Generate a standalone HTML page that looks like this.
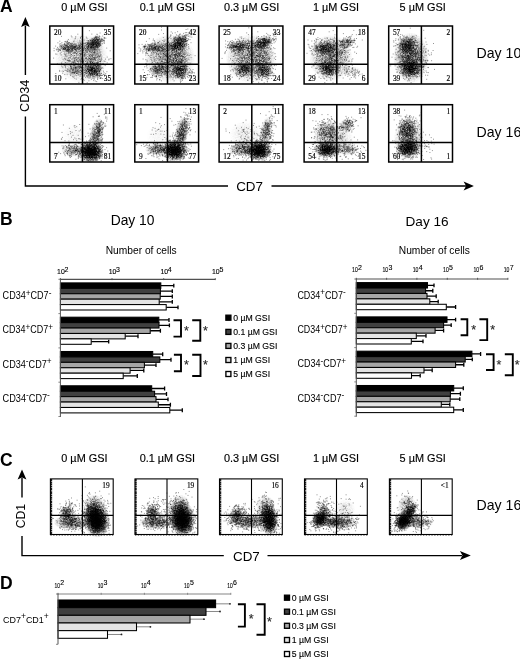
<!DOCTYPE html>
<html><head><meta charset="utf-8"><title>Figure</title>
<style>html,body{margin:0;padding:0;background:#fff}svg{display:block}text{fill:#000}</style></head><body>
<svg width="520" height="659" viewBox="0 0 520 659">
<defs><radialGradient id="g1"><stop offset="0" stop-color="#000" stop-opacity="1"/><stop offset="0.45" stop-color="#000" stop-opacity="0.75"/><stop offset="1" stop-color="#000" stop-opacity="0"/></radialGradient><filter id="sf" x="-5%" y="-5%" width="110%" height="110%"><feGaussianBlur stdDeviation="3.2"/></filter><filter id="st" x="-2%" y="-2%" width="104%" height="104%" color-interpolation-filters="sRGB"><feTurbulence type="fractalNoise" baseFrequency="0.85" numOctaves="2" seed="5" result="n"/><feColorMatrix in="n" type="matrix" values="0 0 0 0 0 0 0 0 0 0 0 0 0 0 0 2.4 0 0 0 -0.7" result="na"/><feComposite in="SourceGraphic" in2="na" operator="arithmetic" k1="1.1" k2="0.4" k3="0" k4="0"/></filter></defs>
<rect width="520" height="659" fill="#fff"/>
<text x="0" y="12.4" font-size="17.5" text-anchor="start" font-family="Liberation Sans, Arial, sans-serif" font-weight="bold">A</text>
<text x="0" y="224.7" font-size="17.5" text-anchor="start" font-family="Liberation Sans, Arial, sans-serif" font-weight="bold">B</text>
<text x="0" y="466.1" font-size="17.5" text-anchor="start" font-family="Liberation Sans, Arial, sans-serif" font-weight="bold">C</text>
<text x="0" y="588.5" font-size="17.5" text-anchor="start" font-family="Liberation Sans, Arial, sans-serif" font-weight="bold">D</text>
<text x="84.4" y="11.1" font-size="10.9" text-anchor="middle" font-family="Liberation Sans, Arial, sans-serif" stroke="#000" stroke-width="0.15">0 µM GSI</text>
<text x="84.4" y="462.0" font-size="10.9" text-anchor="middle" font-family="Liberation Sans, Arial, sans-serif" stroke="#000" stroke-width="0.15">0 µM GSI</text>
<text x="167.3" y="11.1" font-size="10.9" text-anchor="middle" font-family="Liberation Sans, Arial, sans-serif" stroke="#000" stroke-width="0.15">0.1 µM GSI</text>
<text x="167.3" y="462.0" font-size="10.9" text-anchor="middle" font-family="Liberation Sans, Arial, sans-serif" stroke="#000" stroke-width="0.15">0.1 µM GSI</text>
<text x="251.6" y="11.1" font-size="10.9" text-anchor="middle" font-family="Liberation Sans, Arial, sans-serif" stroke="#000" stroke-width="0.15">0.3 µM GSI</text>
<text x="251.6" y="462.0" font-size="10.9" text-anchor="middle" font-family="Liberation Sans, Arial, sans-serif" stroke="#000" stroke-width="0.15">0.3 µM GSI</text>
<text x="336.0" y="11.1" font-size="10.9" text-anchor="middle" font-family="Liberation Sans, Arial, sans-serif" stroke="#000" stroke-width="0.15">1 µM GSI</text>
<text x="336.0" y="462.0" font-size="10.9" text-anchor="middle" font-family="Liberation Sans, Arial, sans-serif" stroke="#000" stroke-width="0.15">1 µM GSI</text>
<text x="422.7" y="11.1" font-size="10.9" text-anchor="middle" font-family="Liberation Sans, Arial, sans-serif" stroke="#000" stroke-width="0.15">5 µM GSI</text>
<text x="422.7" y="462.0" font-size="10.9" text-anchor="middle" font-family="Liberation Sans, Arial, sans-serif" stroke="#000" stroke-width="0.15">5 µM GSI</text>
<path d="M25.4 25.5V75M25.4 116.5V186H228M271.5 186H466" stroke="#000" stroke-width="1.4" fill="none"/>
<path d="M25.4 16.9L21.1 27L25.4 25.1L29.7 27Z" fill="#000"/>
<path d="M473.9 186L463.6 181.6L466.1 186L463.6 190.4Z" fill="#000"/>
<text transform="translate(28.8 111.9) rotate(-90)" font-size="12.6" font-family="Liberation Sans, Arial, sans-serif">CD34</text>
<text x="236.2" y="191.4" font-size="13.4" text-anchor="start" font-family="Liberation Sans, Arial, sans-serif">CD7</text>
<text x="476.6" y="57.9" font-size="14.1" text-anchor="start" font-family="Liberation Sans, Arial, sans-serif">Day 10</text>
<text x="476.6" y="136.9" font-size="14.1" text-anchor="start" font-family="Liberation Sans, Arial, sans-serif">Day 16</text>
<g filter="url(#st)"><rect x="49.8" y="26.0" width="63.8" height="58.0" fill="#000" fill-opacity="0.001"/>
<ellipse cx="81.7" cy="58.5" rx="26.8" ry="24.4" fill="url(#g1)" opacity="0.25" transform="rotate(0 81.7 58.5)"/>
<ellipse cx="81.7" cy="46.9" rx="23.0" ry="5.2" fill="url(#g1)" opacity="0.3" transform="rotate(0 81.7 46.9)"/>
<ellipse cx="94.5" cy="57.9" rx="8.9" ry="20.9" fill="url(#g1)" opacity="0.28" transform="rotate(0 94.5 57.9)"/>
<ellipse cx="67.7" cy="48.0" rx="10.8" ry="4.6" fill="url(#g1)" opacity="0.36" transform="rotate(0 67.7 48.0)"/>
<ellipse cx="95.1" cy="42.8" rx="9.6" ry="7.0" fill="url(#g1)" opacity="0.6" transform="rotate(-30 95.1 42.8)"/>
<ellipse cx="93.2" cy="70.7" rx="9.6" ry="8.7" fill="url(#g1)" opacity="0.6" transform="rotate(0 93.2 70.7)"/>
<ellipse cx="75.3" cy="70.1" rx="9.6" ry="6.4" fill="url(#g1)" opacity="0.26" transform="rotate(0 75.3 70.1)"/>
</g>
<path transform="translate(49.8 26.0) scale(0.1)" d="M293 207h10M187 232h10M135 220h10M185 170h10M250 238h10M145 215h10M217 213h10M170 178h10M220 224h10M203 176h10M290 225h10M160 279h10M182 178h10M159 154h10M252 208h10M138 252h10M80 236h10M53 201h10M108 263h10M298 211h10M239 215h10M221 199h10M76 168h10M209 286h10M202 205h10M307 227h10M191 228h10M177 211h10M93 235h10M179 255h10M161 165h10M179 270h10M161 195h10M109 190h10M166 186h10M281 212h10M192 262h10M281 214h10M206 242h10M173 169h10M227 246h10M212 194h10M173 203h10M166 258h10M283 240h10M220 240h10M184 218h10M142 219h10M329 246h10M163 207h10M130 231h10M210 179h10M216 204h10M276 225h10M295 207h10M167 229h10M252 237h10M106 226h10M186 208h10M144 271h10M160 196h10M226 224h10M180 243h10M216 231h10M247 229h10M146 210h10M152 226h10M116 167h10M191 182h10M60 231h10M140 235h10M151 188h10M106 205h10M168 197h10M167 176h10M186 168h10M173 241h10M255 270h10M86 242h10M262 249h10M126 232h10M304 177h10M215 253h10M141 237h10M117 197h10M133 226h10M179 248h10M125 217h10M246 237h10M101 240h10M154 232h10M204 256h10M192 167h10M98 242h10M169 253h10M202 199h10M254 197h10M54 280h10M63 239h10M245 225h10M78 250h10M93 181h10M162 243h10M204 244h10M157 215h10M112 211h10M223 212h10M215 204h10M147 222h10M173 238h10M196 271h10M171 214h10M119 221h10M229 199h10M182 241h10M177 205h10M247 223h10M210 254h10M258 210h10M151 229h10M177 165h10M266 221h10M232 186h10M267 203h10M178 180h10M174 214h10M173 233h10M189 249h10M155 192h10M184 239h10M264 244h10M72 231h10M278 222h10M152 229h10M153 239h10M184 261h10M217 199h10M224 248h10M149 208h10M38 247h10M148 159h10M72 214h10M234 218h10M215 188h10M99 246h10M216 220h10M267 193h10M158 250h10M302 221h10M292 203h10M206 215h10M84 228h10M245 216h10M181 261h10M105 177h10M143 186h10M271 229h10M130 203h10M368 203h10M136 229h10M226 227h10M127 187h10M223 219h10M80 254h10M234 213h10M168 227h10M141 181h10M206 179h10M210 179h10M179 216h10M299 190h10M95 202h10M113 203h10M212 243h10M291 199h10M353 278h10M172 154h10M180 223h10M38 223h10M172 198h10M225 250h10M154 227h10M143 198h10M190 236h10M149 156h10M222 174h10M477 221h10M423 145h10M539 155h10M458 186h10M402 203h10M442 141h10M560 37h10M446 167h10M425 184h10M455 198h10M482 138h10M542 145h10M455 187h10M396 250h10M465 191h10M522 138h10M407 139h10M370 201h10M406 186h10M427 238h10M454 110h10M470 190h10M451 147h10M367 123h10M450 119h10M418 166h10M492 129h10M515 126h10M471 143h10M499 173h10M462 183h10M408 170h10M427 201h10M424 175h10M483 179h10M328 225h10M414 183h10M419 210h10M340 141h10M455 131h10M437 153h10M490 170h10M300 168h10M467 171h10M439 166h10M491 107h10M435 224h10M425 157h10M437 171h10M423 195h10M480 158h10M518 155h10M367 184h10M407 164h10M415 231h10M478 190h10M454 144h10M470 152h10M465 167h10M491 172h10M389 195h10M528 145h10M390 207h10M512 138h10M337 178h10M418 182h10M497 158h10M513 139h10M389 221h10M451 102h10M469 88h10M367 220h10M469 109h10M490 131h10M541 173h10M466 131h10M462 219h10M375 205h10M438 186h10M427 197h10M465 113h10M414 151h10M384 219h10M488 133h10M468 154h10M373 170h10M541 121h10M458 172h10M422 184h10M391 179h10M427 156h10M512 152h10M380 146h10M505 144h10M383 193h10M426 134h10M339 267h10M418 219h10M415 219h10M477 181h10M469 208h10M470 137h10M442 226h10M425 162h10M442 158h10M376 258h10M394 223h10M496 184h10M381 242h10M470 199h10M480 180h10M460 127h10M427 201h10M352 229h10M422 147h10M498 70h10M401 161h10M423 245h10M494 205h10M459 209h10M477 190h10M503 158h10M465 156h10M421 199h10M465 189h10M381 167h10M434 208h10M490 159h10M538 166h10M456 164h10M388 210h10M397 168h10M445 122h10M477 192h10M454 203h10M477 119h10M480 173h10M430 185h10M414 191h10M474 205h10M478 159h10M373 229h10M401 182h10M309 184h10M478 112h10M378 235h10M433 135h10M432 189h10M449 115h10M503 143h10M434 186h10M418 126h10M423 151h10M454 187h10M457 127h10M407 215h10M415 81h10M462 188h10M380 194h10M468 142h10M383 173h10M433 148h10M402 145h10M419 174h10M468 179h10M358 170h10M411 220h10M489 198h10M464 211h10M457 134h10M433 266h10M435 216h10M442 127h10M488 203h10M524 101h10M538 114h10M380 173h10M493 193h10M425 141h10M467 82h10M395 181h10M415 229h10M467 140h10M413 203h10M401 143h10M387 182h10M540 85h10M470 238h10M437 130h10M350 247h10M437 140h10M524 177h10M448 152h10M502 195h10M487 170h10M439 188h10M501 161h10M370 225h10M463 113h10M432 174h10M452 171h10M532 145h10M434 180h10M455 204h10M427 155h10M383 202h10M449 113h10M425 149h10M480 168h10M466 200h10M424 174h10M452 151h10M417 196h10M483 181h10M433 166h10M526 135h10M436 183h10M450 140h10M462 172h10M450 166h10M475 167h10M420 163h10M427 218h10M406 197h10M432 140h10M368 147h10M458 153h10M407 202h10M463 108h10M483 153h10M440 171h10M474 147h10M377 180h10M478 214h10M411 181h10M400 177h10M478 212h10M323 195h10M454 244h10M477 162h10M366 211h10M424 187h10M544 119h10M474 190h10M363 259h10M473 173h10M458 205h10M490 99h10M555 122h10M434 158h10M469 137h10M483 136h10M498 191h10M415 165h10M498 184h10M431 196h10M445 236h10M488 116h10M538 129h10M451 145h10M395 479h10M427 422h10M498 398h10M369 567h10M415 421h10M397 440h10M474 482h10M462 434h10M358 460h10M511 496h10M425 484h10M414 444h10M371 432h10M441 439h10M473 534h10M501 432h10M397 416h10M384 448h10M455 455h10M444 454h10M427 412h10M522 495h10M387 405h10M404 448h10M498 494h10M488 497h10M490 481h10M457 441h10M345 441h10M526 422h10M402 494h10M438 424h10M513 476h10M473 420h10M459 464h10M474 500h10M491 455h10M469 393h10M467 478h10M414 411h10M431 390h10M451 460h10M385 449h10M488 496h10M485 440h10M417 428h10M464 556h10M506 520h10M503 372h10M424 427h10M498 525h10M400 448h10M462 424h10M402 415h10M479 404h10M492 451h10M472 518h10M400 409h10M456 399h10M397 441h10M442 389h10M414 474h10M502 356h10M500 487h10M379 379h10M455 427h10M441 486h10M415 454h10M458 488h10M523 525h10M446 436h10M554 476h10M456 396h10M473 411h10M411 385h10M408 449h10M358 405h10M430 388h10M370 408h10M362 475h10M383 482h10M481 391h10M436 424h10M376 431h10M422 479h10M486 396h10M413 471h10M494 334h10M499 439h10M512 427h10M392 449h10M493 448h10M314 478h10M352 401h10M375 361h10M370 401h10M403 444h10M417 378h10M425 492h10M482 453h10M465 488h10M503 525h10M417 434h10M509 519h10M512 338h10M423 296h10M471 449h10M437 440h10M500 433h10M487 472h10M452 468h10M439 396h10M470 480h10M426 481h10M480 387h10M427 426h10M388 462h10M391 426h10M446 463h10M450 550h10M408 458h10M372 469h10M493 503h10M401 434h10M498 442h10M483 401h10M504 494h10M458 410h10M426 454h10M447 442h10M423 456h10M505 353h10M364 375h10M399 366h10M462 451h10M421 415h10M442 455h10M451 413h10M467 378h10M498 304h10M404 391h10M474 378h10M527 375h10M537 467h10M435 467h10M546 488h10M320 502h10M446 372h10M473 390h10M443 457h10M401 477h10M382 455h10M406 438h10M532 452h10M378 441h10M395 448h10M442 451h10M438 421h10M457 496h10M402 444h10M437 505h10M489 413h10M438 377h10M385 447h10M466 491h10M418 384h10M454 439h10M455 454h10M470 477h10M477 425h10M485 423h10M438 533h10M452 392h10M510 493h10M492 456h10M451 436h10M398 518h10M415 424h10M411 533h10M479 430h10M432 470h10M479 372h10M480 436h10M399 428h10M474 528h10M441 472h10M392 469h10M476 378h10M408 483h10M344 429h10M464 368h10M414 449h10M479 387h10M490 461h10M495 501h10M451 469h10M345 384h10M383 430h10M481 364h10M418 385h10M354 515h10M439 522h10M494 404h10M339 543h10M413 393h10M469 453h10M400 431h10M442 450h10M472 430h10M416 474h10M450 497h10M421 442h10M375 516h10M363 456h10M388 462h10M472 371h10M423 365h10M506 426h10M353 414h10M501 516h10M499 410h10M426 522h10M396 431h10M385 393h10M495 476h10M457 473h10M486 517h10M433 431h10M382 497h10M408 377h10M420 448h10M476 493h10M397 409h10M417 390h10M428 468h10M436 372h10M373 506h10M382 481h10M466 432h10M383 456h10M389 438h10M439 413h10M422 432h10M371 438h10M401 362h10M417 433h10M403 351h10M473 478h10M467 462h10M370 452h10M386 548h10M407 478h10M355 392h10M406 479h10M462 460h10M339 499h10M387 522h10M529 485h10M484 388h10M566 457h10M306 406h10M238 393h10M227 441h10M259 497h10M273 451h10M245 522h10M205 489h10M117 405h10M269 434h10M434 546h10M146 397h10M233 511h10M315 454h10M152 407h10M71 378h10M270 473h10M159 445h10M346 448h10M223 466h10M276 444h10M209 424h10M249 419h10M328 477h10M312 523h10M344 499h10M266 433h10M390 414h10M203 406h10M256 458h10M308 432h10M132 454h10M305 442h10M234 464h10M334 438h10M152 418h10M232 368h10M292 410h10M275 449h10M223 507h10M207 414h10M261 475h10M242 401h10M287 465h10M375 432h10M256 418h10M148 444h10M297 400h10M199 393h10M328 415h10M279 406h10M247 415h10M93 444h10M276 356h10M231 423h10M174 431h10M119 451h10M318 390h10M238 499h10M250 420h10M184 448h10M234 466h10M145 485h10M217 467h10M196 388h10M206 402h10M219 467h10M311 449h10M208 422h10M280 487h10M222 436h10M194 449h10M303 323h10M259 418h10M94 454h10M237 456h10M155 528h10M250 427h10M340 467h10M296 488h10M110 509h10M220 452h10M301 412h10M263 472h10M240 461h10M140 392h10M169 456h10M481 451h10M233 438h10M305 470h10M169 482h10M241 474h10M115 378h10M281 368h10M267 455h10M252 455h10M259 459h10M217 440h10M429 487h10M281 457h10M196 450h10M227 479h10M184 345h10M207 469h10M399 482h10M180 432h10M229 301h10M234 157h10M380 338h10M313 353h10M552 331h10M291 404h10M154 393h10M248 238h10M344 484h10M251 413h10M373 182h10M431 238h10M172 241h10M253 377h10M252 466h10M356 248h10M241 341h10M112 104h10M236 381h10M351 321h10M309 104h10M296 144h10M422 318h10M322 358h10M367 342h10M369 261h10M187 353h10M489 419h10M309 379h10M284 357h10M266 333h10M549 395h10M494 243h10M257 315h10M392 298h10M442 265h10M479 414h10M211 376h10M307 419h10M273 350h10M391 47h10M128 332h10M318 419h10M356 194h10M367 245h10M307 269h10M370 179h10M210 100h10M564 221h10M238 205h10M262 276h10M398 336h10M367 261h10M324 439h10M329 349h10M112 370h10M360 446h10M33 321h10M318 327h10M262 339h10M406 322h10M298 296h10M288 321h10M252 121h10M477 144h10M316 188h10M298 221h10M324 233h10M188 347h10M473 350h10M340 212h10M319 360h10M257 404h10M323 350h10M274 267h10M351 353h10M365 214h10M247 313h10M125 417h10M361 318h10M249 395h10M297 501h10M369 167h10M405 262h10M270 290h10M312 339h10M409 359h10M247 180h10M238 349h10M420 491h10M180 321h10M301 274h10M340 289h10M297 249h10M368 417h10M503 261h10M211 287h10M235 415h10M236 320h10M180 279h10M346 464h10M250 350h10M100 194h10M237 264h10M372 375h10M151 365h10M204 494h10M359 328h10M306 309h10M325 245h10M406 339h10M406 307h10M399 238h10M276 408h10M459 234h10M144 175h10M217 235h10M307 414h10M442 252h10M383 400h10M477 297h10M244 386h10M489 261h10M536 482h10M296 158h10M260 278h10M382 148h10M588 543h10M246 129h10M306 354h10M470 382h10M302 118h10M380 395h10M291 339h10M346 288h10M199 346h10M170 450h10M227 360h10M245 349h10M301 364h10M238 151h10M293 277h10M161 244h10M142 323h10M283 313h10M606 327h10M364 373h10M309 253h10M419 413h10M287 256h10M458 259h10M417 258h10M279 383h10M243 295h10M204 224h10M402 369h10M199 195h10M599 248h10M229 362h10M239 275h10M420 410h10M302 443h10M307 287h10M322 281h10M380 339h10M239 329h10M264 254h10M308 411h10M353 436h10M492 308h10M257 233h10M353 396h10M495 182h10M423 417h10M588 330h10M320 162h10M239 203h10M214 223h10M157 303h10M366 387h10M314 416h10M440 163h10M295 189h10M218 330h10M311 457h10M547 354h10M304 298h10M324 369h10M245 370h10M299 417h10M473 484h10M308 180h10M143 284h10M172 151h10M287 216h10M401 505h10M301 345h10M155 332h10M250 206h10M124 472h10M151 195h10M328 343h10M358 325h10M230 390h10M348 172h10M501 281h10M430 171h10M198 258h10M252 415h10M151 331h10M218 366h10M350 261h10M569 311h10M447 185h10M315 324h10M343 282h10M267 225h10M301 401h10M569 369h10M439 378h10M408 375h10M301 285h10M365 494h10M414 476h10M189 344h10M373 369h10M181 136h10M100 278h10M585 339h10M199 352h10M298 335h10M282 191h10M273 389h10M364 439h10M215 422h10M339 338h10M468 307h10M361 383h10M404 401h10M474 373h10M286 563h10M331 359h10M254 107h10M251 329h10M393 325h10M422 420h10M443 323h10M345 302h10M241 463h10M201 316h10M361 112h10M417 288h10M360 290h10M170 342h10M348 421h10M388 157h10M456 402h10M419 371h10M260 376h10M311 214h10M300 465h10M275 82h10M496 356h10M283 394h10M236 208h10M440 272h10M394 324h10M427 334h10M114 390h10M285 410h10M349 464h10M302 120h10M302 374h10M299 277h10M496 308h10M451 338h10M179 230h10M302 353h10M248 184h10M226 271h10M240 265h10M538 350h10M247 322h10M507 387h10M325 189h10M152 289h10M324 162h10M191 318h10M95 152h10M330 378h10M370 421h10M507 411h10M307 533h10M518 415h10M248 363h10M109 290h10M66 282h10M448 325h10M512 323h10M348 294h10M395 321h10M468 483h10M378 213h10M398 458h10M408 353h10M440 455h10M55 475h10M422 372h10M278 347h10M404 178h10M419 332h10M497 392h10M319 330h10M408 339h10M398 255h10M203 268h10M183 248h10M377 164h10M205 397h10M281 324h10M204 222h10M305 486h10M386 160h10M387 416h10M413 204h10M331 534h10M237 358h10M257 200h10M291 427h10M464 238h10M287 237h10M113 385h10M507 473h10M288 456h10M457 292h10M338 289h10M365 504h10M239 208h10M434 332h10M134 226h10M250 266h10M374 424h10M322 341h10M259 427h10M486 300h10M260 531h10M441 239h10M157 298h10M470 273h10M314 278h10M411 465h10M204 299h10M319 266h10M211 408h10M358 398h10M505 291h10M400 288h10M331 360h10M323 179h10M505 342h10M217 110h10M339 392h10M451 438h10M300 391h10M174 343h10M441 267h10M324 338h10M356 475h10" stroke="#000" stroke-width="10" stroke-opacity="0.42" fill="none" filter="url(#sf)"/>
<rect x="49.8" y="26.0" width="63.8" height="58.0" fill="none" stroke="#000" stroke-width="1.5"/>
<path d="M82.5 26.0V84.0M49.8 64.3H113.6" stroke="#000" stroke-width="1.5" fill="none"/>
<text x="54.0" y="35.0" font-size="7.4" text-anchor="start" font-family="Liberation Serif, Times New Roman, serif" stroke="#000" stroke-width="0.15">20</text>
<text x="111.19999999999999" y="35.0" font-size="7.4" text-anchor="end" font-family="Liberation Serif, Times New Roman, serif" stroke="#000" stroke-width="0.15">35</text>
<text x="54.0" y="80.9" font-size="7.4" text-anchor="start" font-family="Liberation Serif, Times New Roman, serif" stroke="#000" stroke-width="0.15">10</text>
<text x="111.19999999999999" y="80.9" font-size="7.4" text-anchor="end" font-family="Liberation Serif, Times New Roman, serif" stroke="#000" stroke-width="0.15">35</text>
<g filter="url(#st)"><rect x="134.8" y="26.0" width="63.80000000000001" height="58.0" fill="#000" fill-opacity="0.001"/>
<ellipse cx="169.9" cy="58.5" rx="25.5" ry="24.4" fill="url(#g1)" opacity="0.36" transform="rotate(0 169.9 58.5)"/>
<ellipse cx="165.4" cy="46.9" rx="23.0" ry="5.2" fill="url(#g1)" opacity="0.32" transform="rotate(0 165.4 46.9)"/>
<ellipse cx="179.5" cy="57.9" rx="9.6" ry="22.0" fill="url(#g1)" opacity="0.34" transform="rotate(0 179.5 57.9)"/>
<ellipse cx="151.4" cy="48.0" rx="10.2" ry="4.1" fill="url(#g1)" opacity="0.34" transform="rotate(0 151.4 48.0)"/>
<ellipse cx="179.5" cy="42.2" rx="9.6" ry="8.1" fill="url(#g1)" opacity="0.62" transform="rotate(-30 179.5 42.2)"/>
<ellipse cx="180.1" cy="71.2" rx="9.6" ry="8.7" fill="url(#g1)" opacity="0.5" transform="rotate(0 180.1 71.2)"/>
<ellipse cx="158.4" cy="70.1" rx="9.6" ry="7.0" fill="url(#g1)" opacity="0.36" transform="rotate(0 158.4 70.1)"/>
</g>
<path transform="translate(134.8 26.0) scale(0.1)" d="M109 262h10M98 204h10M128 220h10M146 237h10M179 287h10M203 216h10M202 240h10M166 191h10M127 228h10M231 237h10M172 239h10M147 231h10M269 255h10M265 212h10M191 194h10M237 211h10M94 208h10M194 159h10M87 252h10M184 222h10M75 269h10M243 243h10M107 240h10M251 213h10M162 209h10M216 216h10M157 181h10M72 250h10M278 248h10M268 207h10M174 234h10M167 271h10M93 206h10M155 202h10M231 165h10M250 249h10M198 263h10M327 228h10M224 234h10M211 208h10M132 241h10M145 250h10M229 210h10M201 225h10M170 256h10M181 230h10M55 241h10M87 212h10M281 275h10M154 187h10M204 212h10M200 184h10M250 268h10M87 201h10M135 245h10M54 229h10M164 201h10M224 167h10M92 201h10M224 213h10M126 237h10M149 205h10M160 233h10M351 192h10M197 219h10M163 268h10M229 243h10M151 199h10M199 216h10M144 243h10M103 203h10M231 222h10M223 199h10M225 204h10M267 247h10M210 269h10M203 206h10M280 235h10M259 229h10M256 200h10M101 184h10M230 168h10M68 184h10M197 237h10M130 248h10M202 260h10M242 205h10M195 220h10M212 231h10M184 246h10M186 246h10M185 221h10M241 253h10M262 243h10M169 231h10M193 174h10M111 269h10M179 143h10M175 230h10M104 291h10M254 249h10M171 239h10M236 239h10M140 231h10M191 233h10M116 233h10M182 232h10M195 183h10M236 246h10M96 222h10M127 211h10M245 240h10M307 227h10M110 228h10M25 276h10M197 237h10M189 199h10M172 201h10M147 233h10M102 271h10M110 247h10M137 187h10M202 227h10M162 221h10M136 234h10M145 222h10M246 183h10M139 202h10M124 182h10M157 226h10M167 175h10M217 241h10M178 192h10M119 277h10M282 234h10M115 257h10M184 269h10M136 234h10M159 242h10M132 247h10M148 195h10M209 227h10M38 219h10M179 226h10M302 202h10M171 171h10M80 204h10M164 215h10M213 242h10M236 216h10M203 200h10M195 234h10M140 127h10M131 295h10M166 202h10M179 253h10M193 214h10M91 212h10M96 231h10M268 251h10M134 192h10M83 233h10M208 243h10M194 185h10M49 252h10M118 275h10M37 188h10M112 228h10M214 204h10M209 182h10M139 185h10M136 201h10M190 319h10M502 107h10M419 196h10M358 200h10M393 180h10M415 204h10M421 163h10M500 67h10M409 189h10M381 166h10M444 216h10M553 86h10M342 227h10M404 208h10M399 192h10M470 126h10M448 139h10M514 158h10M442 116h10M501 141h10M558 89h10M448 226h10M445 131h10M443 178h10M390 222h10M432 120h10M458 161h10M397 218h10M419 251h10M452 111h10M469 137h10M500 152h10M448 223h10M423 169h10M405 163h10M421 156h10M328 153h10M432 223h10M457 174h10M471 206h10M374 235h10M358 219h10M439 195h10M511 125h10M496 160h10M441 91h10M505 116h10M442 189h10M500 156h10M465 141h10M399 204h10M548 109h10M437 159h10M374 205h10M421 197h10M286 231h10M447 184h10M387 202h10M510 175h10M473 157h10M459 175h10M492 101h10M452 168h10M411 224h10M420 190h10M376 204h10M413 130h10M515 146h10M401 123h10M443 161h10M505 130h10M459 157h10M389 191h10M392 205h10M491 187h10M420 174h10M457 168h10M528 125h10M414 138h10M510 150h10M557 167h10M499 130h10M558 63h10M482 158h10M430 167h10M372 271h10M488 145h10M560 37h10M378 203h10M411 145h10M416 200h10M471 187h10M395 250h10M534 105h10M407 149h10M508 91h10M459 151h10M484 139h10M427 170h10M416 166h10M517 101h10M478 262h10M529 67h10M493 135h10M490 132h10M385 187h10M492 199h10M367 163h10M339 232h10M424 167h10M450 130h10M400 172h10M489 101h10M396 118h10M394 180h10M451 226h10M447 190h10M450 132h10M526 85h10M411 88h10M474 211h10M459 208h10M433 131h10M436 160h10M524 144h10M423 157h10M435 170h10M461 227h10M444 113h10M448 277h10M451 120h10M500 117h10M436 164h10M389 181h10M442 113h10M413 247h10M368 199h10M396 227h10M430 209h10M457 150h10M501 92h10M428 131h10M475 200h10M444 125h10M489 137h10M374 241h10M413 140h10M448 195h10M464 150h10M495 157h10M398 229h10M426 189h10M456 123h10M468 153h10M473 190h10M452 231h10M407 192h10M401 133h10M359 220h10M511 193h10M478 110h10M435 151h10M449 177h10M416 190h10M408 187h10M450 219h10M517 93h10M391 131h10M589 53h10M495 160h10M447 167h10M465 156h10M474 119h10M406 193h10M424 188h10M437 132h10M389 182h10M391 147h10M445 187h10M434 105h10M456 164h10M453 131h10M404 201h10M487 170h10M430 151h10M399 194h10M389 189h10M464 209h10M439 197h10M449 205h10M455 181h10M506 203h10M506 152h10M503 141h10M362 195h10M346 215h10M491 142h10M520 146h10M357 125h10M491 94h10M402 160h10M494 153h10M498 135h10M532 136h10M356 197h10M508 35h10M391 192h10M367 178h10M485 127h10M395 204h10M500 133h10M456 181h10M439 145h10M384 111h10M466 205h10M399 167h10M547 136h10M464 141h10M422 162h10M483 202h10M517 191h10M438 189h10M429 225h10M415 221h10M514 181h10M433 142h10M424 217h10M450 167h10M470 234h10M419 135h10M485 156h10M439 144h10M434 213h10M463 165h10M459 127h10M428 122h10M430 178h10M472 149h10M423 154h10M453 124h10M346 181h10M472 181h10M471 100h10M445 84h10M390 204h10M480 103h10M433 160h10M501 136h10M478 115h10M423 149h10M430 147h10M323 255h10M398 166h10M495 111h10M456 136h10M473 177h10M417 280h10M493 201h10M360 210h10M469 135h10M361 230h10M496 178h10M454 144h10M429 183h10M525 30h10M384 149h10M395 201h10M447 170h10M511 66h10M503 117h10M378 209h10M398 112h10M461 133h10M474 160h10M389 209h10M394 134h10M425 179h10M536 92h10M505 151h10M433 175h10M372 219h10M465 143h10M424 140h10M436 187h10M434 99h10M431 234h10M436 215h10M380 237h10M374 221h10M488 126h10M475 160h10M380 244h10M456 253h10M372 237h10M532 185h10M449 79h10M565 111h10M506 99h10M443 509h10M380 452h10M465 514h10M437 462h10M435 500h10M498 432h10M478 381h10M453 409h10M429 497h10M560 460h10M443 435h10M489 442h10M501 522h10M483 433h10M490 419h10M361 503h10M549 512h10M433 294h10M414 479h10M431 515h10M409 473h10M462 462h10M379 445h10M464 431h10M383 427h10M401 466h10M499 465h10M469 441h10M460 359h10M453 491h10M423 481h10M373 451h10M440 471h10M457 553h10M287 382h10M415 453h10M416 418h10M369 386h10M405 520h10M504 435h10M491 497h10M388 373h10M524 404h10M494 481h10M364 479h10M478 509h10M448 470h10M469 438h10M533 494h10M528 466h10M509 405h10M417 496h10M438 431h10M457 375h10M458 472h10M433 397h10M539 469h10M397 422h10M366 368h10M351 410h10M471 483h10M443 497h10M478 395h10M406 462h10M484 500h10M379 358h10M553 436h10M501 451h10M379 515h10M474 519h10M481 404h10M448 496h10M415 459h10M510 393h10M431 458h10M500 446h10M414 477h10M420 470h10M469 441h10M495 506h10M384 475h10M443 437h10M456 506h10M444 436h10M387 443h10M452 407h10M436 474h10M523 438h10M554 498h10M497 480h10M458 423h10M450 456h10M462 525h10M556 478h10M505 422h10M353 449h10M467 519h10M578 467h10M522 506h10M466 493h10M475 527h10M402 347h10M463 498h10M509 429h10M484 425h10M491 421h10M401 499h10M392 387h10M497 460h10M338 510h10M393 434h10M450 549h10M455 497h10M449 479h10M384 455h10M425 408h10M471 504h10M481 441h10M494 404h10M473 480h10M452 444h10M462 429h10M445 489h10M358 513h10M480 465h10M405 436h10M426 487h10M488 509h10M459 361h10M407 438h10M472 385h10M445 457h10M425 445h10M571 453h10M555 465h10M419 479h10M434 451h10M340 470h10M425 506h10M460 436h10M401 454h10M435 417h10M548 446h10M499 521h10M474 482h10M479 497h10M482 476h10M460 430h10M431 423h10M463 513h10M405 424h10M403 450h10M505 437h10M468 346h10M445 475h10M422 377h10M476 447h10M544 426h10M445 435h10M458 369h10M521 482h10M441 436h10M479 469h10M432 445h10M470 433h10M436 433h10M435 393h10M405 469h10M493 450h10M273 385h10M474 530h10M514 443h10M435 433h10M541 463h10M407 496h10M495 360h10M421 499h10M499 396h10M453 493h10M471 405h10M444 483h10M478 409h10M572 463h10M378 438h10M316 422h10M452 563h10M464 470h10M492 463h10M424 516h10M480 524h10M506 411h10M432 435h10M435 474h10M446 418h10M528 516h10M457 406h10M424 420h10M410 410h10M467 468h10M477 412h10M470 545h10M467 437h10M592 469h10M424 495h10M420 438h10M506 427h10M381 487h10M497 392h10M438 504h10M468 493h10M450 426h10M428 441h10M465 333h10M360 456h10M490 425h10M457 407h10M388 463h10M453 432h10M392 459h10M453 444h10M450 439h10M482 473h10M351 499h10M237 394h10M279 419h10M334 384h10M212 503h10M239 471h10M280 423h10M291 408h10M218 526h10M227 457h10M172 495h10M181 413h10M201 405h10M150 430h10M208 438h10M177 406h10M218 442h10M180 440h10M223 483h10M276 461h10M300 416h10M321 449h10M207 457h10M171 511h10M253 383h10M167 421h10M202 459h10M291 481h10M270 405h10M306 490h10M117 419h10M215 411h10M301 459h10M240 393h10M109 404h10M185 405h10M105 380h10M209 454h10M203 431h10M231 438h10M310 409h10M248 388h10M308 469h10M297 445h10M228 390h10M255 494h10M64 510h10M185 459h10M185 435h10M286 433h10M348 442h10M276 416h10M205 425h10M267 507h10M238 390h10M198 387h10M266 442h10M169 427h10M294 459h10M200 471h10M260 419h10M248 515h10M168 481h10M227 466h10M261 452h10M226 441h10M278 459h10M145 459h10M318 476h10M249 369h10M273 467h10M327 403h10M221 420h10M219 372h10M207 424h10M212 504h10M197 423h10M305 418h10M310 458h10M196 412h10M244 433h10M241 417h10M272 414h10M206 433h10M157 428h10M222 383h10M123 489h10M218 434h10M195 503h10M222 369h10M265 401h10M262 435h10M314 459h10M211 497h10M406 419h10M303 455h10M264 391h10M175 497h10M245 419h10M349 489h10M282 402h10M235 500h10M109 377h10M186 480h10M251 460h10M249 445h10M266 494h10M209 505h10M243 448h10M208 411h10M202 402h10M155 515h10M265 481h10M269 384h10M239 406h10M186 437h10M247 445h10M245 430h10M239 492h10M375 486h10M223 457h10M298 482h10M314 491h10M263 430h10M139 485h10M276 407h10M238 425h10M209 512h10M214 539h10M228 412h10M245 538h10M227 462h10M92 465h10M149 436h10M323 431h10M282 432h10M215 452h10M305 445h10M235 402h10M129 446h10M224 452h10M302 474h10M180 451h10M254 431h10M92 408h10M230 471h10M216 384h10M322 439h10M206 462h10M279 437h10M198 417h10M285 434h10M266 363h10M203 424h10M205 361h10M206 503h10M254 418h10M188 385h10M249 408h10M209 476h10M411 409h10M290 152h10M227 432h10M345 439h10M305 409h10M244 200h10M314 459h10M430 195h10M330 163h10M377 348h10M338 357h10M372 72h10M326 310h10M425 363h10M500 336h10M376 531h10M214 280h10M165 372h10M446 481h10M416 263h10M234 229h10M242 390h10M333 339h10M378 469h10M435 470h10M227 239h10M350 106h10M262 40h10M282 76h10M256 384h10M299 259h10M194 340h10M335 324h10M245 212h10M419 433h10M260 355h10M212 279h10M296 139h10M217 254h10M382 192h10M183 267h10M166 513h10M241 333h10M351 379h10M336 412h10M491 237h10M322 306h10M269 297h10M515 347h10M374 459h10M420 375h10M496 249h10M158 336h10M250 373h10M412 341h10M371 281h10M202 445h10M331 126h10M555 288h10M397 409h10M145 301h10M309 180h10M299 329h10M413 321h10M298 240h10M465 215h10M403 110h10M134 385h10M451 262h10M282 220h10M475 305h10M271 370h10M186 173h10M118 342h10M400 251h10M307 190h10M416 297h10M346 175h10M350 302h10M391 152h10M327 225h10M537 224h10M558 313h10M311 246h10M302 453h10M457 352h10M271 272h10M443 284h10M472 351h10M291 283h10M310 197h10M328 250h10M267 216h10M439 278h10M282 276h10M477 410h10M314 279h10M181 130h10M482 304h10M424 490h10M393 261h10M332 164h10M341 193h10M563 450h10M381 330h10M274 146h10M459 459h10M387 391h10M315 471h10M387 225h10M494 272h10M306 283h10M423 279h10M190 210h10M305 298h10M306 363h10M370 250h10M445 352h10M156 316h10M342 305h10M396 300h10M455 282h10M484 281h10M101 200h10M330 284h10M298 337h10M354 336h10M465 514h10M414 338h10M232 371h10M279 422h10M358 390h10M489 402h10M295 370h10M402 281h10M305 271h10M307 301h10M298 364h10M269 322h10M426 141h10M293 409h10M376 392h10M465 198h10M339 116h10M232 384h10M285 471h10M326 437h10M340 381h10M388 548h10M420 416h10M321 334h10M449 356h10M404 406h10M421 304h10M347 219h10M280 116h10M206 302h10M446 205h10M462 368h10M417 435h10M382 399h10M196 447h10M458 303h10M360 404h10M439 288h10M238 304h10M314 436h10M187 339h10M399 68h10M120 485h10M410 270h10M359 340h10M254 318h10M451 429h10M118 357h10M347 487h10M549 373h10M344 450h10M414 427h10M367 264h10M192 147h10M498 340h10M476 224h10M537 336h10M330 366h10M166 347h10M321 356h10M321 371h10M87 53h10M223 256h10M242 408h10M335 365h10M361 473h10M248 340h10M420 357h10M424 308h10M329 217h10M319 360h10M417 441h10M256 259h10M277 319h10M236 280h10M369 396h10M436 349h10M355 92h10M421 296h10M405 370h10M160 448h10M476 214h10M268 462h10M441 431h10M290 184h10M344 353h10M414 498h10M284 409h10M289 198h10M541 459h10M337 240h10M483 74h10M443 195h10M215 447h10M425 233h10M298 455h10M387 216h10M238 445h10M470 241h10M267 339h10M400 319h10M381 421h10M179 318h10M403 372h10M353 339h10M448 331h10M227 282h10M312 408h10M395 291h10M343 294h10M484 208h10M485 186h10M277 193h10M440 277h10M303 338h10M452 195h10M393 321h10M298 300h10M380 384h10M370 431h10M429 179h10M327 323h10M262 12h10M286 335h10M411 343h10M254 317h10M387 361h10M157 294h10M432 196h10M166 292h10M354 300h10M394 381h10M271 355h10M286 152h10M194 453h10M195 405h10M359 188h10M323 236h10M361 202h10M198 400h10M386 370h10M115 394h10M229 404h10M302 291h10M259 215h10M364 243h10M316 387h10M362 392h10M211 428h10M342 329h10M382 328h10M361 394h10M317 366h10M282 300h10M426 420h10M299 441h10M598 297h10M199 420h10M381 387h10M318 281h10M293 231h10M227 239h10M256 277h10M451 385h10M312 299h10M334 377h10M77 513h10M234 84h10M425 361h10M348 268h10M396 286h10M115 514h10M455 534h10M398 285h10M396 313h10M427 363h10M410 217h10M317 251h10M303 394h10M381 346h10M224 326h10M367 365h10M242 537h10M306 421h10M524 287h10M431 304h10M257 330h10M305 296h10M540 296h10M173 364h10M389 504h10M510 407h10M384 237h10M315 304h10M361 289h10M430 434h10M474 348h10M355 91h10M383 354h10M369 459h10M334 455h10M363 388h10M405 295h10M261 377h10M325 414h10M78 330h10M157 318h10M273 405h10M334 277h10M355 189h10M331 199h10M483 405h10M329 462h10M402 226h10M263 474h10M338 454h10M359 59h10M425 505h10M393 425h10M111 154h10M313 215h10M269 220h10M501 397h10M243 153h10M331 310h10M388 389h10M382 129h10M404 203h10M356 349h10M292 362h10M105 337h10M332 392h10M508 87h10M236 247h10M483 315h10M312 512h10M375 341h10M299 255h10M345 305h10M153 425h10M390 366h10M311 455h10M362 282h10M290 263h10M282 253h10M288 217h10M275 241h10M447 186h10M344 349h10M415 211h10M339 294h10M338 327h10M268 415h10M365 252h10M406 298h10M491 409h10M321 412h10M312 302h10M327 432h10M244 234h10M261 392h10M423 57h10M429 352h10M403 416h10M356 358h10M135 242h10M389 126h10M355 398h10M416 244h10M352 317h10M232 284h10M391 220h10M531 480h10M398 302h10M367 311h10M444 361h10M533 208h10M252 308h10M261 548h10M278 317h10M79 437h10M190 354h10M567 474h10M273 405h10M577 435h10M314 345h10M217 465h10M347 292h10M465 333h10M239 306h10M337 182h10M451 366h10M211 381h10M284 376h10M321 449h10M295 292h10M341 417h10M349 205h10M434 424h10M378 381h10M200 169h10" stroke="#000" stroke-width="10" stroke-opacity="0.42" fill="none" filter="url(#sf)"/>
<rect x="134.8" y="26.0" width="63.80000000000001" height="58.0" fill="none" stroke="#000" stroke-width="1.5"/>
<path d="M167.5 26.0V84.0M134.8 64.3H198.60000000000002" stroke="#000" stroke-width="1.5" fill="none"/>
<text x="139.0" y="35.0" font-size="7.4" text-anchor="start" font-family="Liberation Serif, Times New Roman, serif" stroke="#000" stroke-width="0.15">20</text>
<text x="196.20000000000002" y="35.0" font-size="7.4" text-anchor="end" font-family="Liberation Serif, Times New Roman, serif" stroke="#000" stroke-width="0.15">42</text>
<text x="139.0" y="80.9" font-size="7.4" text-anchor="start" font-family="Liberation Serif, Times New Roman, serif" stroke="#000" stroke-width="0.15">15</text>
<text x="196.20000000000002" y="80.9" font-size="7.4" text-anchor="end" font-family="Liberation Serif, Times New Roman, serif" stroke="#000" stroke-width="0.15">23</text>
<g filter="url(#st)"><rect x="219.1" y="26.0" width="63.79999999999998" height="58.0" fill="#000" fill-opacity="0.001"/>
<ellipse cx="251.0" cy="58.5" rx="25.5" ry="24.4" fill="url(#g1)" opacity="0.36" transform="rotate(0 251.0 58.5)"/>
<ellipse cx="249.7" cy="45.1" rx="23.0" ry="5.8" fill="url(#g1)" opacity="0.32" transform="rotate(0 249.7 45.1)"/>
<ellipse cx="263.8" cy="57.9" rx="8.9" ry="20.9" fill="url(#g1)" opacity="0.28" transform="rotate(0 263.8 57.9)"/>
<ellipse cx="237.0" cy="46.9" rx="10.8" ry="4.6" fill="url(#g1)" opacity="0.4" transform="rotate(0 237.0 46.9)"/>
<ellipse cx="263.8" cy="41.7" rx="9.6" ry="5.8" fill="url(#g1)" opacity="0.55" transform="rotate(-20 263.8 41.7)"/>
<ellipse cx="263.8" cy="71.2" rx="9.6" ry="8.1" fill="url(#g1)" opacity="0.5" transform="rotate(0 263.8 71.2)"/>
<ellipse cx="243.3" cy="69.5" rx="9.6" ry="7.5" fill="url(#g1)" opacity="0.52" transform="rotate(0 243.3 69.5)"/>
</g>
<path transform="translate(219.1 26.0) scale(0.1)" d="M232 189h10M181 230h10M59 149h10M214 191h10M158 246h10M163 207h10M198 154h10M290 222h10M145 245h10M120 187h10M101 202h10M132 217h10M136 217h10M207 221h10M203 212h10M126 146h10M201 164h10M201 207h10M176 209h10M215 178h10M199 243h10M229 244h10M161 206h10M298 225h10M195 241h10M123 205h10M207 207h10M275 223h10M235 183h10M178 208h10M212 224h10M179 227h10M312 210h10M137 247h10M274 215h10M240 144h10M209 203h10M320 216h10M296 203h10M162 192h10M105 191h10M250 161h10M186 245h10M196 226h10M202 226h10M58 257h10M203 192h10M161 205h10M223 172h10M100 168h10M237 181h10M188 173h10M176 194h10M134 245h10M187 179h10M333 180h10M106 157h10M283 216h10M202 245h10M189 233h10M288 218h10M233 217h10M191 256h10M219 219h10M62 182h10M138 210h10M206 215h10M172 221h10M205 239h10M69 243h10M306 247h10M155 182h10M178 253h10M199 147h10M332 160h10M141 210h10M200 237h10M79 213h10M138 236h10M204 245h10M101 174h10M133 194h10M133 169h10M141 157h10M241 193h10M97 214h10M75 220h10M155 263h10M212 183h10M234 212h10M220 110h10M148 194h10M259 174h10M199 202h10M89 190h10M212 201h10M166 205h10M182 218h10M172 161h10M163 210h10M281 176h10M276 190h10M278 142h10M158 133h10M83 193h10M206 182h10M191 181h10M278 189h10M300 264h10M117 224h10M146 254h10M196 265h10M164 198h10M126 211h10M202 209h10M194 231h10M170 187h10M111 189h10M154 240h10M234 184h10M214 179h10M229 156h10M238 202h10M192 204h10M109 212h10M177 232h10M216 247h10M212 171h10M226 170h10M131 210h10M124 195h10M241 189h10M120 167h10M357 194h10M179 210h10M248 190h10M120 196h10M128 163h10M58 209h10M150 253h10M144 197h10M255 155h10M227 182h10M105 220h10M185 172h10M193 258h10M230 212h10M142 205h10M208 201h10M207 239h10M83 214h10M210 200h10M137 256h10M172 205h10M143 199h10M158 205h10M82 157h10M138 197h10M141 231h10M175 231h10M192 137h10M207 254h10M187 206h10M104 216h10M111 153h10M191 234h10M159 203h10M134 259h10M201 197h10M158 212h10M247 191h10M121 218h10M169 161h10M169 198h10M151 212h10M192 261h10M216 234h10M148 208h10M134 186h10M229 277h10M221 221h10M210 233h10M172 206h10M216 259h10M182 155h10M226 214h10M127 181h10M163 224h10M173 177h10M151 209h10M214 217h10M231 147h10M190 217h10M117 214h10M144 170h10M95 225h10M214 243h10M225 224h10M110 202h10M160 272h10M123 168h10M114 240h10M138 232h10M146 241h10M81 194h10M216 201h10M121 254h10M89 182h10M417 232h10M429 129h10M496 111h10M471 195h10M417 208h10M482 170h10M421 202h10M442 151h10M416 228h10M463 167h10M416 227h10M362 203h10M367 160h10M546 102h10M407 131h10M456 164h10M451 169h10M388 181h10M477 167h10M389 175h10M391 212h10M464 153h10M495 163h10M471 217h10M553 73h10M479 165h10M454 136h10M420 161h10M448 191h10M377 144h10M489 158h10M444 139h10M419 178h10M438 196h10M479 181h10M442 174h10M374 144h10M509 96h10M407 185h10M458 124h10M532 133h10M453 172h10M407 190h10M376 182h10M381 207h10M475 155h10M325 178h10M469 138h10M439 168h10M354 198h10M408 164h10M497 134h10M468 174h10M377 180h10M380 160h10M342 163h10M475 157h10M448 125h10M399 152h10M380 145h10M410 206h10M437 200h10M456 156h10M377 160h10M457 150h10M454 149h10M563 107h10M452 199h10M402 163h10M447 131h10M456 137h10M402 194h10M414 164h10M463 170h10M493 156h10M398 165h10M436 139h10M375 209h10M393 179h10M488 140h10M405 234h10M410 179h10M443 199h10M508 163h10M489 151h10M416 186h10M460 198h10M460 145h10M493 148h10M409 177h10M543 133h10M404 155h10M457 159h10M486 153h10M426 135h10M563 79h10M397 225h10M446 128h10M388 212h10M414 238h10M427 175h10M485 150h10M509 168h10M480 198h10M469 166h10M496 168h10M504 178h10M394 127h10M516 138h10M478 213h10M485 138h10M450 169h10M363 198h10M545 168h10M405 134h10M474 140h10M452 186h10M450 144h10M490 137h10M450 176h10M537 92h10M448 217h10M370 124h10M547 135h10M445 165h10M337 179h10M390 192h10M444 96h10M525 176h10M454 185h10M416 171h10M411 189h10M451 150h10M485 154h10M471 187h10M448 132h10M547 141h10M327 217h10M566 138h10M488 166h10M439 189h10M437 158h10M391 179h10M382 173h10M429 147h10M392 166h10M499 169h10M429 168h10M493 139h10M437 188h10M488 160h10M538 122h10M501 161h10M500 212h10M444 174h10M535 76h10M389 167h10M384 168h10M406 154h10M436 189h10M393 162h10M517 147h10M446 184h10M516 154h10M440 130h10M482 175h10M441 169h10M437 154h10M389 190h10M495 93h10M468 140h10M374 111h10M427 210h10M488 184h10M477 143h10M494 193h10M407 217h10M503 140h10M504 141h10M440 211h10M457 165h10M438 131h10M372 210h10M389 217h10M499 118h10M426 201h10M413 178h10M390 156h10M441 127h10M404 195h10M408 172h10M558 85h10M440 167h10M418 213h10M485 171h10M541 141h10M557 128h10M565 124h10M366 194h10M429 208h10M550 50h10M430 134h10M507 226h10M365 222h10M488 162h10M426 167h10M336 150h10M362 188h10M379 190h10M464 133h10M438 179h10M320 276h10M429 130h10M449 182h10M530 125h10M374 181h10M536 148h10M362 196h10M455 200h10M408 158h10M461 155h10M463 196h10M502 152h10M421 105h10M411 185h10M482 87h10M423 232h10M437 161h10M399 164h10M485 178h10M519 169h10M450 207h10M557 157h10M459 180h10M470 118h10M395 204h10M428 196h10M390 136h10M455 148h10M364 248h10M466 104h10M418 197h10M358 166h10M364 209h10M384 203h10M453 134h10M327 110h10M400 209h10M413 492h10M443 393h10M434 483h10M452 418h10M485 490h10M513 465h10M528 420h10M426 386h10M445 456h10M446 392h10M501 372h10M398 312h10M502 491h10M437 468h10M382 401h10M395 468h10M426 461h10M390 388h10M469 466h10M470 422h10M461 378h10M389 468h10M397 394h10M397 532h10M424 467h10M442 504h10M497 474h10M449 381h10M478 559h10M477 552h10M487 499h10M424 449h10M475 509h10M395 386h10M443 450h10M474 537h10M420 544h10M479 456h10M361 526h10M543 478h10M476 434h10M347 416h10M372 389h10M404 426h10M475 516h10M437 492h10M429 439h10M466 423h10M460 430h10M402 421h10M527 464h10M423 461h10M407 430h10M428 372h10M438 473h10M460 445h10M501 413h10M504 498h10M457 524h10M405 464h10M439 416h10M429 471h10M467 482h10M412 447h10M440 421h10M445 352h10M386 428h10M426 482h10M417 531h10M370 538h10M397 398h10M407 422h10M430 430h10M469 488h10M391 509h10M458 451h10M489 447h10M519 395h10M508 429h10M483 431h10M531 469h10M484 402h10M370 463h10M524 459h10M371 531h10M420 487h10M404 419h10M461 329h10M395 432h10M424 375h10M501 440h10M436 362h10M439 480h10M487 477h10M439 438h10M452 480h10M431 439h10M462 437h10M456 455h10M395 518h10M476 407h10M394 426h10M412 403h10M453 433h10M393 518h10M424 462h10M374 397h10M390 490h10M477 436h10M426 462h10M397 436h10M488 406h10M473 442h10M450 440h10M483 487h10M468 372h10M447 501h10M389 376h10M429 484h10M376 462h10M426 445h10M461 439h10M412 454h10M518 474h10M475 404h10M415 386h10M487 493h10M463 483h10M420 431h10M502 429h10M493 524h10M383 407h10M527 493h10M520 525h10M427 541h10M512 496h10M459 433h10M404 383h10M401 414h10M453 417h10M354 457h10M340 433h10M477 378h10M382 446h10M510 443h10M420 461h10M354 379h10M477 485h10M473 455h10M465 368h10M387 431h10M492 458h10M444 397h10M449 467h10M472 443h10M547 396h10M489 391h10M379 483h10M424 415h10M446 568h10M414 435h10M507 425h10M567 392h10M434 496h10M434 428h10M373 445h10M489 439h10M395 513h10M488 478h10M434 411h10M503 454h10M426 442h10M464 490h10M443 433h10M387 438h10M434 465h10M443 426h10M439 479h10M439 442h10M432 435h10M462 479h10M430 442h10M464 485h10M514 389h10M487 428h10M476 493h10M538 427h10M496 339h10M447 350h10M408 399h10M371 449h10M389 397h10M404 426h10M470 430h10M397 372h10M473 463h10M475 419h10M505 475h10M558 433h10M486 524h10M432 449h10M419 438h10M485 460h10M391 563h10M408 504h10M447 482h10M474 488h10M485 530h10M411 391h10M361 358h10M470 371h10M364 462h10M430 455h10M309 392h10M366 449h10M442 468h10M417 482h10M490 445h10M394 490h10M489 476h10M408 348h10M180 482h10M308 392h10M254 486h10M316 396h10M230 431h10M177 504h10M139 450h10M299 452h10M283 343h10M244 446h10M257 381h10M227 401h10M321 408h10M234 427h10M229 503h10M325 450h10M222 416h10M135 437h10M260 427h10M189 483h10M286 441h10M332 445h10M346 428h10M251 411h10M294 415h10M266 440h10M200 524h10M305 426h10M291 449h10M218 509h10M291 460h10M273 463h10M287 446h10M255 441h10M158 429h10M314 498h10M256 404h10M302 404h10M186 380h10M127 512h10M246 321h10M197 367h10M292 409h10M200 461h10M334 404h10M239 395h10M294 444h10M249 401h10M326 422h10M308 484h10M176 426h10M256 391h10M236 447h10M147 422h10M260 416h10M208 378h10M242 442h10M235 489h10M242 417h10M340 462h10M304 487h10M212 396h10M336 358h10M212 499h10M204 465h10M196 531h10M238 468h10M166 465h10M282 417h10M282 427h10M265 415h10M217 385h10M268 427h10M203 502h10M244 430h10M201 473h10M252 402h10M229 459h10M249 482h10M302 524h10M206 434h10M229 426h10M247 421h10M295 386h10M246 461h10M301 435h10M261 438h10M272 429h10M284 490h10M363 422h10M292 447h10M268 418h10M251 459h10M246 420h10M314 441h10M231 437h10M232 406h10M274 427h10M173 477h10M224 378h10M239 407h10M254 388h10M219 369h10M164 439h10M210 496h10M200 441h10M170 494h10M244 373h10M255 415h10M364 478h10M198 463h10M269 421h10M223 425h10M187 446h10M214 431h10M222 406h10M352 447h10M281 543h10M240 407h10M146 378h10M278 380h10M126 437h10M238 503h10M160 476h10M111 486h10M259 397h10M312 442h10M276 437h10M308 462h10M189 400h10M195 467h10M278 447h10M230 412h10M262 469h10M287 501h10M341 421h10M387 496h10M260 450h10M275 415h10M205 438h10M223 321h10M279 359h10M262 422h10M207 466h10M197 397h10M260 444h10M203 405h10M201 449h10M268 468h10M237 399h10M284 541h10M334 394h10M286 430h10M237 425h10M196 375h10M268 395h10M212 420h10M248 418h10M235 418h10M258 450h10M327 458h10M211 458h10M296 413h10M212 345h10M328 442h10M320 374h10M110 448h10M196 443h10M200 469h10M225 430h10M271 418h10M222 486h10M239 445h10M273 441h10M274 513h10M306 380h10M119 401h10M110 328h10M185 398h10M254 454h10M368 408h10M210 445h10M306 426h10M193 328h10M292 427h10M332 509h10M352 454h10M294 382h10M268 421h10M303 414h10M231 402h10M347 440h10M187 420h10M170 484h10M313 442h10M260 377h10M332 434h10M360 412h10M270 471h10M288 431h10M305 451h10M245 394h10M316 437h10M270 433h10M263 421h10M389 508h10M282 447h10M281 401h10M277 432h10M219 408h10M205 455h10M244 404h10M267 441h10M237 494h10M228 382h10M251 396h10M290 458h10M225 455h10M220 417h10M142 352h10M219 505h10M175 432h10M205 456h10M321 239h10M281 358h10M310 304h10M394 369h10M375 391h10M290 223h10M336 368h10M206 402h10M248 233h10M268 347h10M365 233h10M224 279h10M320 358h10M387 365h10M302 261h10M397 306h10M433 314h10M330 265h10M193 441h10M398 198h10M427 389h10M432 398h10M332 271h10M212 371h10M273 198h10M405 411h10M275 195h10M337 265h10M330 336h10M437 230h10M228 415h10M434 301h10M376 350h10M469 276h10M420 215h10M257 484h10M412 444h10M346 258h10M288 451h10M53 276h10M294 162h10M388 306h10M522 400h10M616 384h10M463 390h10M376 244h10M425 410h10M329 278h10M366 202h10M427 221h10M402 344h10M377 376h10M340 397h10M457 168h10M422 251h10M370 371h10M360 335h10M335 339h10M362 309h10M291 377h10M202 343h10M164 243h10M369 294h10M201 385h10M232 396h10M283 281h10M349 467h10M428 516h10M371 296h10M249 447h10M329 275h10M308 290h10M348 479h10M295 290h10M411 194h10M277 363h10M287 206h10M276 357h10M400 379h10M382 372h10M269 321h10M176 204h10M397 278h10M232 319h10M238 404h10M237 210h10M324 257h10M175 203h10M356 359h10M404 363h10M503 323h10M326 299h10M369 440h10M330 304h10M395 209h10M374 298h10M406 442h10M369 343h10M494 331h10M288 142h10M372 243h10M341 302h10M358 498h10M293 399h10M235 256h10M226 452h10M554 276h10M336 355h10M222 299h10M431 355h10M286 237h10M297 474h10M552 390h10M325 240h10M117 236h10M391 442h10M377 294h10M194 265h10M260 261h10M435 227h10M226 240h10M376 336h10M358 474h10M245 191h10M268 408h10M512 363h10M186 181h10M328 299h10M175 401h10M307 375h10M307 160h10M505 363h10M399 259h10M434 194h10M484 327h10M220 192h10M504 158h10M153 274h10M413 248h10M373 378h10M313 193h10M183 131h10M417 374h10M153 296h10M293 227h10M267 468h10M214 179h10M277 236h10M525 293h10M120 262h10M253 414h10M274 244h10M342 347h10M296 361h10M223 322h10M269 215h10M161 273h10M450 201h10M489 427h10M416 426h10M393 481h10M301 285h10M372 348h10M297 303h10M252 313h10M381 531h10M417 128h10M309 240h10M419 319h10M360 315h10M561 306h10M244 315h10M333 195h10M350 276h10M218 361h10M261 326h10M238 253h10M262 296h10M297 252h10M462 195h10M294 379h10M239 348h10M181 329h10M343 313h10M404 284h10M344 242h10M383 372h10M495 317h10M396 394h10M339 250h10M533 268h10M257 355h10M440 401h10M349 264h10M336 556h10M215 318h10M345 229h10M245 393h10M388 125h10M282 299h10M442 234h10M202 303h10M286 223h10M280 179h10M415 428h10M428 414h10M368 333h10M406 153h10M355 378h10M225 340h10M176 273h10M306 272h10M446 257h10M364 239h10M314 338h10M370 372h10M461 282h10M393 305h10M241 220h10M560 335h10M214 198h10M288 246h10M434 325h10M390 303h10M276 322h10M381 273h10M463 337h10M321 339h10M258 211h10M364 355h10M272 478h10M326 382h10M220 124h10M299 346h10M443 258h10M363 300h10M289 394h10M236 383h10M444 199h10M406 445h10M301 250h10M242 232h10M288 334h10M180 431h10M214 271h10M518 197h10M374 470h10M392 371h10M25 324h10M389 105h10M471 74h10M362 397h10M400 354h10M513 261h10M239 293h10M344 495h10M450 350h10M327 529h10M192 328h10M497 321h10M240 244h10M203 155h10M332 191h10M129 345h10M460 359h10M255 400h10M280 397h10M190 210h10M297 174h10M151 376h10M448 123h10M553 226h10M188 355h10M433 408h10M305 152h10M177 450h10M364 359h10M462 506h10M187 279h10M340 284h10M286 315h10M458 225h10M255 280h10M344 338h10M451 316h10M357 219h10M285 416h10M396 332h10M333 369h10M241 199h10M301 320h10M278 289h10M393 150h10M490 217h10M268 364h10M291 224h10M335 417h10M412 162h10M415 271h10M253 320h10M406 275h10M466 264h10M476 243h10M223 191h10M482 377h10M411 290h10M231 229h10M547 321h10M171 293h10M323 79h10M294 377h10M252 333h10M379 439h10M267 181h10M325 434h10M288 86h10M54 266h10M466 359h10M236 260h10M277 291h10M377 305h10M290 158h10M309 495h10M357 321h10M182 230h10M325 532h10M411 211h10M228 271h10M185 260h10M413 210h10M294 320h10M393 437h10M173 270h10M451 257h10M540 218h10M185 288h10M467 265h10M367 249h10M266 382h10M466 413h10M144 387h10M397 340h10M508 398h10M328 340h10M205 111h10M207 421h10M153 288h10M199 283h10M315 356h10M167 344h10M408 290h10M405 300h10M385 368h10M401 343h10M311 294h10M301 195h10M479 285h10M349 201h10M328 282h10M317 417h10M335 221h10M357 407h10M187 381h10M276 404h10M358 195h10M354 173h10M270 469h10M439 227h10M414 378h10M241 127h10M243 496h10M339 269h10M308 335h10M382 58h10M424 200h10M215 436h10M493 327h10M425 483h10M370 265h10M482 223h10M471 351h10M271 69h10M287 264h10M375 193h10M518 229h10M280 279h10M388 245h10M230 349h10M292 18h10M328 232h10M359 229h10M354 202h10M425 292h10M392 301h10M307 286h10M196 248h10M326 334h10M376 470h10M526 498h10M226 343h10M434 295h10M442 312h10M341 282h10M398 409h10M357 351h10M323 376h10M272 417h10M167 237h10M372 230h10M450 271h10M225 285h10M276 287h10M214 299h10M139 304h10M317 331h10M248 303h10M351 313h10M430 147h10M380 303h10M205 468h10M233 220h10M229 323h10M510 233h10M374 294h10M481 419h10M372 178h10M446 395h10M289 254h10M338 339h10" stroke="#000" stroke-width="10" stroke-opacity="0.42" fill="none" filter="url(#sf)"/>
<rect x="219.1" y="26.0" width="63.79999999999998" height="58.0" fill="none" stroke="#000" stroke-width="1.5"/>
<path d="M251.8 26.0V84.0M219.1 64.3H282.9" stroke="#000" stroke-width="1.5" fill="none"/>
<text x="223.29999999999998" y="35.0" font-size="7.4" text-anchor="start" font-family="Liberation Serif, Times New Roman, serif" stroke="#000" stroke-width="0.15">25</text>
<text x="280.5" y="35.0" font-size="7.4" text-anchor="end" font-family="Liberation Serif, Times New Roman, serif" stroke="#000" stroke-width="0.15">33</text>
<text x="223.29999999999998" y="80.9" font-size="7.4" text-anchor="start" font-family="Liberation Serif, Times New Roman, serif" stroke="#000" stroke-width="0.15">18</text>
<text x="280.5" y="80.9" font-size="7.4" text-anchor="end" font-family="Liberation Serif, Times New Roman, serif" stroke="#000" stroke-width="0.15">24</text>
<g filter="url(#st)"><rect x="304.1" y="26.0" width="63.80000000000001" height="58.0" fill="#000" fill-opacity="0.001"/>
<ellipse cx="330.9" cy="57.9" rx="21.7" ry="23.2" fill="url(#g1)" opacity="0.38" transform="rotate(0 330.9 57.9)"/>
<ellipse cx="325.2" cy="48.0" rx="14.0" ry="7.0" fill="url(#g1)" opacity="0.5" transform="rotate(0 325.2 48.0)"/>
<ellipse cx="346.2" cy="43.4" rx="8.3" ry="5.8" fill="url(#g1)" opacity="0.32" transform="rotate(-25 346.2 43.4)"/>
<ellipse cx="328.3" cy="68.9" rx="10.2" ry="8.1" fill="url(#g1)" opacity="0.6" transform="rotate(0 328.3 68.9)"/>
<ellipse cx="352.0" cy="70.7" rx="9.6" ry="4.6" fill="url(#g1)" opacity="0.12" transform="rotate(0 352.0 70.7)"/>
</g>
<path transform="translate(304.1 26.0) scale(0.1)" d="M180 196h10M196 209h10M224 195h10M126 202h10M188 264h10M174 135h10M374 270h10M250 240h10M208 292h10M112 252h10M264 318h10M199 284h10M240 181h10M121 271h10M115 210h10M336 183h10M250 301h10M326 254h10M150 296h10M246 224h10M123 133h10M237 203h10M75 259h10M226 197h10M175 245h10M247 185h10M278 214h10M129 217h10M210 270h10M260 130h10M112 254h10M228 183h10M168 288h10M24 273h10M290 197h10M186 237h10M213 239h10M299 196h10M207 241h10M174 221h10M319 138h10M229 200h10M119 213h10M236 255h10M148 248h10M319 229h10M263 241h10M258 183h10M301 241h10M348 256h10M141 270h10M314 266h10M186 206h10M312 191h10M276 228h10M158 208h10M168 243h10M158 219h10M190 239h10M286 163h10M240 194h10M193 217h10M329 284h10M190 213h10M319 244h10M352 194h10M296 203h10M136 252h10M185 273h10M104 159h10M323 267h10M216 157h10M274 322h10M180 206h10M143 241h10M202 160h10M152 261h10M120 232h10M285 252h10M69 245h10M120 139h10M228 155h10M186 271h10M247 215h10M276 223h10M265 266h10M127 287h10M193 223h10M218 209h10M170 242h10M157 239h10M260 197h10M178 241h10M201 245h10M198 206h10M186 232h10M293 151h10M166 204h10M142 200h10M292 261h10M157 161h10M235 239h10M113 228h10M235 247h10M165 240h10M191 254h10M222 245h10M204 210h10M221 255h10M175 234h10M389 194h10M103 182h10M181 220h10M34 140h10M263 163h10M255 269h10M206 206h10M233 218h10M244 294h10M227 171h10M309 265h10M313 236h10M271 300h10M199 195h10M314 207h10M292 199h10M169 233h10M229 190h10M328 204h10M258 184h10M159 198h10M218 228h10M222 222h10M275 258h10M173 227h10M240 250h10M245 208h10M181 224h10M243 179h10M131 205h10M213 195h10M173 189h10M244 142h10M205 195h10M207 229h10M260 284h10M264 257h10M247 285h10M105 217h10M136 256h10M225 286h10M216 214h10M193 191h10M52 220h10M173 203h10M119 225h10M127 232h10M187 208h10M86 234h10M271 216h10M161 245h10M264 204h10M411 270h10M318 238h10M235 182h10M186 223h10M258 201h10M141 268h10M213 259h10M213 196h10M204 123h10M279 243h10M294 212h10M354 270h10M72 150h10M224 165h10M194 214h10M181 281h10M248 246h10M223 340h10M305 193h10M247 191h10M192 217h10M100 146h10M113 243h10M43 189h10M164 250h10M204 176h10M160 230h10M287 231h10M196 210h10M324 187h10M169 235h10M301 151h10M278 267h10M224 144h10M149 214h10M226 170h10M185 249h10M162 208h10M168 163h10M176 211h10M261 188h10M104 200h10M136 243h10M161 157h10M250 217h10M217 236h10M284 183h10M251 223h10M208 216h10M168 229h10M206 248h10M317 180h10M352 264h10M116 215h10M203 267h10M130 289h10M121 206h10M157 170h10M118 196h10M183 195h10M133 116h10M182 296h10M330 267h10M174 241h10M163 201h10M216 261h10M166 194h10M201 160h10M269 261h10M294 251h10M159 211h10M133 233h10M370 181h10M254 276h10M125 306h10M153 216h10M236 258h10M265 210h10M154 126h10M166 272h10M144 245h10M258 227h10M162 198h10M201 149h10M311 178h10M157 195h10M182 236h10M297 230h10M325 206h10M257 253h10M216 248h10M127 274h10M267 228h10M178 255h10M122 251h10M276 323h10M199 276h10M253 156h10M107 199h10M294 280h10M187 239h10M223 120h10M289 278h10M35 183h10M199 218h10M286 269h10M163 249h10M156 208h10M224 243h10M157 298h10M221 221h10M264 195h10M229 122h10M74 206h10M169 206h10M156 245h10M298 200h10M285 237h10M113 166h10M209 265h10M135 136h10M280 268h10M188 265h10M361 187h10M176 206h10M289 187h10M182 273h10M283 264h10M136 239h10M162 259h10M245 250h10M194 228h10M236 213h10M232 183h10M117 153h10M196 256h10M240 142h10M238 224h10M195 231h10M251 277h10M302 299h10M252 199h10M309 174h10M271 181h10M164 272h10M161 265h10M256 217h10M265 247h10M219 197h10M272 210h10M204 241h10M201 233h10M231 234h10M219 278h10M173 206h10M114 129h10M259 242h10M317 165h10M151 200h10M355 259h10M195 222h10M231 178h10M234 179h10M215 250h10M229 194h10M186 254h10M169 168h10M186 201h10M191 221h10M180 207h10M274 244h10M277 224h10M177 233h10M96 176h10M268 201h10M155 177h10M238 173h10M295 228h10M73 200h10M128 242h10M243 201h10M459 166h10M477 190h10M459 163h10M519 125h10M455 162h10M368 201h10M492 44h10M399 151h10M495 165h10M452 190h10M372 189h10M391 144h10M403 182h10M368 240h10M416 148h10M433 164h10M410 220h10M455 107h10M382 148h10M390 121h10M428 148h10M424 143h10M419 208h10M384 184h10M423 143h10M452 144h10M426 159h10M430 199h10M447 145h10M402 191h10M435 116h10M371 161h10M383 156h10M322 195h10M356 244h10M386 245h10M392 180h10M303 234h10M385 143h10M434 188h10M456 156h10M427 156h10M411 214h10M419 106h10M378 158h10M425 138h10M422 260h10M493 213h10M407 169h10M411 256h10M425 158h10M356 251h10M545 86h10M446 134h10M406 164h10M483 215h10M498 129h10M365 152h10M449 109h10M361 169h10M374 156h10M488 147h10M356 161h10M473 148h10M442 112h10M477 147h10M577 140h10M376 252h10M418 147h10M375 158h10M312 219h10M385 228h10M438 152h10M462 149h10M396 189h10M439 162h10M385 232h10M387 169h10M454 170h10M426 141h10M362 215h10M399 162h10M427 201h10M379 140h10M456 171h10M433 204h10M435 160h10M380 196h10M347 149h10M486 166h10M402 214h10M401 222h10M507 179h10M359 164h10M491 141h10M465 163h10M405 121h10M454 134h10M440 190h10M463 162h10M431 159h10M518 87h10M503 144h10M383 213h10M335 237h10M378 185h10M385 153h10M459 187h10M417 160h10M439 179h10M329 170h10M421 165h10M434 161h10M424 215h10M477 86h10M388 133h10M385 159h10M405 133h10M523 213h10M469 196h10M439 183h10M471 157h10M388 76h10M542 85h10M377 166h10M461 120h10M310 167h10M419 217h10M467 101h10M428 136h10M382 197h10M456 160h10M361 193h10M482 167h10M378 261h10M383 187h10M398 208h10M394 187h10M394 225h10M495 152h10M471 144h10M439 180h10M437 147h10M435 143h10M499 143h10M456 164h10M431 183h10M368 155h10M470 452h10M437 423h10M498 490h10M508 470h10M495 512h10M480 477h10M477 393h10M386 520h10M481 415h10M450 408h10M477 424h10M511 498h10M506 448h10M480 494h10M403 413h10M447 405h10M507 433h10M424 465h10M473 460h10M478 428h10M418 462h10M426 482h10M493 445h10M432 503h10M463 465h10M442 487h10M503 482h10M526 443h10M429 449h10M443 434h10M576 480h10M499 471h10M532 456h10M478 453h10M510 520h10M418 451h10M453 531h10M454 493h10M518 467h10M544 464h10M467 515h10M419 387h10M441 474h10M447 454h10M537 474h10M508 488h10M488 488h10M497 503h10M548 454h10M552 483h10M535 464h10M423 435h10M540 497h10M402 421h10M137 383h10M286 411h10M280 493h10M154 441h10M270 454h10M311 483h10M286 399h10M319 523h10M192 433h10M275 423h10M268 450h10M318 425h10M246 515h10M316 420h10M186 436h10M285 428h10M176 387h10M214 436h10M267 481h10M210 401h10M151 393h10M235 421h10M237 441h10M226 375h10M258 447h10M202 565h10M104 371h10M214 409h10M193 441h10M310 454h10M259 495h10M160 424h10M250 419h10M238 423h10M209 383h10M184 418h10M268 452h10M287 333h10M192 383h10M243 430h10M220 470h10M216 435h10M274 449h10M225 485h10M284 469h10M257 438h10M199 352h10M178 366h10M241 371h10M213 391h10M243 422h10M322 466h10M332 433h10M141 469h10M354 413h10M325 423h10M250 425h10M209 411h10M143 436h10M251 458h10M240 447h10M371 470h10M235 440h10M244 482h10M214 473h10M267 323h10M270 407h10M191 429h10M261 529h10M247 394h10M236 449h10M190 420h10M150 379h10M218 459h10M191 395h10M238 389h10M211 392h10M341 410h10M322 435h10M344 390h10M253 332h10M317 454h10M222 511h10M407 491h10M334 432h10M196 369h10M303 353h10M232 499h10M264 379h10M194 481h10M183 411h10M162 427h10M207 471h10M186 412h10M107 483h10M312 418h10M251 448h10M304 362h10M191 522h10M310 453h10M245 464h10M294 465h10M182 431h10M266 442h10M184 421h10M187 413h10M256 453h10M278 471h10M252 379h10M247 412h10M146 404h10M267 472h10M237 373h10M240 400h10M316 379h10M292 420h10M266 401h10M273 429h10M233 386h10M211 353h10M273 418h10M329 368h10M334 448h10M217 450h10M170 374h10M314 348h10M244 485h10M250 484h10M231 402h10M311 466h10M239 487h10M178 472h10M221 439h10M250 438h10M275 488h10M326 434h10M248 390h10M340 469h10M209 438h10M332 402h10M261 431h10M228 434h10M130 471h10M219 436h10M163 525h10M278 352h10M209 417h10M188 375h10M168 395h10M253 440h10M317 423h10M113 424h10M306 381h10M253 443h10M184 421h10M184 488h10M280 432h10M283 457h10M193 376h10M160 378h10M290 474h10M331 375h10M242 479h10M346 416h10M221 414h10M268 462h10M300 411h10M327 389h10M280 485h10M308 448h10M222 427h10M202 402h10M187 475h10M176 402h10M321 446h10M344 494h10M270 476h10M180 441h10M346 451h10M263 542h10M293 373h10M313 330h10M275 448h10M220 400h10M222 544h10M184 400h10M236 416h10M346 446h10M238 463h10M266 425h10M230 427h10M239 416h10M244 485h10M176 449h10M290 429h10M246 479h10M224 457h10M279 441h10M260 467h10M332 390h10M308 405h10M197 441h10M259 362h10M342 415h10M287 449h10M283 436h10M266 436h10M228 478h10M257 447h10M215 407h10M258 376h10M330 418h10M229 413h10M255 454h10M288 406h10M184 427h10M240 403h10M317 391h10M197 470h10M224 424h10M198 382h10M204 363h10M287 443h10M354 428h10M215 472h10M216 472h10M218 359h10M226 419h10M275 413h10M260 441h10M196 387h10M203 366h10M249 456h10M227 405h10M178 456h10M304 344h10M360 492h10M214 430h10M253 446h10M224 447h10M280 528h10M240 405h10M301 429h10M253 434h10M224 413h10M217 400h10M220 503h10M241 399h10M188 478h10M210 437h10M147 348h10M258 364h10M256 464h10M197 410h10M218 402h10M221 412h10M230 432h10M271 448h10M246 399h10M270 461h10M237 333h10M76 512h10M288 376h10M428 454h10M231 378h10M171 372h10M204 329h10M119 365h10M287 291h10M241 301h10M249 254h10M220 451h10M182 206h10M329 282h10M336 297h10M195 444h10M245 341h10M340 403h10M174 355h10M262 290h10M216 313h10M307 343h10M202 349h10M170 285h10M321 255h10M254 301h10M220 415h10M143 321h10M253 401h10M334 390h10M316 316h10M223 191h10M352 151h10M390 373h10M403 440h10M142 304h10M448 285h10M370 370h10M320 390h10M174 292h10M192 400h10M318 468h10M272 381h10M194 169h10M162 406h10M398 213h10M263 134h10M440 353h10M308 417h10M247 164h10M293 168h10M356 197h10M223 378h10M289 359h10M271 331h10M276 387h10M303 288h10M376 259h10M93 395h10M259 295h10M313 315h10M398 440h10M346 147h10M361 152h10M201 361h10M228 278h10M221 431h10M305 284h10M219 469h10M207 346h10M169 413h10M305 356h10M369 286h10M271 489h10M287 351h10M340 427h10M264 328h10M247 253h10M415 322h10M85 399h10M376 274h10M116 423h10M406 311h10M234 257h10M180 329h10M286 416h10M211 338h10M239 415h10M254 248h10M219 201h10M200 528h10M270 239h10M305 349h10M123 342h10M76 277h10M304 383h10M134 394h10M274 136h10M165 229h10M133 244h10M298 152h10M333 345h10M275 346h10M240 358h10M252 328h10M299 112h10M400 473h10M297 297h10M419 337h10M201 469h10M227 248h10M402 264h10M170 144h10M209 190h10M173 375h10M412 391h10M373 334h10M299 298h10M365 294h10M326 349h10M358 400h10M292 232h10M234 254h10M320 319h10M248 317h10M309 438h10M303 127h10M326 278h10M415 389h10M345 288h10M210 304h10M293 179h10M250 452h10M276 416h10M255 394h10M181 370h10M433 387h10M222 419h10M287 150h10M259 218h10M72 411h10M255 297h10M305 387h10M308 475h10M94 385h10M242 320h10M361 316h10M45 210h10M255 487h10M395 285h10M288 395h10M335 350h10M281 239h10M322 510h10M448 351h10M417 346h10M255 355h10M300 362h10M455 199h10M466 373h10M241 258h10M259 211h10M457 384h10M245 284h10M319 415h10M234 265h10M380 264h10M244 273h10M222 432h10M148 420h10M395 266h10M193 380h10M128 217h10M250 355h10M265 351h10M295 183h10M291 210h10M293 297h10M87 292h10M109 378h10M205 237h10M163 338h10M277 307h10M212 500h10M330 346h10M289 306h10M213 412h10M246 58h10M317 350h10M376 369h10M219 330h10M156 219h10M217 411h10M403 247h10M347 201h10M223 229h10M304 273h10M352 288h10M436 264h10M107 285h10M184 230h10M146 346h10M187 427h10M364 272h10M458 122h10M95 238h10M249 460h10M324 153h10M414 471h10M179 376h10M343 269h10M242 361h10M153 457h10M169 473h10M261 272h10M379 395h10M185 173h10M256 253h10M169 243h10M334 463h10M353 323h10M128 299h10M325 143h10M261 314h10M283 225h10M396 343h10M213 443h10M355 496h10M256 467h10M126 420h10M204 436h10M210 363h10M278 323h10M285 199h10M281 415h10M483 433h10M399 336h10M168 342h10M161 400h10M482 328h10M169 257h10M313 288h10M219 405h10M328 263h10M366 316h10M402 245h10M267 350h10M242 169h10M376 313h10M179 339h10M353 191h10M432 212h10M224 347h10M399 244h10M287 308h10M285 130h10M61 225h10M259 299h10M530 203h10M188 210h10M299 348h10M245 348h10M195 468h10M173 143h10M277 306h10M262 512h10M219 277h10M336 241h10M397 206h10M208 230h10M118 325h10M268 333h10M337 449h10M303 88h10M179 224h10M455 239h10M270 279h10M438 407h10M282 283h10M277 345h10M164 300h10M195 270h10M218 224h10M206 313h10M351 281h10M178 390h10M502 146h10M431 300h10M431 314h10M262 361h10M253 266h10M296 232h10M317 315h10M168 372h10M272 349h10M419 421h10M74 281h10M263 315h10M305 224h10M328 296h10M292 199h10M247 299h10M211 411h10M337 280h10M330 173h10M56 249h10M417 452h10M172 326h10M294 147h10M126 461h10M408 310h10M247 391h10M145 511h10M360 364h10M218 185h10M519 274h10M254 308h10M501 261h10M184 508h10M320 243h10M300 336h10M98 247h10M178 331h10M284 567h10M306 344h10M287 259h10M269 213h10M271 365h10M321 52h10M357 244h10M266 327h10M208 365h10M235 324h10M352 373h10M228 241h10M435 243h10M262 246h10M184 298h10M243 372h10M185 420h10M473 353h10M268 406h10M159 407h10M304 367h10M319 370h10M214 390h10M175 271h10M105 368h10M193 310h10M473 339h10M368 269h10M166 452h10M291 304h10M229 240h10M283 299h10M372 270h10M262 372h10M114 348h10M147 179h10M403 338h10M165 274h10M287 231h10M188 197h10M379 381h10M265 329h10M319 289h10M286 46h10M237 338h10M304 285h10M324 273h10M303 244h10" stroke="#000" stroke-width="10" stroke-opacity="0.42" fill="none" filter="url(#sf)"/>
<rect x="304.1" y="26.0" width="63.80000000000001" height="58.0" fill="none" stroke="#000" stroke-width="1.5"/>
<path d="M336.8 26.0V84.0M304.1 64.3H367.90000000000003" stroke="#000" stroke-width="1.5" fill="none"/>
<text x="308.3" y="35.0" font-size="7.4" text-anchor="start" font-family="Liberation Serif, Times New Roman, serif" stroke="#000" stroke-width="0.15">47</text>
<text x="365.50000000000006" y="35.0" font-size="7.4" text-anchor="end" font-family="Liberation Serif, Times New Roman, serif" stroke="#000" stroke-width="0.15">18</text>
<text x="308.3" y="80.9" font-size="7.4" text-anchor="start" font-family="Liberation Serif, Times New Roman, serif" stroke="#000" stroke-width="0.15">29</text>
<text x="365.50000000000006" y="80.9" font-size="7.4" text-anchor="end" font-family="Liberation Serif, Times New Roman, serif" stroke="#000" stroke-width="0.15">6</text>
<g filter="url(#st)"><rect x="388.7" y="26.0" width="63.80000000000001" height="58.0" fill="#000" fill-opacity="0.001"/>
<ellipse cx="411.0" cy="57.9" rx="17.9" ry="25.5" fill="url(#g1)" opacity="0.55" transform="rotate(0 411.0 57.9)"/>
<ellipse cx="406.6" cy="45.1" rx="8.9" ry="8.7" fill="url(#g1)" opacity="0.55" transform="rotate(0 406.6 45.1)"/>
<ellipse cx="410.4" cy="68.9" rx="10.8" ry="8.7" fill="url(#g1)" opacity="0.65" transform="rotate(0 410.4 68.9)"/>
</g>
<path transform="translate(388.7 26.0) scale(0.1)" d="M225 143h10M230 210h10M193 252h10M201 150h10M211 245h10M161 180h10M165 169h10M138 226h10M234 131h10M171 177h10M216 241h10M200 246h10M226 223h10M206 242h10M153 141h10M224 236h10M263 189h10M121 211h10M253 165h10M173 167h10M103 248h10M158 267h10M159 112h10M132 147h10M143 181h10M160 268h10M65 144h10M184 226h10M184 190h10M206 183h10M164 209h10M105 192h10M138 203h10M168 249h10M206 205h10M138 217h10M69 232h10M221 200h10M212 127h10M153 150h10M208 218h10M258 143h10M134 211h10M147 161h10M210 191h10M150 242h10M173 127h10M168 191h10M143 238h10M193 223h10M223 180h10M168 197h10M161 259h10M136 132h10M208 184h10M110 227h10M220 155h10M122 231h10M217 230h10M166 234h10M266 229h10M217 248h10M208 197h10M202 240h10M200 228h10M164 192h10M110 237h10M202 149h10M207 160h10M209 284h10M190 163h10M161 207h10M162 225h10M88 258h10M175 193h10M246 238h10M92 131h10M225 175h10M135 229h10M174 211h10M138 171h10M170 205h10M230 119h10M139 157h10M184 158h10M182 242h10M185 247h10M177 109h10M176 205h10M146 184h10M242 212h10M124 133h10M211 218h10M119 182h10M182 236h10M219 298h10M145 110h10M174 237h10M122 143h10M190 193h10M243 170h10M311 232h10M224 132h10M203 275h10M166 274h10M219 248h10M201 239h10M91 185h10M156 196h10M158 135h10M199 206h10M178 235h10M160 234h10M218 151h10M220 179h10M197 173h10M245 213h10M45 148h10M115 179h10M213 195h10M91 94h10M178 178h10M220 217h10M191 256h10M196 224h10M155 210h10M265 140h10M115 170h10M235 194h10M141 219h10M176 191h10M111 105h10M201 166h10M214 284h10M221 136h10M192 164h10M195 233h10M163 218h10M186 214h10M222 189h10M237 252h10M135 185h10M178 103h10M133 251h10M209 195h10M190 236h10M120 261h10M150 174h10M127 206h10M136 188h10M133 244h10M245 156h10M110 132h10M218 130h10M133 187h10M253 193h10M164 222h10M92 140h10M227 241h10M206 209h10M163 180h10M267 145h10M243 189h10M100 217h10M138 210h10M197 298h10M148 100h10M200 221h10M166 157h10M204 223h10M158 230h10M182 188h10M118 161h10M213 249h10M237 188h10M171 152h10M139 175h10M228 246h10M197 218h10M131 183h10M214 194h10M208 132h10M255 177h10M147 196h10M280 165h10M226 114h10M107 118h10M248 104h10M193 153h10M211 142h10M144 209h10M90 97h10M280 195h10M204 192h10M197 192h10M199 134h10M46 161h10M258 161h10M85 262h10M232 164h10M217 216h10M115 248h10M212 213h10M236 103h10M174 264h10M245 124h10M212 162h10M199 157h10M250 290h10M235 244h10M192 186h10M259 235h10M198 166h10M126 236h10M227 196h10M188 129h10M147 150h10M211 186h10M183 161h10M187 118h10M272 197h10M208 216h10M140 259h10M192 189h10M236 154h10M217 278h10M159 217h10M116 207h10M198 121h10M266 291h10M88 216h10M162 184h10M204 199h10M173 209h10M163 206h10M149 237h10M285 197h10M168 258h10M83 187h10M125 169h10M128 182h10M244 155h10M171 247h10M208 229h10M176 170h10M159 176h10M115 85h10M154 204h10M152 244h10M240 197h10M164 214h10M154 183h10M137 163h10M210 174h10M206 193h10M184 208h10M69 173h10M196 260h10M207 311h10M247 200h10M116 180h10M170 198h10M200 133h10M207 180h10M147 134h10M191 169h10M66 196h10M170 116h10M212 180h10M200 135h10M152 209h10M214 160h10M45 202h10M168 256h10M127 214h10M104 205h10M161 202h10M176 184h10M259 246h10M179 149h10M137 241h10M181 158h10M145 255h10M185 151h10M235 460h10M131 191h10M164 349h10M326 279h10M326 502h10M229 364h10M137 216h10M222 331h10M265 410h10M252 366h10M297 346h10M340 221h10M127 378h10M323 349h10M247 266h10M307 316h10M174 345h10M244 365h10M178 333h10M211 192h10M158 173h10M282 330h10M101 405h10M81 413h10M219 343h10M224 405h10M175 420h10M269 312h10M179 274h10M115 329h10M148 301h10M293 459h10M353 388h10M190 342h10M233 355h10M236 297h10M151 212h10M135 349h10M241 426h10M284 267h10M319 345h10M179 304h10M148 364h10M237 419h10M211 22h10M134 341h10M191 293h10M229 138h10M169 316h10M215 283h10M241 421h10M189 297h10M273 275h10M179 354h10M263 446h10M246 244h10M237 340h10M191 388h10M143 274h10M207 350h10M215 161h10M223 358h10M259 296h10M118 270h10M121 461h10M325 349h10M290 279h10M197 303h10M255 160h10M262 264h10M222 242h10M298 337h10M140 400h10M206 410h10M184 260h10M112 412h10M144 278h10M195 324h10M197 214h10M189 303h10M285 330h10M215 319h10M197 378h10M173 299h10M165 258h10M61 334h10M221 274h10M301 411h10M166 176h10M98 306h10M217 250h10M92 292h10M151 382h10M102 317h10M263 308h10M263 401h10M152 362h10M296 187h10M150 200h10M214 382h10M181 435h10M390 414h10M206 261h10M199 266h10M255 275h10M225 402h10M148 393h10M174 358h10M234 418h10M210 143h10M191 199h10M339 412h10M242 361h10M197 368h10M264 147h10M212 341h10M241 349h10M275 332h10M283 317h10M188 291h10M160 223h10M133 92h10M269 296h10M189 240h10M208 303h10M177 141h10M271 513h10M223 259h10M198 409h10M221 375h10M216 246h10M207 213h10M177 350h10M226 363h10M182 324h10M221 246h10M272 333h10M229 156h10M183 292h10M351 207h10M214 383h10M111 364h10M224 309h10M126 317h10M316 288h10M237 409h10M375 376h10M176 369h10M219 169h10M92 319h10M205 278h10M70 286h10M131 208h10M196 428h10M248 216h10M179 154h10M147 362h10M100 223h10M255 237h10M268 345h10M364 258h10M143 157h10M234 107h10M339 334h10M179 267h10M158 313h10M139 359h10M215 338h10M243 153h10M211 414h10M245 382h10M248 288h10M138 480h10M180 347h10M182 310h10M213 277h10M226 261h10M260 121h10M164 257h10M256 413h10M246 373h10M146 336h10M233 369h10M196 371h10M161 295h10M162 442h10M178 364h10M191 209h10M187 183h10M152 310h10M215 281h10M133 312h10M161 325h10M191 231h10M257 276h10M176 328h10M284 507h10M113 120h10M279 217h10M203 209h10M281 287h10M236 277h10M291 299h10M256 362h10M201 289h10M329 411h10M241 308h10M306 227h10M238 217h10M162 360h10M203 212h10M122 409h10M40 280h10M135 300h10M207 267h10M256 251h10M285 421h10M179 307h10M274 385h10M206 269h10M257 295h10M63 269h10M268 371h10M263 336h10M130 312h10M180 351h10M278 202h10M28 312h10M212 369h10M181 271h10M250 363h10M282 380h10M312 259h10M219 567h10M244 363h10M130 437h10M177 421h10M239 324h10M200 379h10M285 363h10M294 345h10M87 299h10M207 308h10M110 314h10M180 193h10M194 317h10M242 427h10M193 341h10M232 176h10M232 289h10M209 489h10M173 505h10M145 263h10M77 330h10M237 340h10M231 387h10M253 388h10M228 323h10M197 271h10M136 453h10M260 421h10M107 175h10M233 265h10M255 281h10M123 299h10M259 363h10M194 293h10M260 190h10M215 471h10M123 188h10M127 310h10M133 264h10M134 328h10M306 403h10M111 455h10M235 432h10M242 375h10M239 384h10M207 339h10M279 261h10M188 309h10M241 399h10M209 308h10M138 144h10M227 283h10M131 353h10M222 272h10M161 396h10M127 237h10M227 310h10M193 407h10M213 402h10M130 337h10M196 475h10M251 428h10M171 288h10M172 386h10M158 243h10M165 241h10M214 449h10M236 419h10M186 304h10M227 219h10M210 319h10M242 305h10M128 266h10M97 259h10M307 336h10M269 273h10M193 498h10M254 364h10M234 463h10M173 253h10M197 229h10M247 377h10M245 269h10M204 161h10M202 437h10M288 279h10M214 441h10M255 129h10M155 489h10M156 532h10M273 420h10M164 395h10M122 395h10M210 320h10M140 327h10M99 252h10M227 485h10M229 259h10M312 319h10M285 268h10M204 188h10M197 366h10M223 412h10M181 267h10M212 443h10M111 290h10M152 189h10M285 377h10M342 259h10M221 340h10M160 343h10M222 413h10M110 383h10M263 196h10M198 454h10M208 298h10M141 277h10M296 221h10M261 270h10M249 181h10M193 438h10M233 418h10M200 547h10M147 303h10M260 314h10M299 254h10M228 273h10M178 449h10M198 339h10M250 254h10M148 126h10M232 312h10M130 245h10M251 471h10M222 378h10M234 429h10M214 203h10M110 416h10M218 268h10M174 324h10M236 341h10M162 493h10M145 319h10M237 425h10M243 376h10M192 488h10M247 347h10M113 222h10M220 398h10M211 396h10M198 302h10M191 342h10M293 285h10M212 419h10M182 472h10M282 408h10M319 301h10M211 221h10M305 273h10M167 356h10M168 311h10M165 423h10M238 253h10M228 279h10M181 335h10M79 186h10M192 333h10M223 370h10M190 314h10M15 399h10M239 165h10M160 307h10M260 272h10M219 357h10M272 161h10M247 255h10M105 364h10M114 194h10M250 227h10M226 424h10M164 300h10M209 456h10M211 241h10M183 369h10M114 276h10M164 365h10M218 375h10M169 336h10M137 358h10M306 332h10M143 522h10M213 364h10M260 286h10M247 200h10M295 237h10M366 346h10M224 432h10M58 199h10M191 338h10M156 409h10M168 327h10M233 355h10M211 186h10M235 418h10M160 434h10M161 162h10M314 211h10M267 331h10M226 461h10M67 128h10M263 384h10M240 218h10M218 371h10M284 200h10M241 226h10M154 186h10M145 394h10M202 174h10M137 301h10M246 350h10M315 337h10M291 264h10M122 306h10M109 195h10M229 135h10M185 158h10M191 322h10M131 394h10M273 228h10M201 407h10M158 218h10M317 379h10M194 251h10M272 223h10M233 318h10M282 250h10M268 360h10M196 401h10M233 437h10M282 474h10M141 351h10M282 410h10M188 454h10M221 428h10M239 414h10M207 409h10M231 405h10M298 445h10M210 467h10M234 461h10M248 376h10M282 468h10M195 529h10M144 471h10M200 426h10M267 470h10M263 374h10M278 403h10M208 437h10M139 474h10M206 385h10M181 378h10M151 444h10M246 481h10M348 464h10M80 458h10M234 457h10M269 438h10M272 459h10M341 404h10M162 422h10M362 349h10M206 384h10M212 446h10M164 480h10M334 412h10M268 393h10M157 461h10M261 386h10M254 488h10M186 367h10M235 472h10M217 454h10M187 441h10M203 438h10M259 428h10M211 367h10M110 406h10M215 413h10M218 416h10M191 404h10M210 457h10M200 363h10M167 393h10M222 469h10M59 398h10M176 517h10M175 450h10M303 409h10M207 426h10M228 396h10M223 407h10M175 488h10M130 467h10M205 426h10M179 434h10M250 385h10M248 343h10M166 374h10M198 453h10M172 439h10M205 479h10M110 357h10M198 347h10M221 434h10M160 393h10M227 443h10M199 450h10M175 436h10M276 467h10M157 393h10M167 435h10M238 377h10M144 434h10M78 464h10M210 392h10M269 425h10M174 516h10M212 430h10M232 422h10M245 407h10M263 435h10M222 468h10M148 427h10M252 466h10M201 403h10M265 355h10M276 356h10M156 465h10M211 391h10M284 440h10M182 451h10M236 419h10M258 448h10M136 437h10M232 448h10M164 468h10M130 409h10M198 430h10M204 436h10M245 507h10M194 455h10M203 427h10M172 410h10M291 426h10M233 380h10M246 449h10M238 473h10M218 405h10M244 447h10M316 413h10M225 484h10M212 521h10M343 434h10M259 469h10M184 397h10M288 469h10M197 405h10M151 372h10M269 445h10M210 373h10M170 436h10M146 432h10M184 328h10M246 399h10M96 417h10M131 462h10M191 422h10M274 357h10M222 466h10M245 387h10M237 497h10M163 406h10M252 428h10M204 498h10M177 464h10M144 312h10M213 458h10M190 496h10M218 453h10M233 387h10M287 486h10M295 479h10M292 466h10M290 442h10M176 450h10M272 399h10M215 475h10M197 534h10M253 483h10M270 476h10M231 402h10M143 369h10M171 354h10M200 389h10M179 396h10M261 403h10M171 495h10M198 487h10M193 422h10M231 373h10M304 499h10M192 474h10M232 410h10M311 388h10M215 469h10M204 448h10M143 421h10M223 378h10M169 403h10M201 437h10M198 363h10M220 482h10M218 414h10M216 454h10M138 493h10M200 506h10M178 389h10M228 469h10M245 438h10M235 438h10M281 428h10M257 407h10M209 399h10M202 409h10M132 470h10M240 453h10M349 347h10M242 436h10M282 407h10M190 386h10M258 506h10M175 436h10M233 404h10M106 466h10M122 474h10M143 469h10M292 409h10M151 423h10M216 382h10M200 465h10M252 477h10M132 394h10M210 423h10M265 378h10M306 473h10M259 416h10M127 372h10M269 422h10M319 440h10M138 476h10M202 432h10M255 371h10M149 486h10M134 381h10M140 377h10M189 406h10M152 404h10M233 340h10M189 419h10M112 474h10M223 420h10M244 440h10M197 415h10M144 443h10M224 384h10M249 487h10M140 500h10M284 469h10M206 497h10M200 453h10M184 376h10M252 484h10M140 426h10M177 389h10M193 469h10M298 447h10M222 457h10M164 437h10M186 439h10M118 448h10M201 437h10M230 485h10M199 365h10M276 464h10M185 472h10M277 381h10M164 379h10M308 355h10M159 443h10M282 474h10M238 455h10M279 447h10M204 439h10M250 455h10M229 395h10M222 455h10M154 399h10M242 456h10M204 420h10M222 411h10M189 357h10M204 496h10M177 406h10M244 460h10M345 411h10M245 387h10M169 401h10M212 449h10M232 395h10M217 383h10M183 382h10M202 443h10M339 400h10M249 439h10M199 403h10M152 435h10M179 427h10M268 366h10M299 401h10M251 445h10M207 447h10M292 431h10M278 507h10M223 396h10M194 444h10M272 353h10M207 405h10M314 391h10M250 432h10M267 499h10M201 377h10M295 401h10M226 457h10M131 406h10M230 404h10M320 376h10M264 405h10M221 400h10M244 474h10M247 425h10M88 438h10M103 469h10M154 354h10M125 429h10M167 431h10M143 458h10M302 431h10M157 374h10M168 471h10M177 364h10M364 492h10M299 400h10M260 390h10M186 452h10M149 427h10M139 463h10M191 433h10M227 393h10M179 394h10M70 434h10M264 471h10M210 460h10M161 416h10M102 401h10M240 365h10M209 523h10M264 432h10M289 459h10M186 548h10M273 469h10M279 395h10M208 461h10M198 431h10M318 267h10M324 443h10M391 466h10M298 161h10M439 245h10M405 292h10M370 450h10M359 239h10M346 406h10M308 399h10M320 178h10M253 345h10M312 343h10M368 160h10M258 466h10M369 228h10M360 122h10M192 321h10M271 98h10M362 262h10M283 273h10M370 366h10M312 303h10M330 182h10M377 465h10M250 422h10M264 333h10M367 363h10M424 347h10M422 269h10M304 324h10M394 280h10M392 251h10M305 337h10M345 43h10M313 406h10M289 393h10M453 434h10M380 341h10M443 175h10M390 243h10M375 533h10M381 349h10M312 255h10M303 445h10M263 282h10M285 338h10M332 297h10M305 311h10M422 287h10M389 416h10M246 373h10M369 295h10M387 346h10M377 184h10M369 261h10M385 493h10M295 314h10M225 418h10M194 236h10M298 297h10" stroke="#000" stroke-width="10" stroke-opacity="0.42" fill="none" filter="url(#sf)"/>
<rect x="388.7" y="26.0" width="63.80000000000001" height="58.0" fill="none" stroke="#000" stroke-width="1.5"/>
<path d="M421.4 26.0V84.0M388.7 64.3H452.5" stroke="#000" stroke-width="1.5" fill="none"/>
<text x="392.9" y="35.0" font-size="7.4" text-anchor="start" font-family="Liberation Serif, Times New Roman, serif" stroke="#000" stroke-width="0.15">57</text>
<text x="450.1" y="35.0" font-size="7.4" text-anchor="end" font-family="Liberation Serif, Times New Roman, serif" stroke="#000" stroke-width="0.15">2</text>
<text x="392.9" y="80.9" font-size="7.4" text-anchor="start" font-family="Liberation Serif, Times New Roman, serif" stroke="#000" stroke-width="0.15">39</text>
<text x="450.1" y="80.9" font-size="7.4" text-anchor="end" font-family="Liberation Serif, Times New Roman, serif" stroke="#000" stroke-width="0.15">2</text>
<g filter="url(#st)"><rect x="49.8" y="104.7" width="63.8" height="57.3" fill="#000" fill-opacity="0.001"/>
<ellipse cx="90.6" cy="151.7" rx="13.4" ry="11.5" fill="url(#g1)" opacity="1.0" transform="rotate(0 90.6 151.7)"/>
<ellipse cx="96.4" cy="134.5" rx="7.0" ry="17.2" fill="url(#g1)" opacity="0.4" transform="rotate(10 96.4 134.5)"/>
<ellipse cx="98.9" cy="126.5" rx="3.8" ry="8.0" fill="url(#g1)" opacity="0.22" transform="rotate(10 98.9 126.5)"/>
<ellipse cx="74.0" cy="150.5" rx="12.8" ry="6.3" fill="url(#g1)" opacity="0.36" transform="rotate(0 74.0 150.5)"/>
<ellipse cx="75.3" cy="136.2" rx="14.0" ry="12.6" fill="url(#g1)" opacity="0.04" transform="rotate(0 75.3 136.2)"/>
</g>
<ellipse cx="90.6" cy="152.3" rx="6.4" ry="6.3" fill="url(#g1)" opacity="0.85" transform="rotate(0 90.6 152.3)"/>
<path transform="translate(49.8 104.7) scale(0.1)" d="M376 422h10M520 505h10M449 437h10M451 467h10M387 398h10M411 349h10M362 363h10M428 493h10M455 404h10M466 558h10M375 426h10M370 440h10M455 440h10M428 466h10M350 469h10M406 474h10M422 453h10M429 387h10M375 526h10M423 453h10M360 438h10M396 382h10M383 457h10M281 386h10M397 451h10M509 559h10M232 434h10M472 482h10M486 523h10M397 519h10M401 410h10M413 526h10M453 450h10M488 529h10M484 381h10M358 439h10M366 371h10M372 520h10M348 485h10M393 412h10M419 475h10M400 522h10M450 397h10M481 426h10M297 506h10M471 427h10M408 436h10M442 445h10M420 410h10M438 470h10M553 529h10M374 410h10M447 428h10M449 516h10M492 537h10M476 468h10M404 477h10M499 451h10M407 507h10M337 451h10M408 450h10M375 486h10M352 493h10M388 395h10M246 420h10M431 458h10M372 464h10M426 455h10M347 528h10M402 488h10M369 474h10M464 426h10M393 451h10M339 545h10M337 490h10M363 459h10M376 436h10M400 360h10M351 474h10M496 466h10M351 506h10M428 413h10M360 409h10M464 413h10M333 471h10M455 435h10M441 402h10M442 470h10M401 364h10M455 464h10M410 413h10M479 443h10M422 456h10M383 493h10M428 522h10M371 500h10M346 468h10M305 464h10M391 433h10M362 456h10M466 460h10M405 484h10M481 516h10M433 389h10M439 438h10M430 432h10M436 448h10M379 477h10M323 519h10M403 461h10M352 497h10M343 516h10M356 469h10M362 468h10M449 438h10M337 456h10M358 476h10M334 441h10M446 473h10M345 451h10M414 500h10M349 472h10M350 394h10M461 494h10M442 507h10M390 526h10M453 434h10M380 393h10M290 497h10M437 429h10M439 465h10M321 493h10M433 492h10M362 401h10M426 518h10M597 374h10M380 511h10M439 516h10M332 411h10M445 373h10M376 394h10M413 456h10M492 455h10M483 482h10M386 401h10M439 440h10M508 463h10M437 499h10M261 438h10M416 490h10M402 537h10M463 511h10M482 404h10M463 462h10M326 505h10M490 515h10M444 452h10M521 498h10M387 422h10M406 394h10M463 517h10M391 401h10M370 550h10M501 500h10M502 516h10M383 439h10M449 524h10M287 472h10M352 386h10M371 473h10M425 478h10M445 453h10M533 416h10M351 412h10M413 469h10M361 477h10M423 492h10M406 449h10M412 378h10M392 387h10M422 491h10M406 458h10M519 535h10M478 475h10M463 463h10M459 388h10M442 396h10M410 482h10M491 464h10M373 498h10M454 487h10M390 497h10M347 473h10M374 509h10M361 532h10M503 473h10M336 492h10M388 476h10M440 495h10M428 392h10M411 434h10M430 346h10M353 441h10M313 481h10M446 503h10M394 442h10M475 439h10M504 506h10M387 535h10M480 382h10M415 457h10M397 553h10M470 472h10M368 497h10M451 464h10M388 510h10M383 503h10M401 448h10M428 463h10M494 516h10M439 474h10M278 419h10M384 425h10M456 552h10M378 424h10M420 552h10M400 434h10M436 411h10M348 485h10M343 467h10M398 418h10M443 438h10M385 499h10M392 447h10M368 475h10M421 460h10M444 509h10M493 486h10M434 494h10M390 511h10M306 499h10M380 482h10M489 527h10M519 345h10M463 462h10M485 443h10M441 441h10M388 408h10M416 447h10M383 554h10M362 524h10M396 460h10M422 452h10M563 430h10M392 476h10M475 504h10M443 457h10M420 530h10M494 431h10M281 522h10M423 491h10M354 491h10M442 540h10M550 486h10M427 476h10M426 368h10M389 454h10M513 513h10M374 449h10M371 413h10M445 515h10M390 380h10M411 512h10M394 415h10M428 502h10M367 481h10M352 495h10M311 397h10M523 453h10M462 446h10M463 421h10M344 526h10M446 370h10M359 474h10M504 479h10M413 411h10M487 515h10M300 485h10M246 468h10M359 481h10M320 492h10M335 454h10M358 422h10M475 472h10M482 463h10M428 534h10M398 448h10M354 443h10M458 486h10M403 483h10M454 506h10M352 427h10M507 469h10M449 445h10M336 432h10M467 448h10M468 492h10M334 430h10M420 541h10M451 366h10M438 458h10M419 509h10M348 518h10M396 423h10M439 426h10M355 434h10M438 516h10M379 559h10M399 494h10M425 468h10M340 474h10M372 432h10M345 480h10M380 472h10M372 408h10M345 526h10M440 482h10M441 414h10M455 394h10M371 438h10M374 384h10M464 388h10M453 484h10M418 455h10M374 430h10M484 446h10M357 508h10M522 409h10M398 460h10M342 411h10M432 460h10M444 399h10M333 426h10M393 476h10M379 373h10M354 537h10M358 480h10M373 481h10M448 382h10M386 528h10M354 430h10M409 488h10M317 510h10M401 469h10M418 458h10M462 461h10M426 462h10M422 473h10M335 503h10M340 496h10M422 420h10M407 452h10M417 428h10M464 475h10M465 442h10M367 485h10M328 439h10M487 441h10M411 404h10M461 415h10M338 478h10M347 379h10M344 479h10M379 488h10M447 492h10M485 473h10M478 454h10M481 508h10M426 498h10M461 514h10M446 502h10M407 443h10M333 474h10M372 404h10M495 519h10M420 415h10M405 473h10M381 536h10M464 419h10M431 394h10M435 502h10M488 357h10M497 428h10M450 426h10M413 494h10M396 495h10M383 439h10M364 401h10M408 443h10M496 448h10M477 349h10M434 484h10M473 552h10M434 546h10M389 447h10M470 484h10M473 431h10M391 483h10M408 512h10M575 463h10M492 460h10M325 402h10M354 376h10M398 501h10M280 452h10M336 528h10M482 485h10M412 450h10M402 543h10M445 482h10M514 480h10M428 449h10M316 474h10M385 510h10M328 408h10M408 434h10M375 469h10M348 461h10M513 471h10M386 477h10M364 488h10M459 442h10M377 490h10M307 529h10M362 381h10M409 417h10M325 421h10M404 487h10M297 465h10M349 454h10M437 480h10M470 422h10M406 486h10M368 428h10M316 400h10M510 438h10M409 475h10M381 474h10M433 432h10M475 474h10M381 456h10M474 540h10M373 488h10M372 422h10M403 487h10M518 426h10M342 373h10M327 495h10M436 551h10M459 461h10M443 533h10M314 379h10M425 491h10M299 449h10M336 483h10M486 509h10M479 449h10M368 516h10M372 473h10M443 418h10M280 524h10M399 507h10M434 394h10M422 442h10M392 443h10M406 483h10M361 499h10M519 462h10M493 463h10M384 429h10M481 463h10M361 518h10M391 482h10M305 431h10M387 496h10M438 479h10M375 530h10M395 458h10M324 508h10M460 525h10M368 530h10M431 378h10M417 446h10M441 424h10M332 454h10M547 449h10M371 427h10M316 427h10M447 404h10M369 447h10M438 464h10M383 559h10M497 496h10M356 470h10M292 384h10M355 462h10M430 450h10M319 460h10M396 493h10M458 493h10M480 492h10M409 515h10M428 395h10M450 497h10M351 509h10M275 486h10M368 452h10M445 502h10M459 526h10M347 460h10M390 472h10M290 522h10M437 507h10M435 436h10M355 438h10M315 429h10M387 474h10M369 552h10M370 477h10M419 398h10M424 384h10M373 436h10M376 490h10M483 478h10M448 443h10M355 474h10M349 477h10M467 529h10M489 421h10M446 480h10M396 425h10M419 529h10M417 466h10M499 465h10M414 549h10M523 477h10M405 451h10M369 452h10M461 545h10M367 466h10M432 479h10M370 417h10M312 477h10M428 472h10M448 458h10M395 369h10M500 421h10M455 541h10M420 497h10M416 497h10M402 406h10M400 392h10M434 478h10M465 438h10M335 481h10M387 452h10M351 433h10M444 463h10M417 554h10M472 473h10M470 435h10M357 477h10M428 476h10M513 410h10M454 490h10M450 447h10M359 458h10M398 408h10M440 429h10M321 484h10M404 408h10M376 437h10M357 412h10M400 488h10M372 505h10M419 528h10M422 444h10M421 473h10M332 429h10M437 434h10M447 405h10M413 448h10M346 442h10M367 552h10M447 452h10M498 470h10M395 506h10M423 461h10M367 454h10M374 420h10M373 437h10M339 428h10M451 511h10M412 432h10M376 470h10M457 439h10M341 426h10M396 484h10M479 383h10M369 472h10M333 441h10M311 450h10M452 541h10M369 462h10M474 503h10M438 493h10M394 426h10M386 502h10M406 500h10M444 481h10M436 404h10M376 489h10M382 418h10M403 417h10M462 491h10M395 491h10M384 526h10M364 524h10M408 476h10M369 455h10M437 466h10M390 553h10M356 445h10M341 387h10M418 482h10M360 415h10M436 434h10M505 531h10M431 459h10M439 399h10M449 537h10M321 453h10M451 470h10M388 531h10M423 511h10M384 473h10M339 397h10M354 486h10M464 417h10M471 439h10M333 481h10M428 444h10M413 488h10M434 452h10M439 428h10M429 496h10M446 401h10M390 491h10M458 526h10M418 431h10M523 424h10M410 520h10M403 533h10M441 504h10M483 484h10M332 515h10M448 482h10M428 448h10M367 502h10M363 507h10M389 450h10M354 449h10M418 476h10M421 500h10M389 473h10M377 511h10M470 498h10M504 449h10M373 470h10M544 500h10M442 476h10M472 497h10M485 510h10M501 399h10M397 477h10M338 451h10M472 501h10M484 434h10M488 451h10M460 457h10M476 489h10M398 464h10M431 558h10M374 523h10M437 497h10M459 519h10M410 465h10M383 514h10M487 529h10M442 482h10M384 499h10M399 449h10M378 422h10M434 476h10M492 467h10M565 492h10M397 513h10M399 530h10M372 423h10M549 505h10M442 453h10M383 463h10M435 490h10M323 531h10M451 524h10M347 464h10M386 474h10M314 513h10M386 358h10M446 433h10M471 393h10M385 410h10M441 421h10M344 439h10M366 520h10M387 453h10M415 477h10M418 452h10M389 453h10M410 468h10M480 419h10M342 471h10M421 514h10M440 489h10M519 517h10M368 490h10M365 478h10M383 450h10M362 473h10M432 493h10M420 467h10M428 523h10M362 406h10M400 457h10M467 521h10M488 412h10M461 539h10M452 541h10M469 473h10M486 495h10M337 506h10M360 465h10M305 447h10M453 461h10M314 425h10M485 461h10M450 557h10M435 488h10M510 385h10M438 491h10M453 499h10M398 433h10M497 512h10M324 438h10M462 501h10M396 465h10M404 493h10M397 467h10M353 526h10M365 462h10M412 459h10M343 439h10M392 376h10M371 439h10M418 445h10M345 467h10M377 446h10M450 480h10M435 527h10M438 507h10M409 506h10M493 450h10M426 425h10M397 468h10M441 454h10M491 540h10M362 391h10M386 434h10M360 450h10M441 526h10M395 511h10M410 479h10M490 473h10M432 481h10M518 226h10M424 491h10M495 383h10M474 319h10M441 266h10M502 262h10M429 356h10M389 420h10M500 210h10M485 203h10M431 331h10M519 195h10M439 422h10M397 382h10M523 238h10M458 345h10M443 191h10M483 370h10M487 305h10M459 284h10M468 234h10M530 233h10M466 325h10M463 412h10M477 306h10M441 336h10M439 302h10M481 244h10M498 246h10M524 337h10M486 311h10M484 249h10M503 309h10M464 314h10M491 239h10M415 363h10M449 400h10M490 199h10M484 379h10M483 226h10M466 424h10M468 452h10M487 276h10M495 247h10M471 389h10M445 250h10M400 293h10M519 295h10M419 283h10M457 281h10M404 350h10M450 299h10M464 380h10M514 230h10M513 277h10M488 343h10M468 271h10M487 257h10M565 125h10M474 301h10M467 162h10M516 204h10M464 220h10M433 347h10M428 121h10M526 296h10M475 347h10M545 211h10M522 248h10M443 495h10M509 171h10M484 237h10M507 380h10M446 383h10M442 327h10M459 319h10M481 378h10M468 320h10M519 277h10M488 367h10M501 262h10M497 308h10M447 502h10M406 331h10M430 242h10M516 251h10M434 437h10M554 135h10M444 372h10M552 123h10M481 281h10M490 116h10M411 407h10M455 341h10M490 302h10M494 220h10M446 290h10M456 312h10M548 192h10M446 360h10M415 320h10M482 279h10M427 315h10M485 277h10M556 212h10M426 232h10M521 264h10M563 164h10M458 363h10M511 325h10M485 195h10M502 247h10M469 235h10M488 262h10M430 350h10M473 283h10M507 348h10M458 232h10M478 259h10M449 369h10M462 356h10M447 429h10M472 434h10M502 173h10M464 236h10M433 293h10M518 361h10M441 453h10M436 339h10M449 325h10M478 282h10M456 339h10M427 420h10M462 377h10M516 274h10M445 315h10M429 363h10M433 295h10M385 312h10M484 186h10M434 324h10M440 386h10M423 252h10M436 369h10M491 266h10M448 382h10M449 384h10M492 262h10M450 470h10M511 244h10M446 358h10M475 344h10M533 178h10M524 175h10M475 225h10M460 291h10M476 342h10M415 449h10M486 284h10M455 250h10M481 268h10M372 462h10M429 272h10M419 477h10M393 352h10M475 335h10M503 361h10M516 365h10M433 300h10M479 354h10M497 234h10M444 305h10M548 218h10M481 324h10M410 396h10M495 256h10M461 392h10M474 290h10M494 297h10M567 143h10M495 207h10M425 330h10M491 201h10M487 268h10M493 281h10M440 317h10M486 272h10M447 193h10M466 249h10M468 169h10M452 440h10M520 304h10M432 424h10M393 472h10M488 112h10M469 354h10M481 503h10M444 297h10M525 196h10M495 217h10M497 270h10M432 487h10M423 451h10M532 186h10M556 40h10M471 230h10M496 189h10M460 201h10M505 294h10M478 320h10M513 175h10M488 270h10M441 265h10M420 289h10M511 360h10M396 360h10M496 219h10M476 249h10M428 305h10M482 317h10M418 342h10M468 311h10M401 340h10M465 190h10M427 330h10M481 118h10M520 347h10M464 404h10M512 160h10M492 290h10M488 273h10M488 186h10M526 241h10M469 87h10M452 301h10M444 440h10M449 277h10M488 312h10M477 260h10M378 285h10M540 97h10M466 343h10M485 297h10M468 220h10M426 319h10M486 290h10M533 225h10M464 332h10M191 505h10M197 524h10M352 450h10M309 555h10M282 463h10M304 457h10M273 418h10M216 479h10M252 458h10M189 431h10M268 461h10M275 450h10M213 430h10M295 445h10M189 505h10M198 489h10M319 516h10M126 440h10M259 457h10M202 525h10M188 395h10M202 417h10M219 434h10M191 390h10M368 448h10M165 431h10M169 484h10M191 410h10M268 451h10M373 396h10M84 475h10M207 504h10M211 494h10M170 486h10M147 360h10M163 420h10M318 447h10M270 481h10M103 489h10M206 476h10M255 440h10M273 412h10M144 496h10M191 453h10M262 497h10M186 429h10M308 440h10M267 470h10M226 469h10M239 443h10M353 497h10M200 440h10M158 456h10M179 460h10M187 409h10M182 462h10M267 468h10M229 484h10M256 545h10M254 457h10M266 459h10M251 444h10M149 510h10M136 421h10M283 508h10M240 436h10M227 458h10M215 418h10M227 433h10M246 455h10M192 514h10M163 417h10M324 468h10M243 425h10M126 433h10M49 509h10M244 400h10M172 490h10M204 508h10M259 461h10M326 488h10M260 424h10M394 460h10M200 465h10M250 477h10M321 470h10M285 470h10M252 501h10M114 343h10M238 407h10M135 482h10M202 453h10M247 423h10M272 444h10M192 437h10M312 452h10M265 431h10M209 412h10M259 457h10M212 518h10M216 484h10M316 439h10M296 474h10M280 538h10M182 410h10M306 393h10M185 456h10M255 459h10M196 443h10M259 396h10M245 333h10M229 474h10M165 430h10M281 513h10M152 468h10M261 409h10M241 484h10M301 489h10M338 547h10M170 467h10M134 432h10M177 475h10M392 399h10M268 438h10M293 486h10M176 424h10M118 412h10M265 498h10M262 424h10M253 396h10M165 483h10M267 455h10M238 425h10M326 504h10M173 500h10M67 491h10M319 273h10M246 210h10M187 403h10M306 345h10M191 236h10M264 220h10M179 299h10M386 196h10M247 229h10M282 340h10M153 409h10M131 203h10M186 363h10M232 350h10M294 198h10M121 327h10M212 324h10M292 341h10M279 306h10M221 415h10M264 359h10M352 319h10M257 258h10M117 277h10M239 213h10M325 343h10M289 263h10M339 449h10M136 413h10M258 342h10M111 344h10M218 276h10M201 270h10M202 290h10M302 253h10M398 242h10M227 306h10" stroke="#000" stroke-width="10" stroke-opacity="0.42" fill="none" filter="url(#sf)"/>
<rect x="49.8" y="104.7" width="63.8" height="57.3" fill="none" stroke="#000" stroke-width="1.5"/>
<path d="M82.5 104.7V162.0M49.8 142.4H113.6" stroke="#000" stroke-width="1.5" fill="none"/>
<text x="54.0" y="113.7" font-size="7.4" text-anchor="start" font-family="Liberation Serif, Times New Roman, serif" stroke="#000" stroke-width="0.15">1</text>
<text x="111.19999999999999" y="113.7" font-size="7.4" text-anchor="end" font-family="Liberation Serif, Times New Roman, serif" stroke="#000" stroke-width="0.15">11</text>
<text x="54.0" y="158.9" font-size="7.4" text-anchor="start" font-family="Liberation Serif, Times New Roman, serif" stroke="#000" stroke-width="0.15">7</text>
<text x="111.19999999999999" y="158.9" font-size="7.4" text-anchor="end" font-family="Liberation Serif, Times New Roman, serif" stroke="#000" stroke-width="0.15">81</text>
<g filter="url(#st)"><rect x="134.8" y="104.7" width="63.80000000000001" height="57.3" fill="#000" fill-opacity="0.001"/>
<ellipse cx="174.4" cy="150.5" rx="13.4" ry="10.9" fill="url(#g1)" opacity="1.0" transform="rotate(0 174.4 150.5)"/>
<ellipse cx="181.4" cy="133.3" rx="7.0" ry="17.2" fill="url(#g1)" opacity="0.46" transform="rotate(10 181.4 133.3)"/>
<ellipse cx="184.6" cy="125.3" rx="3.8" ry="8.0" fill="url(#g1)" opacity="0.26" transform="rotate(10 184.6 125.3)"/>
<ellipse cx="157.8" cy="149.4" rx="12.8" ry="6.3" fill="url(#g1)" opacity="0.42" transform="rotate(0 157.8 149.4)"/>
<ellipse cx="160.3" cy="136.2" rx="14.0" ry="12.6" fill="url(#g1)" opacity="0.04" transform="rotate(0 160.3 136.2)"/>
</g>
<ellipse cx="174.4" cy="151.1" rx="6.4" ry="5.7" fill="url(#g1)" opacity="0.85" transform="rotate(0 174.4 151.1)"/>
<path transform="translate(134.8 104.7) scale(0.1)" d="M380 436h10M228 520h10M335 410h10M290 454h10M336 443h10M463 519h10M447 468h10M427 450h10M415 453h10M319 534h10M354 406h10M387 524h10M401 422h10M378 538h10M318 409h10M296 470h10M370 475h10M423 442h10M441 456h10M389 497h10M416 374h10M247 513h10M360 427h10M421 513h10M377 495h10M320 382h10M264 478h10M365 454h10M462 385h10M536 460h10M273 509h10M510 453h10M353 509h10M448 354h10M387 467h10M306 443h10M337 453h10M451 524h10M384 455h10M346 444h10M488 454h10M317 428h10M383 479h10M335 503h10M420 438h10M416 527h10M337 446h10M427 462h10M333 438h10M465 466h10M367 433h10M352 413h10M474 445h10M453 451h10M426 468h10M445 535h10M403 395h10M430 542h10M431 452h10M405 378h10M347 483h10M481 540h10M386 433h10M344 415h10M359 399h10M463 372h10M479 504h10M363 471h10M374 526h10M445 496h10M339 503h10M364 497h10M489 446h10M339 448h10M493 405h10M394 449h10M475 418h10M366 425h10M406 414h10M359 400h10M418 454h10M412 376h10M451 462h10M484 534h10M357 462h10M362 458h10M420 452h10M376 529h10M301 459h10M346 426h10M378 467h10M327 507h10M374 442h10M332 466h10M315 428h10M438 503h10M324 380h10M528 469h10M390 429h10M379 428h10M368 386h10M394 443h10M359 422h10M344 484h10M377 406h10M408 455h10M374 511h10M455 479h10M457 540h10M379 466h10M341 449h10M335 469h10M342 462h10M361 409h10M417 371h10M480 464h10M334 438h10M357 442h10M450 473h10M338 391h10M397 491h10M300 481h10M407 474h10M511 474h10M469 462h10M481 438h10M397 467h10M421 459h10M301 484h10M423 531h10M364 487h10M489 471h10M340 403h10M360 473h10M328 488h10M328 480h10M440 423h10M480 440h10M259 454h10M419 436h10M431 523h10M413 481h10M455 460h10M442 451h10M332 472h10M357 453h10M393 470h10M273 456h10M333 412h10M461 404h10M471 424h10M447 487h10M366 502h10M231 467h10M385 491h10M366 474h10M379 487h10M442 397h10M502 455h10M519 432h10M399 524h10M378 505h10M381 464h10M390 469h10M510 429h10M413 444h10M399 459h10M403 483h10M523 393h10M385 481h10M471 399h10M522 491h10M517 500h10M402 432h10M414 472h10M314 464h10M379 478h10M330 418h10M369 472h10M355 371h10M319 500h10M435 448h10M428 419h10M370 442h10M463 461h10M336 447h10M361 502h10M427 477h10M359 497h10M429 385h10M388 473h10M405 467h10M415 499h10M445 464h10M339 357h10M335 443h10M417 549h10M437 398h10M427 428h10M341 439h10M447 447h10M435 454h10M366 460h10M494 456h10M458 521h10M480 469h10M449 476h10M322 432h10M371 541h10M335 413h10M429 484h10M394 406h10M217 529h10M372 475h10M360 411h10M364 516h10M346 440h10M393 501h10M471 413h10M392 422h10M344 495h10M393 479h10M459 493h10M511 507h10M404 435h10M407 497h10M411 413h10M376 417h10M510 502h10M328 452h10M439 476h10M381 342h10M473 419h10M461 504h10M372 449h10M404 446h10M390 448h10M497 501h10M331 406h10M419 492h10M387 354h10M484 395h10M398 431h10M357 405h10M341 494h10M504 463h10M416 486h10M443 436h10M448 449h10M371 320h10M391 389h10M419 473h10M324 457h10M375 436h10M427 475h10M362 380h10M431 396h10M360 455h10M432 477h10M371 481h10M407 539h10M406 448h10M316 448h10M332 372h10M346 501h10M451 454h10M335 433h10M307 481h10M433 433h10M377 448h10M345 472h10M327 428h10M453 427h10M419 503h10M431 499h10M409 503h10M393 401h10M386 443h10M303 476h10M439 395h10M335 440h10M361 513h10M364 471h10M326 440h10M422 420h10M250 475h10M419 492h10M459 416h10M332 363h10M419 451h10M372 534h10M387 454h10M365 481h10M360 493h10M481 433h10M460 367h10M391 455h10M391 496h10M535 532h10M443 457h10M355 461h10M373 421h10M410 517h10M328 521h10M360 508h10M324 421h10M399 466h10M436 403h10M378 442h10M389 493h10M485 389h10M414 449h10M405 488h10M424 377h10M452 466h10M351 490h10M396 354h10M412 528h10M396 418h10M449 429h10M448 514h10M399 394h10M446 478h10M368 501h10M401 361h10M424 432h10M355 527h10M366 452h10M345 430h10M401 468h10M463 506h10M338 447h10M391 443h10M372 512h10M416 486h10M420 443h10M317 439h10M383 479h10M356 439h10M365 426h10M475 512h10M478 520h10M330 522h10M377 485h10M369 444h10M308 345h10M364 445h10M407 455h10M431 476h10M394 438h10M381 526h10M357 439h10M430 451h10M408 501h10M380 397h10M435 351h10M445 437h10M361 455h10M320 385h10M279 441h10M353 354h10M423 430h10M447 470h10M412 489h10M368 483h10M420 446h10M492 522h10M442 460h10M382 473h10M405 512h10M415 465h10M403 456h10M476 462h10M390 517h10M365 396h10M449 508h10M447 429h10M391 387h10M392 469h10M372 490h10M434 457h10M456 455h10M414 523h10M506 391h10M377 406h10M402 463h10M410 395h10M409 419h10M330 454h10M378 483h10M355 507h10M361 412h10M324 447h10M500 460h10M336 404h10M388 396h10M548 448h10M351 478h10M335 422h10M358 429h10M397 448h10M371 514h10M266 501h10M331 510h10M408 386h10M325 444h10M313 425h10M480 432h10M408 443h10M398 463h10M455 533h10M442 361h10M350 523h10M428 479h10M444 430h10M344 424h10M398 476h10M457 485h10M380 499h10M353 477h10M387 458h10M371 469h10M335 437h10M412 493h10M340 507h10M451 491h10M438 503h10M386 385h10M343 504h10M378 523h10M451 441h10M470 350h10M451 484h10M385 427h10M348 418h10M408 448h10M349 427h10M439 461h10M369 514h10M427 434h10M445 431h10M391 493h10M439 434h10M480 494h10M437 469h10M381 451h10M490 482h10M369 454h10M331 442h10M272 380h10M348 557h10M390 480h10M368 551h10M435 435h10M374 459h10M339 448h10M423 390h10M466 515h10M405 490h10M412 435h10M446 471h10M379 399h10M368 509h10M436 440h10M474 449h10M394 454h10M315 476h10M448 451h10M535 402h10M410 447h10M431 466h10M424 425h10M420 493h10M389 382h10M302 409h10M395 393h10M388 458h10M331 488h10M330 470h10M499 389h10M386 515h10M395 417h10M384 389h10M373 462h10M358 447h10M288 514h10M363 462h10M383 449h10M413 477h10M377 418h10M461 382h10M437 406h10M369 479h10M398 443h10M430 466h10M361 439h10M326 457h10M511 476h10M429 440h10M300 438h10M411 418h10M328 455h10M431 422h10M496 432h10M384 402h10M443 374h10M382 468h10M428 484h10M334 483h10M372 361h10M511 475h10M431 503h10M390 429h10M423 502h10M470 402h10M451 383h10M428 431h10M436 497h10M425 500h10M441 467h10M477 457h10M363 470h10M354 460h10M397 538h10M504 398h10M347 498h10M416 543h10M454 455h10M555 393h10M428 518h10M441 429h10M329 500h10M384 456h10M420 455h10M488 524h10M312 486h10M392 394h10M410 465h10M352 476h10M478 425h10M332 429h10M421 531h10M357 418h10M348 430h10M500 500h10M254 433h10M398 420h10M369 438h10M412 529h10M222 470h10M486 474h10M391 484h10M455 506h10M428 397h10M422 504h10M343 356h10M417 509h10M321 497h10M341 449h10M440 402h10M425 433h10M478 438h10M404 474h10M364 454h10M376 512h10M360 437h10M357 443h10M427 448h10M376 431h10M381 493h10M374 505h10M523 454h10M483 393h10M376 492h10M424 420h10M439 408h10M350 426h10M409 535h10M449 556h10M412 483h10M492 464h10M488 519h10M344 446h10M387 446h10M412 428h10M478 490h10M445 500h10M333 499h10M359 543h10M312 514h10M346 461h10M441 409h10M369 489h10M318 365h10M417 501h10M483 480h10M415 509h10M402 487h10M244 460h10M347 414h10M401 449h10M494 535h10M447 550h10M402 375h10M325 482h10M403 462h10M391 369h10M420 479h10M434 443h10M370 485h10M280 444h10M376 521h10M478 533h10M391 433h10M409 494h10M383 332h10M417 441h10M300 420h10M382 435h10M381 461h10M336 485h10M373 390h10M335 418h10M442 465h10M372 459h10M367 441h10M427 467h10M394 454h10M373 489h10M386 483h10M297 517h10M371 408h10M439 517h10M459 489h10M394 455h10M478 443h10M433 507h10M447 369h10M397 355h10M448 490h10M373 399h10M358 411h10M419 456h10M493 419h10M314 550h10M351 390h10M428 528h10M400 479h10M438 427h10M400 498h10M372 546h10M317 413h10M370 425h10M374 488h10M500 388h10M351 394h10M399 429h10M348 437h10M414 420h10M395 399h10M489 456h10M476 546h10M404 390h10M421 411h10M439 424h10M428 476h10M312 527h10M561 415h10M393 415h10M400 461h10M420 497h10M432 417h10M281 453h10M389 492h10M484 473h10M371 463h10M372 466h10M360 479h10M351 401h10M407 478h10M422 404h10M298 392h10M468 498h10M426 521h10M456 517h10M398 543h10M483 418h10M444 532h10M535 440h10M421 478h10M348 453h10M406 398h10M414 435h10M348 422h10M443 505h10M377 449h10M271 457h10M491 482h10M459 465h10M357 458h10M467 497h10M347 423h10M436 477h10M491 419h10M288 461h10M313 439h10M377 462h10M524 494h10M380 428h10M469 456h10M327 479h10M341 487h10M500 412h10M416 443h10M379 510h10M276 426h10M475 432h10M331 442h10M408 478h10M447 526h10M442 485h10M432 413h10M435 524h10M372 489h10M451 466h10M409 415h10M363 485h10M497 416h10M479 452h10M349 360h10M381 481h10M323 456h10M401 485h10M417 463h10M447 482h10M386 445h10M386 358h10M402 422h10M444 465h10M419 426h10M421 458h10M453 121h10M517 135h10M465 309h10M480 349h10M475 155h10M495 258h10M436 324h10M456 403h10M467 300h10M405 297h10M467 204h10M477 332h10M601 272h10M506 39h10M456 447h10M534 139h10M502 324h10M446 383h10M473 220h10M440 242h10M466 281h10M404 199h10M433 311h10M519 214h10M523 203h10M415 248h10M456 248h10M460 282h10M488 305h10M506 293h10M492 186h10M475 304h10M426 418h10M452 337h10M431 271h10M453 272h10M404 466h10M506 339h10M429 344h10M530 237h10M500 170h10M392 369h10M459 198h10M503 229h10M473 182h10M480 374h10M450 234h10M509 167h10M493 279h10M478 294h10M526 147h10M560 123h10M490 149h10M536 185h10M495 267h10M426 317h10M451 196h10M511 205h10M482 314h10M459 189h10M458 368h10M463 289h10M497 326h10M461 240h10M494 146h10M445 171h10M474 290h10M420 267h10M474 193h10M445 443h10M450 353h10M558 193h10M476 299h10M448 346h10M424 292h10M427 281h10M517 144h10M477 179h10M468 265h10M440 383h10M484 325h10M459 124h10M446 298h10M520 181h10M450 301h10M372 304h10M504 270h10M458 327h10M465 376h10M486 242h10M471 336h10M386 205h10M416 446h10M486 76h10M406 280h10M456 307h10M416 381h10M516 285h10M441 330h10M479 256h10M525 118h10M439 305h10M491 213h10M425 368h10M463 236h10M491 271h10M426 169h10M521 257h10M513 199h10M434 276h10M444 286h10M471 230h10M491 170h10M451 402h10M409 381h10M433 499h10M445 294h10M495 185h10M451 392h10M408 478h10M489 140h10M482 392h10M470 170h10M389 361h10M428 318h10M462 238h10M496 348h10M521 230h10M429 313h10M498 206h10M466 238h10M464 349h10M536 170h10M472 332h10M414 313h10M443 276h10M534 248h10M530 240h10M476 249h10M471 347h10M519 141h10M477 209h10M447 294h10M513 101h10M455 252h10M492 172h10M459 271h10M444 356h10M424 271h10M550 261h10M539 113h10M463 290h10M478 261h10M553 149h10M505 312h10M483 318h10M464 336h10M448 411h10M445 294h10M515 262h10M509 237h10M424 267h10M456 338h10M507 273h10M432 294h10M445 293h10M542 211h10M504 83h10M508 233h10M424 368h10M587 60h10M481 201h10M468 243h10M438 280h10M485 326h10M461 204h10M493 377h10M485 332h10M524 103h10M466 289h10M486 359h10M465 274h10M426 401h10M514 231h10M530 276h10M468 425h10M472 297h10M549 259h10M481 305h10M468 301h10M515 171h10M416 358h10M499 104h10M493 268h10M500 220h10M430 189h10M448 371h10M460 225h10M417 320h10M506 300h10M505 244h10M513 417h10M421 358h10M495 158h10M425 443h10M470 362h10M426 463h10M456 260h10M480 310h10M491 299h10M453 301h10M464 275h10M469 309h10M441 439h10M485 201h10M501 141h10M449 310h10M449 393h10M514 224h10M453 339h10M436 309h10M399 364h10M442 246h10M419 262h10M467 297h10M511 170h10M492 129h10M460 277h10M417 320h10M551 146h10M554 168h10M487 331h10M446 258h10M475 270h10M448 222h10M439 320h10M468 342h10M469 408h10M533 85h10M547 301h10M468 257h10M474 251h10M542 232h10M481 313h10M403 378h10M429 411h10M447 306h10M471 219h10M478 318h10M503 303h10M438 235h10M481 194h10M474 373h10M473 355h10M471 213h10M519 107h10M495 215h10M446 296h10M419 446h10M532 204h10M544 228h10M414 336h10M509 265h10M488 335h10M475 339h10M470 247h10M489 310h10M432 336h10M556 250h10M449 334h10M503 176h10M454 312h10M541 192h10M490 257h10M449 307h10M436 336h10M544 232h10M480 290h10M513 215h10M466 315h10M470 341h10M494 178h10M454 219h10M391 310h10M457 306h10M317 481h10M277 466h10M119 427h10M163 451h10M249 432h10M187 451h10M207 428h10M371 429h10M187 447h10M228 482h10M353 400h10M344 463h10M197 414h10M319 390h10M183 501h10M89 417h10M310 453h10M207 475h10M111 401h10M265 424h10M106 538h10M223 476h10M258 448h10M189 444h10M101 411h10M290 437h10M200 450h10M258 479h10M220 420h10M159 427h10M131 455h10M195 467h10M216 422h10M182 466h10M173 445h10M323 497h10M234 457h10M264 468h10M208 416h10M129 497h10M305 510h10M226 482h10M296 474h10M323 457h10M187 520h10M155 476h10M208 488h10M180 440h10M183 489h10M191 394h10M168 442h10M225 403h10M335 372h10M210 419h10M195 440h10M141 409h10M196 404h10M258 407h10M311 395h10M334 433h10M363 455h10M236 471h10M14 400h10M182 390h10M273 558h10M61 409h10M239 418h10M277 435h10M272 511h10M237 473h10M208 405h10M259 446h10M206 423h10M180 461h10M224 388h10M213 495h10M291 439h10M248 431h10M362 471h10M209 488h10M202 431h10M136 412h10M183 420h10M169 448h10M177 511h10M202 396h10M267 446h10M228 431h10M321 418h10M293 449h10M282 450h10M359 429h10M251 438h10M237 410h10M198 405h10M176 464h10M258 459h10M227 413h10M245 410h10M145 490h10M246 445h10M343 441h10M322 411h10M142 400h10M280 472h10M221 386h10M183 473h10M253 411h10M237 541h10M216 390h10M224 466h10M327 454h10M156 439h10M303 422h10M302 397h10M231 446h10M166 454h10M285 435h10M199 466h10M294 492h10M216 429h10M292 483h10M352 451h10M256 443h10M256 431h10M235 452h10M181 386h10M178 421h10M249 462h10M82 395h10M163 510h10M260 427h10M207 439h10M127 489h10M272 454h10M231 435h10M200 390h10M269 404h10M228 430h10M202 464h10M217 405h10M271 500h10M241 459h10M215 512h10M257 414h10M300 524h10M251 407h10M118 407h10M374 414h10M148 442h10M273 437h10M209 457h10M312 466h10M199 430h10M244 404h10M245 504h10M216 432h10M256 413h10M318 490h10M285 455h10M245 467h10M159 425h10M210 492h10M356 445h10M246 456h10M196 426h10M238 495h10M149 482h10M157 479h10M218 403h10M138 436h10M286 419h10M252 224h10M169 253h10M158 296h10M118 389h10M198 237h10M317 258h10M323 223h10M177 230h10M366 165h10M250 409h10M192 361h10M295 328h10M250 264h10M182 296h10M292 267h10M319 337h10M267 264h10M287 299h10M398 304h10M292 199h10M251 396h10M275 350h10M221 253h10M261 210h10M218 438h10M236 247h10M348 316h10M206 289h10M232 246h10M255 294h10M206 265h10M348 397h10M257 127h10M244 190h10M204 180h10M379 283h10M349 139h10" stroke="#000" stroke-width="10" stroke-opacity="0.42" fill="none" filter="url(#sf)"/>
<rect x="134.8" y="104.7" width="63.80000000000001" height="57.3" fill="none" stroke="#000" stroke-width="1.5"/>
<path d="M167.5 104.7V162.0M134.8 142.4H198.60000000000002" stroke="#000" stroke-width="1.5" fill="none"/>
<text x="139.0" y="113.7" font-size="7.4" text-anchor="start" font-family="Liberation Serif, Times New Roman, serif" stroke="#000" stroke-width="0.15">1</text>
<text x="196.20000000000002" y="113.7" font-size="7.4" text-anchor="end" font-family="Liberation Serif, Times New Roman, serif" stroke="#000" stroke-width="0.15">13</text>
<text x="139.0" y="158.9" font-size="7.4" text-anchor="start" font-family="Liberation Serif, Times New Roman, serif" stroke="#000" stroke-width="0.15">9</text>
<text x="196.20000000000002" y="158.9" font-size="7.4" text-anchor="end" font-family="Liberation Serif, Times New Roman, serif" stroke="#000" stroke-width="0.15">77</text>
<g filter="url(#st)"><rect x="219.1" y="104.7" width="63.79999999999998" height="57.3" fill="#000" fill-opacity="0.001"/>
<ellipse cx="258.7" cy="150.5" rx="13.4" ry="10.3" fill="url(#g1)" opacity="1.0" transform="rotate(0 258.7 150.5)"/>
<ellipse cx="265.7" cy="133.3" rx="6.4" ry="17.2" fill="url(#g1)" opacity="0.34" transform="rotate(10 265.7 133.3)"/>
<ellipse cx="268.9" cy="125.3" rx="3.2" ry="7.4" fill="url(#g1)" opacity="0.2" transform="rotate(10 268.9 125.3)"/>
<ellipse cx="242.1" cy="149.4" rx="13.4" ry="6.3" fill="url(#g1)" opacity="0.45" transform="rotate(0 242.1 149.4)"/>
<ellipse cx="245.9" cy="134.5" rx="16.6" ry="13.8" fill="url(#g1)" opacity="0.08" transform="rotate(0 245.9 134.5)"/>
</g>
<ellipse cx="258.7" cy="151.1" rx="6.4" ry="5.2" fill="url(#g1)" opacity="0.8" transform="rotate(0 258.7 151.1)"/>
<path transform="translate(219.1 104.7) scale(0.1)" d="M493 467h10M450 449h10M373 367h10M377 368h10M370 395h10M373 548h10M428 475h10M416 448h10M345 492h10M407 405h10M469 526h10M383 494h10M384 489h10M357 422h10M451 517h10M420 491h10M455 481h10M584 514h10M385 452h10M401 476h10M350 468h10M355 441h10M474 478h10M391 501h10M435 517h10M448 414h10M408 397h10M482 466h10M373 461h10M338 466h10M485 440h10M409 454h10M435 510h10M277 455h10M335 421h10M440 524h10M360 497h10M319 468h10M416 418h10M439 492h10M375 432h10M443 493h10M425 512h10M410 471h10M372 476h10M413 539h10M462 440h10M331 412h10M393 422h10M346 428h10M391 405h10M324 483h10M383 461h10M485 423h10M395 547h10M493 514h10M307 431h10M403 409h10M337 519h10M289 419h10M389 429h10M340 432h10M472 448h10M426 423h10M468 545h10M407 438h10M321 485h10M362 532h10M430 406h10M344 413h10M439 530h10M417 430h10M469 453h10M416 403h10M403 477h10M326 495h10M438 490h10M189 538h10M372 452h10M320 442h10M380 508h10M330 470h10M422 448h10M394 474h10M301 442h10M361 466h10M518 420h10M505 432h10M399 480h10M289 531h10M407 469h10M506 446h10M418 398h10M436 453h10M382 450h10M449 436h10M441 471h10M278 475h10M417 430h10M358 456h10M424 477h10M311 458h10M313 465h10M414 423h10M375 357h10M370 364h10M383 469h10M400 500h10M409 470h10M381 491h10M364 532h10M384 481h10M392 497h10M353 477h10M349 529h10M361 450h10M321 429h10M326 395h10M450 409h10M337 469h10M535 355h10M437 458h10M437 450h10M429 504h10M361 368h10M312 449h10M415 485h10M335 453h10M371 471h10M405 420h10M451 410h10M501 454h10M426 447h10M450 417h10M311 489h10M259 385h10M441 474h10M439 406h10M202 375h10M295 447h10M380 509h10M418 461h10M459 430h10M426 480h10M318 430h10M347 437h10M388 424h10M381 416h10M351 487h10M390 453h10M354 379h10M302 477h10M532 520h10M372 453h10M386 459h10M394 418h10M425 554h10M336 437h10M421 417h10M398 437h10M305 525h10M283 483h10M409 474h10M406 526h10M449 451h10M414 507h10M501 418h10M393 400h10M370 460h10M345 450h10M455 449h10M374 382h10M396 438h10M448 404h10M408 433h10M444 467h10M321 421h10M507 497h10M409 446h10M383 432h10M361 454h10M415 385h10M298 459h10M369 429h10M456 478h10M360 410h10M410 481h10M253 476h10M494 475h10M447 421h10M411 481h10M488 441h10M384 533h10M355 469h10M393 410h10M426 449h10M381 526h10M255 468h10M389 469h10M380 431h10M397 478h10M434 437h10M423 451h10M359 488h10M416 490h10M384 396h10M450 456h10M346 407h10M432 470h10M448 463h10M354 437h10M421 415h10M385 437h10M282 470h10M334 547h10M379 450h10M419 485h10M387 512h10M397 503h10M375 418h10M366 422h10M306 426h10M329 483h10M483 413h10M402 420h10M450 515h10M364 488h10M294 474h10M446 470h10M435 509h10M532 464h10M395 489h10M353 497h10M345 464h10M350 408h10M399 420h10M328 446h10M341 468h10M423 476h10M499 456h10M375 467h10M365 400h10M424 423h10M346 442h10M397 437h10M268 458h10M408 472h10M492 417h10M500 474h10M356 535h10M382 503h10M331 505h10M448 447h10M481 402h10M523 398h10M414 459h10M213 471h10M373 412h10M354 389h10M452 410h10M373 516h10M498 392h10M415 515h10M457 404h10M367 468h10M448 492h10M317 488h10M458 523h10M425 421h10M415 471h10M323 403h10M431 514h10M398 467h10M358 443h10M428 492h10M391 362h10M400 398h10M286 430h10M483 393h10M398 469h10M473 429h10M394 411h10M352 481h10M455 372h10M275 431h10M455 420h10M454 448h10M358 485h10M397 470h10M272 464h10M386 464h10M460 503h10M428 508h10M279 448h10M360 461h10M296 487h10M373 483h10M396 475h10M460 425h10M306 455h10M352 452h10M358 361h10M335 422h10M410 487h10M473 468h10M505 529h10M373 442h10M332 457h10M376 480h10M501 557h10M435 421h10M416 480h10M351 451h10M445 435h10M335 449h10M410 514h10M351 492h10M402 479h10M413 424h10M251 416h10M415 463h10M413 450h10M399 441h10M470 396h10M354 417h10M385 488h10M497 503h10M451 520h10M456 502h10M345 432h10M433 464h10M377 507h10M370 475h10M394 417h10M497 387h10M324 440h10M474 515h10M356 485h10M382 415h10M414 460h10M362 492h10M450 416h10M491 483h10M387 527h10M443 498h10M443 448h10M429 455h10M354 419h10M426 502h10M312 531h10M438 500h10M379 487h10M438 402h10M453 555h10M354 382h10M353 496h10M422 419h10M362 384h10M404 367h10M384 401h10M387 487h10M387 468h10M412 446h10M352 384h10M414 519h10M517 379h10M341 484h10M505 413h10M405 469h10M364 452h10M372 394h10M500 470h10M370 510h10M382 509h10M357 508h10M436 430h10M442 504h10M401 410h10M328 453h10M412 349h10M437 480h10M491 449h10M378 476h10M319 462h10M295 424h10M404 458h10M331 476h10M395 486h10M354 444h10M421 408h10M415 421h10M492 422h10M428 370h10M378 467h10M380 434h10M331 457h10M377 453h10M354 402h10M448 516h10M457 472h10M409 450h10M399 460h10M340 404h10M412 408h10M480 443h10M436 464h10M380 466h10M398 487h10M425 518h10M396 482h10M352 511h10M382 464h10M354 407h10M472 423h10M378 391h10M437 475h10M437 431h10M430 456h10M316 512h10M364 487h10M437 498h10M445 457h10M295 476h10M544 444h10M438 462h10M374 463h10M479 496h10M400 472h10M265 388h10M258 449h10M472 508h10M360 480h10M412 522h10M304 395h10M397 431h10M304 446h10M508 469h10M346 500h10M324 457h10M378 474h10M397 482h10M352 461h10M445 414h10M454 469h10M313 490h10M407 412h10M419 396h10M336 421h10M421 534h10M387 475h10M411 475h10M447 448h10M426 484h10M356 476h10M482 365h10M364 507h10M440 463h10M418 426h10M421 470h10M418 433h10M401 383h10M435 522h10M330 454h10M289 492h10M363 454h10M349 411h10M423 466h10M445 486h10M341 531h10M274 483h10M433 519h10M315 472h10M326 550h10M261 466h10M424 425h10M363 441h10M413 456h10M297 406h10M346 436h10M413 442h10M379 480h10M375 468h10M427 451h10M383 505h10M430 468h10M446 478h10M448 446h10M354 376h10M452 399h10M482 427h10M335 421h10M364 484h10M401 435h10M524 372h10M409 480h10M433 543h10M410 386h10M476 423h10M344 474h10M347 442h10M420 407h10M430 401h10M352 383h10M431 502h10M402 459h10M339 539h10M366 443h10M419 426h10M321 547h10M392 425h10M415 411h10M307 352h10M408 535h10M304 473h10M309 516h10M395 494h10M366 422h10M372 487h10M398 413h10M496 474h10M407 445h10M391 478h10M379 409h10M442 437h10M355 390h10M358 456h10M305 458h10M479 476h10M386 413h10M460 453h10M496 383h10M376 466h10M399 476h10M432 360h10M487 486h10M488 477h10M404 342h10M416 402h10M473 421h10M420 486h10M392 427h10M561 399h10M361 413h10M465 491h10M381 426h10M376 493h10M483 439h10M392 556h10M492 472h10M380 479h10M372 473h10M425 486h10M413 506h10M445 460h10M351 444h10M502 483h10M485 424h10M347 523h10M371 461h10M368 454h10M403 407h10M433 445h10M361 542h10M435 427h10M401 439h10M298 495h10M312 451h10M274 481h10M376 474h10M397 469h10M394 427h10M282 540h10M368 524h10M446 448h10M361 481h10M430 466h10M405 481h10M371 403h10M431 422h10M423 447h10M332 405h10M340 444h10M387 490h10M372 438h10M336 474h10M334 438h10M424 496h10M447 490h10M416 457h10M468 452h10M307 475h10M373 488h10M386 428h10M428 459h10M350 394h10M340 502h10M490 493h10M334 437h10M390 478h10M345 495h10M447 429h10M359 487h10M453 486h10M332 388h10M408 502h10M440 415h10M422 483h10M358 401h10M518 479h10M445 556h10M431 429h10M378 518h10M406 438h10M505 472h10M426 504h10M305 445h10M414 453h10M443 419h10M341 460h10M396 400h10M412 516h10M379 419h10M508 548h10M387 498h10M362 459h10M327 456h10M488 471h10M447 395h10M429 459h10M448 422h10M405 381h10M359 516h10M408 415h10M466 484h10M392 476h10M383 489h10M505 379h10M418 350h10M396 423h10M433 471h10M455 470h10M460 397h10M316 378h10M367 426h10M478 510h10M425 463h10M447 415h10M437 434h10M493 464h10M401 434h10M437 506h10M479 447h10M421 443h10M422 469h10M368 438h10M477 497h10M385 453h10M439 443h10M438 475h10M368 360h10M474 505h10M287 468h10M347 477h10M436 497h10M372 492h10M438 504h10M393 435h10M452 498h10M391 447h10M272 394h10M391 472h10M318 444h10M363 436h10M462 507h10M287 504h10M420 443h10M441 467h10M468 470h10M359 421h10M464 369h10M438 480h10M359 380h10M377 515h10M206 407h10M365 447h10M309 495h10M323 464h10M304 468h10M366 378h10M375 495h10M453 501h10M341 511h10M402 477h10M450 390h10M438 401h10M438 447h10M433 438h10M356 486h10M378 528h10M382 528h10M318 498h10M384 495h10M495 222h10M435 315h10M455 298h10M522 181h10M419 249h10M453 318h10M475 281h10M438 307h10M520 220h10M476 224h10M523 112h10M483 278h10M470 386h10M522 309h10M481 368h10M479 297h10M420 381h10M469 206h10M468 191h10M505 320h10M488 295h10M531 349h10M475 276h10M472 285h10M527 119h10M402 409h10M537 314h10M492 376h10M499 192h10M459 274h10M459 185h10M465 156h10M465 251h10M482 234h10M405 342h10M433 299h10M444 405h10M490 299h10M405 387h10M443 280h10M405 425h10M446 335h10M435 401h10M520 223h10M461 212h10M507 475h10M475 230h10M446 484h10M470 257h10M469 283h10M461 227h10M466 306h10M505 264h10M455 381h10M524 139h10M386 439h10M440 327h10M379 408h10M481 214h10M496 253h10M418 401h10M561 208h10M412 322h10M535 39h10M521 262h10M520 283h10M405 420h10M480 219h10M465 278h10M469 389h10M420 364h10M496 70h10M486 215h10M454 244h10M459 322h10M490 239h10M566 222h10M408 369h10M508 122h10M458 244h10M455 178h10M458 456h10M441 277h10M458 184h10M432 250h10M491 256h10M430 183h10M421 390h10M518 280h10M461 317h10M434 244h10M490 249h10M423 355h10M511 324h10M498 323h10M463 195h10M493 401h10M440 284h10M431 334h10M543 289h10M474 355h10M406 237h10M456 338h10M407 328h10M497 269h10M433 371h10M498 130h10M497 285h10M500 297h10M437 264h10M456 323h10M499 288h10M458 326h10M504 340h10M422 280h10M468 311h10M372 290h10M464 105h10M453 231h10M460 196h10M452 220h10M484 181h10M456 294h10M477 187h10M442 418h10M492 209h10M466 176h10M499 378h10M453 255h10M453 388h10M407 354h10M454 205h10M409 89h10M452 329h10M476 248h10M484 263h10M545 204h10M447 278h10M504 159h10M430 359h10M433 245h10M576 159h10M480 247h10M455 405h10M392 363h10M447 419h10M435 396h10M497 269h10M472 299h10M462 367h10M485 294h10M475 241h10M433 396h10M455 259h10M456 194h10M496 385h10M516 177h10M496 343h10M509 299h10M381 376h10M453 480h10M514 369h10M431 340h10M497 372h10M473 271h10M536 19h10M429 303h10M483 214h10M515 188h10M508 171h10M508 192h10M497 201h10M417 284h10M474 301h10M457 264h10M448 352h10M457 304h10M455 225h10M455 292h10M476 258h10M397 312h10M476 201h10M444 315h10M488 190h10M530 258h10M526 283h10M384 309h10M487 276h10M515 333h10M476 229h10M500 219h10M460 193h10M481 196h10M547 181h10M444 208h10M505 319h10M500 139h10M422 239h10M525 155h10M474 234h10M483 206h10M523 205h10M489 305h10M417 275h10M399 479h10M436 258h10M442 255h10M515 312h10M475 217h10M459 289h10M508 336h10M544 122h10M474 213h10M544 182h10M492 266h10M480 278h10M507 331h10M427 432h10M527 189h10M465 329h10M400 417h10M517 102h10M439 281h10M145 416h10M242 436h10M237 435h10M288 436h10M205 393h10M289 403h10M125 483h10M177 472h10M238 416h10M276 428h10M360 394h10M194 383h10M328 421h10M234 474h10M89 440h10M252 460h10M197 438h10M98 407h10M176 459h10M137 424h10M113 435h10M299 455h10M240 385h10M149 466h10M235 554h10M287 470h10M258 471h10M246 398h10M264 473h10M175 436h10M196 439h10M246 398h10M219 382h10M296 453h10M249 425h10M247 363h10M212 439h10M197 401h10M326 463h10M240 428h10M370 454h10M156 491h10M308 388h10M325 449h10M318 419h10M308 397h10M157 431h10M186 393h10M183 407h10M175 426h10M195 489h10M169 475h10M275 482h10M228 419h10M150 488h10M233 426h10M134 470h10M270 455h10M145 472h10M271 387h10M272 484h10M229 406h10M333 399h10M261 485h10M257 343h10M194 435h10M180 494h10M216 507h10M248 337h10M140 508h10M108 486h10M266 506h10M286 437h10M260 455h10M265 396h10M252 533h10M236 444h10M260 495h10M166 402h10M273 453h10M229 448h10M124 418h10M250 490h10M236 474h10M259 419h10M150 484h10M177 401h10M202 365h10M162 399h10M305 435h10M243 468h10M264 507h10M235 478h10M175 420h10M241 424h10M235 425h10M262 445h10M192 444h10M218 470h10M278 401h10M306 440h10M202 461h10M281 426h10M218 398h10M273 459h10M246 438h10M240 375h10M231 525h10M169 466h10M41 449h10M176 464h10M122 409h10M174 446h10M260 425h10M208 436h10M304 434h10M281 437h10M218 426h10M233 404h10M191 439h10M222 485h10M218 471h10M338 452h10M197 419h10M372 383h10M249 437h10M319 461h10M226 412h10M166 435h10M165 500h10M162 505h10M207 500h10M248 422h10M253 461h10M310 384h10M239 504h10M327 399h10M287 492h10M319 488h10M229 413h10M210 382h10M303 455h10M265 520h10M268 417h10M158 409h10M247 437h10M249 418h10M292 363h10M172 539h10M285 487h10M255 473h10M203 418h10M330 404h10M310 359h10M212 438h10M175 400h10M243 480h10M179 466h10M166 432h10M229 523h10M276 415h10M261 390h10M193 502h10M251 481h10M239 369h10M223 497h10M216 476h10M254 433h10M143 521h10M197 487h10M161 474h10M130 468h10M187 408h10M229 463h10M342 454h10M281 404h10M218 476h10M304 491h10M281 414h10M292 474h10M162 393h10M194 446h10M226 400h10M159 392h10M256 502h10M427 473h10M210 461h10M254 424h10M227 408h10M296 420h10M259 481h10M144 413h10M250 458h10M186 472h10M303 458h10M196 504h10M196 429h10M298 465h10M134 455h10M371 406h10M251 341h10M178 453h10M269 554h10M278 445h10M412 279h10M281 361h10M286 237h10M346 274h10M258 316h10M194 294h10M296 417h10M225 275h10M348 288h10M217 312h10M188 261h10M247 245h10M217 380h10M99 280h10M233 367h10M282 325h10M343 339h10M169 234h10M273 352h10M239 266h10M298 382h10M268 353h10M374 346h10M291 332h10M259 472h10M236 249h10M252 275h10M230 413h10M369 224h10M257 287h10M65 264h10M271 300h10M211 325h10M63 243h10M396 215h10M228 428h10M219 226h10M373 354h10M381 296h10M264 154h10M226 391h10M323 261h10M230 424h10M284 285h10M325 329h10M236 179h10M348 294h10M130 442h10M339 208h10M313 249h10M233 255h10M243 265h10M465 393h10M117 363h10M237 251h10M222 343h10M166 359h10M262 398h10M271 363h10M270 230h10M319 418h10M157 205h10M314 265h10M412 305h10M346 187h10M275 272h10M313 358h10" stroke="#000" stroke-width="10" stroke-opacity="0.42" fill="none" filter="url(#sf)"/>
<rect x="219.1" y="104.7" width="63.79999999999998" height="57.3" fill="none" stroke="#000" stroke-width="1.5"/>
<path d="M251.8 104.7V162.0M219.1 142.4H282.9" stroke="#000" stroke-width="1.5" fill="none"/>
<text x="223.29999999999998" y="113.7" font-size="7.4" text-anchor="start" font-family="Liberation Serif, Times New Roman, serif" stroke="#000" stroke-width="0.15">2</text>
<text x="280.5" y="113.7" font-size="7.4" text-anchor="end" font-family="Liberation Serif, Times New Roman, serif" stroke="#000" stroke-width="0.15">11</text>
<text x="223.29999999999998" y="158.9" font-size="7.4" text-anchor="start" font-family="Liberation Serif, Times New Roman, serif" stroke="#000" stroke-width="0.15">12</text>
<text x="280.5" y="158.9" font-size="7.4" text-anchor="end" font-family="Liberation Serif, Times New Roman, serif" stroke="#000" stroke-width="0.15">75</text>
<g filter="url(#st)"><rect x="304.1" y="104.7" width="63.80000000000001" height="57.3" fill="#000" fill-opacity="0.001"/>
<ellipse cx="327.1" cy="149.4" rx="12.8" ry="8.6" fill="url(#g1)" opacity="0.85" transform="rotate(0 327.1 149.4)"/>
<ellipse cx="326.4" cy="131.6" rx="12.1" ry="9.7" fill="url(#g1)" opacity="0.35" transform="rotate(0 326.4 131.6)"/>
<ellipse cx="346.8" cy="125.3" rx="7.7" ry="6.9" fill="url(#g1)" opacity="0.3" transform="rotate(-25 346.8 125.3)"/>
<ellipse cx="347.5" cy="149.4" rx="10.8" ry="5.7" fill="url(#g1)" opacity="0.28" transform="rotate(0 347.5 149.4)"/>
<ellipse cx="332.8" cy="139.1" rx="20.4" ry="18.3" fill="url(#g1)" opacity="0.18" transform="rotate(0 332.8 139.1)"/>
</g>
<ellipse cx="325.8" cy="150.0" rx="5.1" ry="4.0" fill="url(#g1)" opacity="0.5" transform="rotate(0 325.8 150.0)"/>
<path transform="translate(304.1 104.7) scale(0.1)" d="M201 407h10M147 499h10M178 487h10M209 461h10M208 455h10M171 402h10M315 468h10M139 424h10M224 425h10M264 486h10M274 390h10M94 448h10M248 460h10M213 411h10M200 424h10M287 447h10M246 433h10M283 494h10M195 419h10M219 451h10M279 439h10M224 530h10M188 457h10M210 445h10M146 388h10M227 435h10M199 447h10M150 415h10M249 453h10M346 460h10M173 374h10M181 471h10M172 486h10M239 441h10M207 446h10M119 409h10M267 425h10M180 409h10M289 470h10M186 513h10M235 479h10M236 455h10M207 419h10M192 431h10M187 463h10M151 446h10M146 543h10M213 442h10M302 436h10M187 457h10M288 478h10M291 444h10M290 421h10M276 475h10M365 417h10M342 478h10M222 449h10M327 418h10M259 529h10M152 414h10M159 464h10M113 526h10M263 505h10M226 443h10M155 460h10M228 461h10M116 418h10M241 444h10M214 452h10M137 463h10M188 503h10M235 489h10M221 459h10M204 428h10M162 444h10M294 462h10M187 437h10M220 392h10M211 419h10M391 428h10M277 425h10M197 444h10M218 387h10M146 477h10M165 487h10M181 445h10M143 434h10M94 495h10M340 464h10M161 464h10M176 398h10M256 460h10M140 481h10M260 411h10M228 406h10M250 488h10M316 456h10M178 432h10M326 431h10M256 461h10M256 420h10M186 418h10M224 432h10M264 437h10M121 419h10M225 465h10M183 408h10M245 440h10M333 433h10M269 426h10M157 456h10M219 478h10M260 367h10M236 427h10M216 435h10M151 489h10M62 441h10M166 388h10M129 416h10M138 430h10M211 425h10M82 448h10M237 422h10M246 452h10M160 487h10M236 471h10M216 485h10M240 429h10M125 424h10M159 401h10M264 493h10M267 483h10M170 481h10M160 396h10M194 421h10M242 460h10M227 469h10M179 404h10M248 496h10M263 425h10M272 439h10M217 439h10M211 498h10M282 478h10M155 515h10M168 477h10M278 445h10M176 391h10M246 482h10M285 434h10M316 480h10M304 465h10M301 449h10M247 413h10M104 443h10M214 408h10M197 425h10M258 426h10M227 544h10M140 434h10M344 411h10M259 413h10M206 450h10M256 469h10M182 431h10M222 465h10M165 433h10M176 469h10M305 340h10M188 457h10M200 364h10M281 483h10M233 411h10M215 424h10M204 464h10M288 466h10M201 419h10M265 390h10M163 457h10M176 445h10M205 459h10M277 440h10M214 474h10M293 465h10M199 495h10M174 427h10M212 480h10M168 417h10M277 536h10M207 414h10M154 487h10M208 505h10M177 427h10M231 423h10M208 475h10M193 395h10M187 475h10M232 478h10M222 450h10M229 448h10M212 362h10M299 509h10M241 474h10M196 446h10M317 407h10M315 489h10M119 454h10M300 439h10M263 390h10M276 464h10M306 406h10M237 467h10M211 452h10M313 448h10M159 449h10M202 424h10M290 443h10M173 398h10M222 487h10M252 467h10M149 475h10M193 487h10M301 442h10M137 480h10M238 440h10M179 416h10M238 442h10M286 364h10M223 503h10M266 397h10M264 420h10M182 417h10M154 436h10M244 428h10M176 447h10M161 433h10M198 478h10M222 551h10M225 490h10M223 442h10M106 469h10M178 435h10M234 477h10M108 449h10M234 411h10M204 439h10M254 409h10M187 478h10M217 397h10M313 460h10M232 423h10M306 405h10M207 480h10M219 430h10M272 463h10M223 411h10M233 425h10M273 431h10M312 533h10M355 451h10M208 412h10M196 441h10M81 418h10M161 404h10M203 530h10M187 542h10M188 416h10M257 457h10M328 449h10M259 434h10M157 455h10M341 475h10M230 436h10M190 527h10M237 440h10M158 418h10M208 473h10M259 340h10M188 489h10M299 514h10M302 470h10M214 461h10M263 452h10M241 452h10M248 462h10M251 433h10M208 473h10M168 436h10M254 515h10M199 381h10M183 497h10M194 495h10M103 390h10M201 456h10M315 389h10M225 479h10M286 450h10M253 430h10M274 486h10M224 497h10M231 419h10M269 492h10M223 462h10M203 469h10M179 410h10M331 469h10M159 435h10M179 474h10M194 402h10M207 364h10M206 383h10M175 475h10M314 477h10M279 356h10M177 475h10M280 434h10M182 478h10M163 426h10M159 367h10M238 488h10M265 417h10M269 406h10M48 428h10M261 382h10M209 450h10M247 507h10M172 415h10M243 489h10M241 429h10M214 507h10M279 472h10M244 490h10M272 461h10M208 440h10M250 381h10M184 404h10M258 510h10M286 455h10M146 522h10M266 493h10M252 475h10M308 431h10M277 363h10M292 476h10M235 486h10M421 469h10M242 420h10M240 426h10M298 440h10M251 469h10M254 454h10M248 433h10M263 461h10M222 429h10M351 445h10M336 492h10M190 462h10M213 447h10M249 518h10M211 501h10M185 457h10M265 457h10M117 439h10M153 459h10M238 422h10M303 483h10M206 556h10M240 494h10M219 391h10M309 473h10M115 454h10M229 477h10M252 460h10M320 423h10M210 437h10M247 439h10M214 416h10M183 458h10M193 447h10M295 468h10M303 379h10M193 436h10M243 452h10M196 472h10M253 405h10M260 405h10M344 440h10M231 484h10M177 385h10M203 504h10M279 406h10M192 497h10M351 405h10M217 447h10M118 469h10M282 459h10M187 444h10M265 430h10M210 440h10M295 501h10M276 448h10M255 463h10M182 497h10M191 455h10M171 428h10M287 428h10M144 363h10M170 423h10M228 401h10M221 415h10M249 447h10M185 416h10M217 452h10M189 471h10M194 403h10M263 394h10M319 434h10M220 514h10M164 492h10M240 458h10M305 512h10M262 466h10M219 407h10M154 485h10M232 414h10M214 465h10M214 461h10M273 496h10M162 435h10M241 450h10M268 381h10M165 488h10M341 447h10M159 385h10M271 517h10M289 430h10M260 383h10M179 436h10M183 387h10M301 471h10M142 540h10M338 453h10M239 381h10M308 436h10M295 462h10M223 432h10M134 454h10M228 422h10M78 397h10M244 470h10M352 402h10M183 455h10M208 398h10M274 476h10M194 421h10M327 434h10M136 455h10M96 445h10M211 435h10M206 501h10M177 421h10M228 446h10M228 455h10M209 403h10M201 488h10M247 477h10M167 505h10M293 422h10M168 238h10M349 342h10M70 330h10M330 222h10M275 244h10M260 302h10M194 148h10M302 277h10M104 323h10M307 181h10M259 222h10M230 327h10M256 277h10M207 299h10M280 328h10M333 227h10M252 160h10M317 181h10M262 165h10M248 149h10M251 284h10M178 328h10M281 191h10M166 338h10M128 333h10M262 183h10M150 281h10M240 246h10M305 308h10M157 198h10M168 213h10M177 289h10M70 331h10M274 221h10M284 284h10M194 341h10M216 248h10M266 213h10M320 335h10M161 307h10M327 261h10M324 345h10M252 329h10M323 252h10M207 370h10M183 343h10M220 297h10M237 227h10M272 294h10M187 284h10M199 273h10M161 209h10M344 322h10M220 280h10M242 263h10M339 279h10M194 175h10M127 352h10M265 313h10M273 226h10M196 248h10M83 160h10M192 202h10M204 283h10M364 333h10M171 201h10M259 245h10M244 264h10M268 146h10M241 162h10M293 233h10M180 295h10M283 259h10M293 191h10M259 289h10M212 306h10M286 355h10M206 204h10M187 283h10M255 268h10M158 251h10M309 303h10M171 283h10M194 265h10M185 229h10M188 240h10M166 308h10M216 295h10M233 251h10M133 187h10M209 187h10M273 230h10M160 242h10M250 242h10M362 320h10M226 218h10M130 283h10M300 249h10M176 251h10M179 251h10M264 242h10M261 308h10M156 201h10M233 99h10M295 235h10M236 296h10M101 320h10M267 120h10M153 379h10M275 321h10M225 319h10M111 208h10M351 313h10M212 293h10M181 181h10M290 240h10M243 289h10M258 325h10M194 231h10M283 323h10M151 170h10M180 266h10M247 196h10M249 349h10M73 274h10M240 234h10M268 304h10M143 264h10M276 249h10M261 292h10M316 295h10M279 335h10M242 356h10M144 276h10M251 275h10M187 281h10M165 234h10M167 304h10M237 201h10M118 246h10M235 368h10M300 170h10M311 294h10M383 330h10M326 231h10M168 286h10M273 320h10M91 231h10M130 315h10M269 313h10M233 141h10M240 282h10M195 281h10M220 291h10M172 177h10M293 417h10M135 205h10M254 236h10M305 254h10M284 208h10M189 270h10M195 146h10M291 368h10M179 172h10M353 260h10M307 266h10M323 217h10M374 206h10M291 310h10M146 299h10M199 288h10M279 146h10M292 189h10M289 331h10M175 158h10M265 317h10M184 241h10M249 331h10M168 235h10M201 188h10M189 266h10M251 350h10M285 221h10M216 238h10M277 241h10M349 228h10M168 203h10M263 332h10M311 175h10M270 138h10M230 144h10M248 289h10M346 236h10M287 249h10M233 174h10M105 368h10M162 242h10M231 233h10M259 312h10M274 331h10M472 274h10M296 298h10M212 315h10M196 189h10M273 345h10M148 307h10M281 221h10M174 99h10M203 306h10M316 394h10M263 235h10M313 324h10M67 276h10M196 379h10M261 313h10M193 253h10M93 243h10M375 290h10M187 206h10M293 276h10M218 228h10M295 157h10M439 176h10M474 210h10M375 224h10M393 221h10M442 165h10M457 195h10M406 177h10M504 150h10M372 220h10M437 252h10M473 213h10M437 186h10M450 155h10M495 238h10M461 183h10M422 194h10M440 179h10M430 144h10M482 211h10M412 190h10M381 249h10M413 190h10M382 226h10M414 117h10M474 166h10M424 166h10M420 201h10M465 158h10M405 179h10M473 262h10M467 218h10M409 195h10M426 232h10M415 273h10M367 241h10M476 206h10M509 162h10M414 234h10M470 125h10M521 160h10M450 168h10M433 242h10M450 163h10M450 217h10M447 259h10M423 161h10M479 174h10M443 227h10M420 135h10M447 159h10M383 228h10M414 227h10M432 197h10M493 173h10M380 258h10M457 156h10M476 172h10M463 183h10M372 228h10M564 130h10M432 204h10M299 276h10M401 185h10M451 251h10M457 194h10M427 169h10M370 231h10M474 188h10M416 243h10M439 131h10M448 261h10M474 172h10M439 207h10M357 251h10M422 223h10M462 208h10M400 233h10M372 223h10M416 183h10M412 222h10M420 260h10M413 244h10M447 262h10M507 167h10M394 180h10M421 170h10M431 224h10M394 189h10M452 181h10M430 160h10M485 145h10M387 225h10M388 182h10M491 217h10M535 211h10M406 152h10M433 203h10M429 246h10M454 205h10M428 245h10M384 282h10M430 216h10M367 203h10M393 232h10M476 211h10M359 216h10M426 180h10M518 159h10M384 172h10M437 263h10M439 180h10M460 243h10M476 190h10M387 245h10M413 190h10M445 181h10M479 176h10M358 305h10M452 178h10M404 158h10M287 226h10M439 185h10M488 199h10M431 155h10M453 446h10M300 426h10M413 528h10M437 541h10M382 419h10M473 500h10M311 455h10M353 463h10M374 461h10M434 414h10M534 476h10M389 406h10M397 413h10M402 494h10M341 465h10M503 428h10M484 484h10M599 429h10M457 430h10M359 477h10M529 413h10M393 381h10M441 479h10M396 457h10M405 415h10M402 494h10M530 445h10M396 386h10M492 483h10M380 458h10M454 460h10M559 438h10M508 497h10M503 455h10M478 451h10M539 511h10M384 467h10M433 428h10M376 546h10M478 434h10M491 440h10M511 448h10M338 475h10M480 386h10M482 465h10M456 445h10M560 464h10M305 451h10M462 453h10M492 441h10M403 400h10M464 488h10M433 424h10M403 451h10M342 447h10M298 418h10M497 472h10M429 464h10M460 393h10M397 509h10M422 457h10M397 434h10M438 434h10M411 522h10M530 352h10M416 517h10M445 415h10M446 469h10M407 391h10M479 433h10M522 477h10M445 397h10M452 444h10M589 422h10M419 418h10M423 432h10M516 508h10M420 449h10M464 353h10M476 409h10M367 458h10M322 435h10M425 453h10M527 419h10M448 467h10M440 444h10M365 343h10M379 464h10M363 452h10M569 476h10M435 463h10M400 487h10M431 446h10M277 420h10M371 436h10M319 484h10M516 456h10M514 445h10M392 392h10M471 446h10M477 439h10M367 412h10M436 463h10M447 434h10M521 448h10M393 423h10M399 453h10M423 453h10M395 466h10M479 477h10M473 418h10M433 417h10M481 454h10M430 439h10M356 451h10M613 456h10M370 465h10M409 443h10M418 431h10M496 403h10M403 475h10M510 457h10M535 517h10M283 392h10M417 394h10M487 450h10M382 452h10M473 489h10M334 494h10M390 417h10M475 450h10M352 437h10M374 466h10M573 412h10M536 440h10M361 516h10M443 456h10M388 490h10M404 447h10M466 496h10M479 458h10M281 278h10M380 459h10M345 410h10M281 356h10M175 453h10M486 247h10M177 378h10M370 258h10M309 354h10M235 325h10M295 315h10M390 403h10M117 411h10M178 198h10M383 322h10M292 379h10M177 497h10M193 548h10M324 381h10M286 333h10M199 325h10M228 369h10M203 396h10M208 308h10M373 333h10M377 355h10M156 245h10M189 174h10M284 424h10M384 227h10M250 300h10M114 165h10M266 359h10M247 211h10M411 354h10M284 268h10M197 513h10M479 405h10M211 180h10M264 274h10M280 397h10M197 336h10M263 325h10M105 250h10M247 278h10M339 425h10M261 524h10M361 413h10M251 316h10M318 237h10M293 238h10M241 447h10M278 323h10M347 220h10M321 334h10M256 348h10M305 365h10M97 273h10M351 234h10M402 319h10M348 418h10M213 359h10M157 345h10M293 424h10M296 418h10M354 519h10M364 305h10M343 237h10M265 392h10M339 338h10M197 352h10M102 426h10M347 236h10M297 346h10M250 419h10M286 186h10M82 472h10M288 250h10M161 492h10M354 192h10M223 304h10M334 287h10M325 324h10M161 356h10M295 294h10M154 300h10M117 244h10M269 260h10M281 253h10M410 400h10M294 322h10M170 313h10M299 171h10M361 338h10M205 368h10M377 317h10M323 384h10M257 298h10M351 438h10M276 282h10M385 297h10M251 357h10M358 329h10M148 295h10M348 400h10M360 312h10M262 406h10M226 451h10M164 470h10M180 350h10M254 241h10M380 377h10M330 470h10M399 401h10M330 407h10M317 301h10M353 220h10M180 347h10M277 394h10M228 349h10M254 493h10M224 396h10M283 453h10M280 290h10M205 234h10M87 396h10M113 240h10M263 234h10M269 307h10M89 398h10M279 327h10M96 337h10M264 416h10M343 471h10M178 445h10M398 288h10M266 307h10M272 354h10M337 332h10M145 388h10M247 369h10M355 219h10M146 336h10M267 376h10M184 407h10M324 218h10M497 325h10M333 419h10M265 255h10M280 265h10M245 366h10M229 397h10M337 392h10M411 471h10M315 342h10M351 424h10M147 408h10M297 388h10M482 540h10M169 407h10" stroke="#000" stroke-width="10" stroke-opacity="0.42" fill="none" filter="url(#sf)"/>
<rect x="304.1" y="104.7" width="63.80000000000001" height="57.3" fill="none" stroke="#000" stroke-width="1.5"/>
<path d="M336.8 104.7V162.0M304.1 142.4H367.90000000000003" stroke="#000" stroke-width="1.5" fill="none"/>
<text x="308.3" y="113.7" font-size="7.4" text-anchor="start" font-family="Liberation Serif, Times New Roman, serif" stroke="#000" stroke-width="0.15">18</text>
<text x="365.50000000000006" y="113.7" font-size="7.4" text-anchor="end" font-family="Liberation Serif, Times New Roman, serif" stroke="#000" stroke-width="0.15">13</text>
<text x="308.3" y="158.9" font-size="7.4" text-anchor="start" font-family="Liberation Serif, Times New Roman, serif" stroke="#000" stroke-width="0.15">54</text>
<text x="365.50000000000006" y="158.9" font-size="7.4" text-anchor="end" font-family="Liberation Serif, Times New Roman, serif" stroke="#000" stroke-width="0.15">15</text>
<g filter="url(#st)"><rect x="388.7" y="104.7" width="63.80000000000001" height="57.3" fill="#000" fill-opacity="0.001"/>
<ellipse cx="407.8" cy="148.2" rx="12.1" ry="9.2" fill="url(#g1)" opacity="0.85" transform="rotate(0 407.8 148.2)"/>
<ellipse cx="407.2" cy="129.9" rx="9.6" ry="12.0" fill="url(#g1)" opacity="0.5" transform="rotate(0 407.2 129.9)"/>
<ellipse cx="409.1" cy="139.1" rx="15.3" ry="21.8" fill="url(#g1)" opacity="0.3" transform="rotate(0 409.1 139.1)"/>
</g>
<ellipse cx="407.8" cy="148.8" rx="5.1" ry="4.6" fill="url(#g1)" opacity="0.5" transform="rotate(0 407.8 148.8)"/>
<path transform="translate(388.7 104.7) scale(0.1)" d="M250 396h10M208 488h10M207 477h10M119 451h10M150 503h10M99 412h10M137 376h10M289 476h10M190 413h10M170 402h10M228 458h10M253 450h10M204 370h10M254 460h10M239 518h10M165 330h10M186 486h10M218 460h10M166 457h10M184 523h10M207 350h10M112 414h10M199 499h10M253 406h10M201 453h10M83 549h10M150 480h10M229 348h10M282 498h10M196 527h10M225 473h10M267 357h10M258 449h10M212 370h10M264 458h10M154 438h10M274 473h10M160 422h10M337 374h10M200 474h10M269 393h10M266 453h10M195 524h10M296 473h10M229 393h10M146 408h10M279 367h10M203 363h10M147 360h10M139 495h10M219 470h10M187 418h10M204 474h10M119 469h10M194 497h10M205 435h10M187 391h10M221 390h10M222 467h10M197 487h10M185 429h10M100 419h10M203 525h10M106 465h10M166 457h10M306 410h10M275 368h10M166 449h10M125 401h10M141 550h10M214 441h10M223 367h10M217 439h10M202 434h10M186 432h10M161 423h10M104 421h10M131 415h10M94 457h10M224 400h10M95 478h10M222 455h10M230 445h10M169 488h10M103 517h10M191 433h10M113 434h10M154 437h10M278 487h10M188 424h10M150 493h10M119 431h10M49 361h10M216 419h10M191 432h10M277 379h10M351 415h10M225 457h10M320 413h10M190 404h10M231 462h10M103 337h10M157 460h10M130 367h10M171 403h10M235 438h10M181 400h10M146 448h10M229 480h10M211 476h10M83 445h10M172 403h10M281 444h10M147 489h10M178 392h10M220 453h10M135 488h10M292 479h10M153 494h10M264 443h10M259 405h10M181 439h10M179 401h10M81 481h10M96 436h10M252 414h10M240 527h10M236 491h10M248 484h10M186 474h10M182 359h10M297 460h10M209 425h10M211 315h10M130 469h10M151 409h10M176 379h10M116 467h10M282 443h10M191 408h10M187 521h10M187 470h10M155 490h10M201 449h10M195 394h10M126 466h10M238 450h10M143 452h10M267 465h10M116 435h10M183 457h10M221 392h10M162 382h10M151 461h10M158 433h10M152 429h10M104 454h10M174 459h10M194 396h10M255 487h10M213 450h10M211 416h10M164 471h10M173 431h10M131 545h10M237 418h10M315 412h10M233 370h10M214 488h10M92 426h10M74 430h10M121 431h10M166 466h10M96 461h10M145 467h10M144 482h10M240 489h10M160 474h10M107 443h10M230 452h10M255 392h10M226 414h10M98 435h10M111 431h10M98 386h10M198 452h10M111 439h10M110 447h10M193 441h10M138 451h10M186 382h10M186 414h10M247 391h10M201 471h10M178 404h10M132 366h10M226 529h10M208 424h10M197 369h10M139 463h10M194 464h10M129 490h10M163 442h10M153 477h10M195 423h10M132 396h10M172 523h10M129 481h10M104 534h10M136 469h10M144 415h10M180 393h10M123 399h10M206 387h10M243 425h10M67 504h10M206 432h10M65 386h10M89 380h10M187 450h10M267 428h10M176 423h10M228 489h10M117 376h10M101 433h10M277 446h10M228 405h10M207 411h10M206 419h10M197 489h10M128 448h10M177 378h10M242 486h10M213 433h10M200 464h10M279 417h10M239 445h10M141 451h10M172 459h10M170 408h10M152 427h10M230 446h10M202 407h10M136 468h10M188 425h10M126 511h10M187 424h10M250 418h10M214 475h10M195 455h10M196 415h10M224 476h10M242 410h10M251 392h10M138 373h10M189 435h10M129 418h10M170 482h10M214 411h10M115 380h10M299 436h10M243 458h10M228 429h10M139 385h10M243 361h10M124 465h10M164 458h10M187 465h10M201 375h10M262 407h10M222 440h10M207 340h10M168 515h10M251 403h10M275 484h10M220 427h10M214 427h10M270 440h10M224 408h10M300 490h10M160 533h10M169 369h10M125 449h10M209 418h10M201 398h10M184 428h10M185 387h10M142 421h10M116 414h10M259 494h10M168 440h10M266 471h10M196 422h10M321 466h10M116 362h10M228 422h10M275 365h10M114 442h10M128 488h10M227 493h10M34 361h10M238 378h10M252 389h10M322 423h10M187 477h10M219 429h10M378 416h10M115 485h10M206 411h10M162 448h10M258 473h10M91 432h10M173 466h10M127 429h10M219 435h10M210 513h10M251 371h10M271 480h10M131 432h10M169 473h10M148 429h10M246 410h10M167 483h10M173 355h10M249 441h10M219 470h10M306 487h10M152 485h10M208 387h10M161 519h10M154 476h10M183 461h10M131 425h10M90 515h10M211 382h10M178 464h10M177 381h10M109 458h10M232 326h10M149 407h10M186 464h10M255 413h10M133 400h10M270 428h10M240 453h10M316 367h10M167 413h10M268 424h10M229 333h10M174 477h10M248 416h10M135 414h10M180 507h10M160 456h10M261 423h10M127 413h10M200 445h10M170 476h10M115 415h10M182 434h10M135 439h10M181 415h10M195 460h10M230 422h10M216 544h10M240 501h10M166 481h10M238 398h10M191 426h10M172 400h10M226 438h10M242 366h10M233 410h10M250 443h10M191 389h10M180 349h10M176 430h10M165 437h10M187 467h10M203 497h10M160 453h10M237 439h10M208 499h10M218 436h10M232 388h10M190 405h10M234 418h10M226 428h10M218 478h10M96 486h10M127 444h10M238 463h10M328 409h10M204 426h10M114 451h10M73 465h10M137 480h10M127 452h10M235 523h10M192 354h10M271 514h10M132 473h10M176 383h10M246 466h10M288 425h10M134 414h10M74 434h10M167 459h10M254 465h10M233 486h10M327 467h10M129 423h10M209 402h10M81 372h10M217 446h10M159 488h10M80 444h10M217 490h10M255 429h10M100 383h10M224 433h10M189 497h10M148 463h10M131 480h10M344 548h10M272 455h10M195 439h10M219 533h10M119 421h10M114 428h10M160 439h10M133 426h10M159 382h10M197 502h10M103 327h10M208 421h10M184 441h10M142 401h10M195 369h10M138 411h10M213 498h10M176 404h10M216 380h10M135 418h10M187 428h10M85 442h10M210 403h10M269 410h10M190 432h10M208 393h10M196 401h10M132 486h10M112 418h10M96 404h10M137 497h10M148 377h10M56 424h10M165 439h10M154 406h10M144 341h10M296 420h10M203 461h10M272 430h10M33 489h10M169 394h10M228 364h10M176 427h10M223 407h10M120 389h10M195 383h10M245 246h10M150 224h10M261 159h10M233 419h10M134 367h10M149 233h10M101 327h10M112 276h10M192 210h10M185 224h10M240 256h10M212 219h10M264 217h10M177 229h10M204 233h10M205 303h10M138 244h10M264 243h10M253 245h10M236 207h10M184 346h10M191 164h10M90 231h10M153 221h10M176 321h10M162 312h10M70 253h10M218 178h10M309 162h10M206 144h10M142 209h10M129 143h10M221 166h10M137 239h10M121 221h10M200 207h10M147 161h10M171 185h10M230 364h10M139 293h10M196 228h10M208 202h10M80 296h10M169 280h10M113 255h10M218 265h10M199 151h10M161 189h10M141 164h10M138 264h10M172 236h10M164 203h10M187 322h10M301 406h10M173 182h10M190 261h10M114 240h10M126 271h10M180 229h10M234 145h10M174 456h10M199 238h10M159 267h10M150 206h10M245 283h10M175 204h10M255 285h10M209 131h10M92 222h10M124 330h10M249 349h10M208 217h10M201 288h10M257 240h10M173 285h10M231 167h10M176 292h10M238 326h10M172 352h10M130 220h10M244 122h10M74 201h10M189 228h10M200 209h10M166 321h10M235 221h10M162 293h10M212 244h10M184 372h10M227 256h10M189 308h10M170 369h10M132 244h10M176 164h10M270 279h10M164 168h10M233 303h10M199 253h10M156 270h10M205 338h10M228 212h10M132 282h10M199 196h10M219 308h10M195 210h10M103 348h10M117 364h10M179 258h10M321 79h10M283 253h10M150 160h10M153 234h10M241 278h10M131 196h10M230 225h10M206 270h10M203 179h10M162 194h10M103 288h10M140 234h10M139 245h10M159 120h10M158 267h10M271 276h10M177 148h10M239 278h10M211 295h10M122 199h10M104 193h10M209 263h10M217 266h10M131 254h10M232 228h10M177 269h10M217 253h10M114 262h10M151 305h10M233 318h10M202 172h10M222 319h10M184 306h10M289 182h10M139 293h10M254 165h10M151 229h10M203 249h10M99 110h10M168 162h10M285 282h10M121 224h10M190 186h10M297 221h10M129 268h10M103 296h10M200 299h10M107 274h10M204 261h10M152 267h10M213 267h10M130 146h10M209 225h10M221 219h10M213 234h10M187 131h10M130 344h10M196 239h10M128 216h10M197 372h10M242 247h10M134 242h10M254 157h10M128 268h10M119 242h10M259 261h10M208 225h10M126 266h10M236 273h10M155 291h10M178 293h10M252 271h10M120 218h10M229 183h10M143 157h10M100 186h10M178 288h10M152 259h10M248 242h10M105 162h10M157 280h10M139 248h10M255 267h10M214 169h10M250 292h10M107 184h10M108 283h10M183 231h10M253 186h10M215 310h10M186 312h10M206 247h10M159 264h10M283 215h10M100 295h10M226 280h10M188 325h10M113 173h10M177 262h10M180 286h10M175 290h10M168 259h10M153 219h10M199 155h10M206 252h10M202 114h10M132 179h10M179 182h10M221 123h10M183 223h10M183 247h10M161 263h10M103 225h10M209 108h10M186 240h10M146 226h10M181 281h10M211 154h10M150 349h10M204 271h10M235 220h10M251 194h10M204 123h10M177 296h10M114 254h10M211 306h10M229 296h10M188 132h10M252 174h10M202 309h10M83 299h10M307 103h10M166 117h10M204 119h10M128 298h10M102 303h10M171 123h10M179 319h10M194 215h10M218 319h10M267 189h10M242 188h10M150 243h10M177 304h10M244 224h10M199 213h10M168 362h10M212 340h10M206 206h10M161 211h10M101 275h10M225 172h10M296 204h10M117 114h10M207 341h10M189 247h10M174 186h10M122 271h10M100 223h10M154 54h10M119 158h10M190 227h10M265 272h10M239 133h10M186 252h10M230 301h10M101 342h10M218 208h10M149 234h10M255 262h10M122 293h10M215 230h10M208 298h10M123 212h10M129 277h10M176 104h10M153 167h10M170 295h10M113 220h10M108 305h10M236 247h10M205 293h10M192 285h10M184 182h10M277 155h10M144 302h10M233 325h10M301 346h10M268 361h10M155 379h10M247 214h10M213 327h10M269 348h10M177 357h10M201 359h10M180 306h10M270 375h10M162 412h10M128 307h10M197 421h10M185 423h10M217 340h10M159 263h10M210 337h10M140 362h10M245 246h10M212 261h10M227 288h10M266 369h10M135 491h10M175 462h10M214 357h10M298 302h10M111 269h10M199 391h10M323 299h10M172 297h10M223 230h10M233 424h10M149 539h10M184 386h10M176 311h10M163 344h10M188 355h10M155 393h10M228 357h10M283 243h10M202 309h10M129 336h10M108 492h10M172 294h10M205 455h10M243 345h10M217 412h10M225 418h10M161 292h10M130 346h10M211 335h10M232 395h10M353 359h10M238 179h10M164 130h10M421 364h10M172 281h10M302 306h10M327 327h10M195 392h10M257 342h10M189 188h10M235 298h10M284 408h10M189 362h10M227 374h10M158 357h10M204 455h10M150 186h10M163 494h10M228 462h10M184 242h10M200 416h10M245 393h10M138 276h10M208 281h10M264 402h10M248 168h10M165 377h10M200 436h10M205 466h10M320 357h10M184 252h10M268 489h10M230 227h10M225 403h10M305 247h10M128 206h10M157 194h10M221 427h10M234 348h10M264 443h10M211 221h10M246 315h10M134 409h10M324 243h10M302 111h10M305 413h10M50 152h10M162 314h10M201 429h10M95 318h10M224 385h10M236 338h10M174 306h10M123 366h10M127 404h10M152 441h10M266 135h10M152 291h10M140 269h10M268 324h10M158 378h10M235 543h10M142 322h10M157 495h10M179 413h10M135 275h10M300 395h10M282 443h10M274 335h10M269 420h10M111 228h10M97 402h10M232 306h10M278 399h10M206 431h10M296 366h10M109 230h10M311 326h10M286 479h10M227 384h10M233 195h10M206 335h10M327 418h10M289 443h10M283 396h10M226 337h10M390 372h10M181 160h10M181 302h10M247 376h10M140 256h10M258 404h10M267 527h10M113 342h10M188 374h10M225 293h10M141 310h10M266 294h10M353 390h10M377 358h10M214 319h10M211 317h10M314 291h10M202 366h10M234 265h10M166 361h10M236 306h10M111 293h10M236 294h10M121 274h10M143 336h10M275 329h10M98 381h10M143 349h10M250 387h10M248 443h10M248 350h10M144 215h10M281 526h10M155 202h10M304 199h10M193 455h10M173 441h10M162 405h10M183 221h10M136 204h10M180 178h10M223 342h10M163 321h10M272 400h10M231 257h10M153 275h10M146 432h10M233 350h10M244 354h10M205 354h10M139 291h10M206 312h10M176 285h10M156 263h10M258 261h10M123 328h10M221 291h10M157 344h10M174 321h10M95 492h10M94 375h10M170 412h10M217 382h10M275 170h10M130 351h10M209 280h10M274 434h10M66 365h10M274 237h10M205 261h10M273 358h10M191 317h10M392 423h10M373 416h10M330 508h10M375 469h10M333 380h10M401 423h10M377 419h10M267 427h10M364 302h10M355 438h10M432 459h10M406 445h10M342 275h10M426 389h10M449 394h10M407 478h10M363 405h10M418 531h10M403 302h10M443 345h10M424 544h10M359 421h10M420 329h10M395 397h10" stroke="#000" stroke-width="10" stroke-opacity="0.42" fill="none" filter="url(#sf)"/>
<rect x="388.7" y="104.7" width="63.80000000000001" height="57.3" fill="none" stroke="#000" stroke-width="1.5"/>
<path d="M421.4 104.7V162.0M388.7 142.4H452.5" stroke="#000" stroke-width="1.5" fill="none"/>
<text x="392.9" y="113.7" font-size="7.4" text-anchor="start" font-family="Liberation Serif, Times New Roman, serif" stroke="#000" stroke-width="0.15">38</text>
<text x="450.1" y="113.7" font-size="7.4" text-anchor="end" font-family="Liberation Serif, Times New Roman, serif" stroke="#000" stroke-width="0.15">1</text>
<text x="392.9" y="158.9" font-size="7.4" text-anchor="start" font-family="Liberation Serif, Times New Roman, serif" stroke="#000" stroke-width="0.15">60</text>
<text x="450.1" y="158.9" font-size="7.4" text-anchor="end" font-family="Liberation Serif, Times New Roman, serif" stroke="#000" stroke-width="0.15">1</text>
<g filter="url(#st)"><rect x="50.4" y="478.9" width="62.79999999999999" height="55.60000000000002" fill="#000" fill-opacity="0.001"/>
<ellipse cx="96.2" cy="519.5" rx="13.8" ry="18.3" fill="url(#g1)" opacity="0.95" transform="rotate(-8 96.2 519.5)"/>
<ellipse cx="66.1" cy="513.9" rx="6.3" ry="7.8" fill="url(#g1)" opacity="0.5" transform="rotate(0 66.1 513.9)"/>
<ellipse cx="71.1" cy="522.3" rx="17.6" ry="7.8" fill="url(#g1)" opacity="0.45" transform="rotate(0 71.1 522.3)"/>
<ellipse cx="94.4" cy="505.6" rx="10.0" ry="11.1" fill="url(#g1)" opacity="0.3" transform="rotate(0 94.4 505.6)"/>
</g>
<ellipse cx="96.2" cy="521.2" rx="10.4" ry="13.9" fill="url(#g1)" opacity="1.0" transform="rotate(-8 96.2 521.2)"/>
<path transform="translate(50.4 478.9) scale(0.1)" d="M465 414h10M443 396h10M464 361h10M443 394h10M530 369h10M503 442h10M445 365h10M458 340h10M411 315h10M409 368h10M345 262h10M527 446h10M331 377h10M510 380h10M456 299h10M468 376h10M396 402h10M441 368h10M453 211h10M426 401h10M452 459h10M441 363h10M371 471h10M389 425h10M375 412h10M483 467h10M485 502h10M427 330h10M379 338h10M528 453h10M402 282h10M521 278h10M426 439h10M437 325h10M407 377h10M515 294h10M530 389h10M403 431h10M458 356h10M420 469h10M432 371h10M391 409h10M596 462h10M456 444h10M393 503h10M380 319h10M377 333h10M581 446h10M522 497h10M413 339h10M553 351h10M470 467h10M446 411h10M436 410h10M453 400h10M466 523h10M443 442h10M446 375h10M494 278h10M452 320h10M426 532h10M388 364h10M533 488h10M487 406h10M411 331h10M520 379h10M379 319h10M474 410h10M440 364h10M437 391h10M438 361h10M460 399h10M534 495h10M480 425h10M528 441h10M492 486h10M353 339h10M417 417h10M538 416h10M471 453h10M437 319h10M429 298h10M524 415h10M449 360h10M408 454h10M459 400h10M436 536h10M404 454h10M513 363h10M459 386h10M410 452h10M505 445h10M529 362h10M582 544h10M416 474h10M456 331h10M535 424h10M534 471h10M489 395h10M473 423h10M505 420h10M526 529h10M432 425h10M452 494h10M468 248h10M475 427h10M410 493h10M373 279h10M520 507h10M431 347h10M391 379h10M427 324h10M478 408h10M409 436h10M427 362h10M431 447h10M423 495h10M340 420h10M525 254h10M481 432h10M424 527h10M469 338h10M397 319h10M401 212h10M534 501h10M398 377h10M335 535h10M391 394h10M414 447h10M382 461h10M468 315h10M455 255h10M351 455h10M440 358h10M509 410h10M426 461h10M397 278h10M541 428h10M467 485h10M504 336h10M444 476h10M466 373h10M419 225h10M383 402h10M371 327h10M426 437h10M518 496h10M510 364h10M581 515h10M475 498h10M510 467h10M463 526h10M370 347h10M421 473h10M423 409h10M488 418h10M498 406h10M401 311h10M399 316h10M244 258h10M461 340h10M375 291h10M559 469h10M441 452h10M436 458h10M364 282h10M431 478h10M340 339h10M574 485h10M466 484h10M475 380h10M426 362h10M471 434h10M344 425h10M454 499h10M417 452h10M471 451h10M455 385h10M457 464h10M450 520h10M452 407h10M374 303h10M459 510h10M453 468h10M437 398h10M503 439h10M435 508h10M497 314h10M406 459h10M530 417h10M434 395h10M448 383h10M426 258h10M513 362h10M410 325h10M451 462h10M403 401h10M393 328h10M464 389h10M462 513h10M407 412h10M458 304h10M442 498h10M553 434h10M411 368h10M527 379h10M449 396h10M436 358h10M425 310h10M435 370h10M462 333h10M423 471h10M443 349h10M488 435h10M494 468h10M416 478h10M473 351h10M435 362h10M494 426h10M473 447h10M443 329h10M408 361h10M446 300h10M447 454h10M486 424h10M439 471h10M490 407h10M397 363h10M415 438h10M467 397h10M451 439h10M430 489h10M392 433h10M462 388h10M475 391h10M476 444h10M427 312h10M463 309h10M420 380h10M439 466h10M508 376h10M437 439h10M346 412h10M530 510h10M531 281h10M345 473h10M461 461h10M411 434h10M455 305h10M443 378h10M441 407h10M473 364h10M425 350h10M407 453h10M451 398h10M453 426h10M454 450h10M538 435h10M464 345h10M487 313h10M492 288h10M415 510h10M475 439h10M461 332h10M373 318h10M433 396h10M523 378h10M496 429h10M429 379h10M415 396h10M472 306h10M475 479h10M532 454h10M473 362h10M333 302h10M462 394h10M451 460h10M470 466h10M453 394h10M475 416h10M475 456h10M445 441h10M484 431h10M454 463h10M437 360h10M436 418h10M494 380h10M441 331h10M438 297h10M443 404h10M454 374h10M435 367h10M431 332h10M501 390h10M419 425h10M503 426h10M445 351h10M307 356h10M535 400h10M472 406h10M437 265h10M571 399h10M454 351h10M435 288h10M423 374h10M436 433h10M475 404h10M375 374h10M425 398h10M459 239h10M493 324h10M581 493h10M461 495h10M476 362h10M471 495h10M465 425h10M358 342h10M458 357h10M355 302h10M499 479h10M508 461h10M449 439h10M457 310h10M421 389h10M527 332h10M559 365h10M488 396h10M486 414h10M412 465h10M413 390h10M488 495h10M479 370h10M404 379h10M460 358h10M447 440h10M405 238h10M416 402h10M446 533h10M444 447h10M499 395h10M401 352h10M455 451h10M448 385h10M456 353h10M425 471h10M454 311h10M415 291h10M385 311h10M449 402h10M505 312h10M512 306h10M422 520h10M493 473h10M394 392h10M481 381h10M469 377h10M541 488h10M344 353h10M513 351h10M464 423h10M353 343h10M510 474h10M448 375h10M419 312h10M517 425h10M309 397h10M445 433h10M415 376h10M539 296h10M439 365h10M421 325h10M349 486h10M306 322h10M459 462h10M402 350h10M482 521h10M399 327h10M379 327h10M473 304h10M429 330h10M466 354h10M544 350h10M550 376h10M491 312h10M447 349h10M464 412h10M463 462h10M470 342h10M452 333h10M413 294h10M468 430h10M470 407h10M474 535h10M532 454h10M495 407h10M432 437h10M382 292h10M488 437h10M347 421h10M506 456h10M442 262h10M541 400h10M416 455h10M392 517h10M476 464h10M497 303h10M483 370h10M435 360h10M450 312h10M430 370h10M474 448h10M433 318h10M447 431h10M505 383h10M536 416h10M497 450h10M453 391h10M477 372h10M376 413h10M376 446h10M415 321h10M507 355h10M520 383h10M451 436h10M519 487h10M472 393h10M465 343h10M513 440h10M417 441h10M464 414h10M432 447h10M481 481h10M447 403h10M461 458h10M444 410h10M501 427h10M387 272h10M456 317h10M380 275h10M481 474h10M526 427h10M477 303h10M387 321h10M408 408h10M366 412h10M440 352h10M402 308h10M463 413h10M333 431h10M365 446h10M427 297h10M392 423h10M489 368h10M407 264h10M453 471h10M443 337h10M468 322h10M430 447h10M406 445h10M496 416h10M444 350h10M448 478h10M416 451h10M320 369h10M474 465h10M408 379h10M420 425h10M504 454h10M528 356h10M549 456h10M445 474h10M448 491h10M488 404h10M449 381h10M450 349h10M435 295h10M442 460h10M465 304h10M389 281h10M532 355h10M425 379h10M355 366h10M441 376h10M473 402h10M434 292h10M444 502h10M496 323h10M493 392h10M492 446h10M536 413h10M459 359h10M389 343h10M441 390h10M509 474h10M421 485h10M511 478h10M392 303h10M439 489h10M478 439h10M425 490h10M355 363h10M481 450h10M420 442h10M552 418h10M447 314h10M430 400h10M469 315h10M511 436h10M407 396h10M418 376h10M428 457h10M417 298h10M526 496h10M370 336h10M479 439h10M481 486h10M459 343h10M354 353h10M491 461h10M408 427h10M478 440h10M464 533h10M409 352h10M432 384h10M373 305h10M470 499h10M537 480h10M473 415h10M457 379h10M536 506h10M459 514h10M500 344h10M461 499h10M457 359h10M457 385h10M485 471h10M505 375h10M435 410h10M528 289h10M492 418h10M520 475h10M452 308h10M427 488h10M508 366h10M402 405h10M492 445h10M422 476h10M422 404h10M468 272h10M407 325h10M414 425h10M463 417h10M454 473h10M471 479h10M437 366h10M365 402h10M429 423h10M385 294h10M546 387h10M502 371h10M404 339h10M367 336h10M541 446h10M385 371h10M501 505h10M421 263h10M411 372h10M545 421h10M430 520h10M472 483h10M286 271h10M449 384h10M489 371h10M423 338h10M474 482h10M385 290h10M454 496h10M538 371h10M485 374h10M575 454h10M542 340h10M431 344h10M487 538h10M365 262h10M363 370h10M497 374h10M579 397h10M537 394h10M532 389h10M463 434h10M459 483h10M468 325h10M468 440h10M446 430h10M467 399h10M369 453h10M530 542h10M440 361h10M570 373h10M474 421h10M469 525h10M541 532h10M516 449h10M456 457h10M451 292h10M481 518h10M480 385h10M536 445h10M328 229h10M505 410h10M464 464h10M443 382h10M537 262h10M444 425h10M444 274h10M509 423h10M487 520h10M476 471h10M362 313h10M435 404h10M455 447h10M471 372h10M544 390h10M453 437h10M491 345h10M389 433h10M487 449h10M514 458h10M469 316h10M416 333h10M426 387h10M392 366h10M456 330h10M363 298h10M335 332h10M472 377h10M425 239h10M412 413h10M442 382h10M422 379h10M390 396h10M559 413h10M461 370h10M410 317h10M455 501h10M377 406h10M470 351h10M469 468h10M446 413h10M567 440h10M387 432h10M472 468h10M431 349h10M428 409h10M523 373h10M475 349h10M416 400h10M442 518h10M462 485h10M503 318h10M572 465h10M414 451h10M412 490h10M553 420h10M485 474h10M401 439h10M426 417h10M442 347h10M357 309h10M460 384h10M544 424h10M414 437h10M403 393h10M470 472h10M511 473h10M436 325h10M442 490h10M375 339h10M418 386h10M501 433h10M373 323h10M525 401h10M542 398h10M519 400h10M459 465h10M449 369h10M416 374h10M429 338h10M333 452h10M467 394h10M459 488h10M401 328h10M403 392h10M385 385h10M464 353h10M433 364h10M446 331h10M462 544h10M474 528h10M493 466h10M428 424h10M364 312h10M476 328h10M397 283h10M544 482h10M442 437h10M480 405h10M504 435h10M484 422h10M558 439h10M392 295h10M460 419h10M485 450h10M508 465h10M362 348h10M421 393h10M549 398h10M428 476h10M404 341h10M470 330h10M459 341h10M414 413h10M491 460h10M581 433h10M373 398h10M392 310h10M412 373h10M489 455h10M352 378h10M448 319h10M395 253h10M572 496h10M404 424h10M389 401h10M549 512h10M496 432h10M368 269h10M452 395h10M417 503h10M544 377h10M477 312h10M463 273h10M407 390h10M553 389h10M422 300h10M497 462h10M367 476h10M508 403h10M447 525h10M423 532h10M439 427h10M432 182h10M511 509h10M543 367h10M469 417h10M474 424h10M484 498h10M383 413h10M431 497h10M441 479h10M500 392h10M490 496h10M464 453h10M330 344h10M477 447h10M245 456h10M509 496h10M348 330h10M452 418h10M544 426h10M418 408h10M421 369h10M447 284h10M381 417h10M479 405h10M377 424h10M482 369h10M506 326h10M503 458h10M399 311h10M426 461h10M443 474h10M445 442h10M429 524h10M425 437h10M490 416h10M429 259h10M496 478h10M459 346h10M488 421h10M413 438h10M330 466h10M439 409h10M432 356h10M396 377h10M363 357h10M416 289h10M495 316h10M436 414h10M443 397h10M390 384h10M516 350h10M509 452h10M544 493h10M484 338h10M442 433h10M501 514h10M431 280h10M371 313h10M466 340h10M482 487h10M384 306h10M423 349h10M473 381h10M488 454h10M377 439h10M456 518h10M373 320h10M429 251h10M503 364h10M567 460h10M429 319h10M457 450h10M478 441h10M433 360h10M347 445h10M404 443h10M432 337h10M511 384h10M366 453h10M456 375h10M460 316h10M460 376h10M416 325h10M478 393h10M422 542h10M503 480h10M530 488h10M525 430h10M349 398h10M400 356h10M448 477h10M454 333h10M468 426h10M426 427h10M440 531h10M426 520h10M431 459h10M396 362h10M522 348h10M417 324h10M478 452h10M367 297h10M397 527h10M382 346h10M508 501h10M459 429h10M457 311h10M417 428h10M448 482h10M435 301h10M408 381h10M418 469h10M497 336h10M588 466h10M452 520h10M444 372h10M473 492h10M580 406h10M416 402h10M410 391h10M376 478h10M448 517h10M468 445h10M425 449h10M531 523h10M437 441h10M493 438h10M385 291h10M460 392h10M502 399h10M503 391h10M483 447h10M385 444h10M553 435h10M451 473h10M407 481h10M423 363h10M372 446h10M507 351h10M493 415h10M577 417h10M422 352h10M367 420h10M553 471h10M390 488h10M520 418h10M454 345h10M487 439h10M463 480h10M439 381h10M417 292h10M423 429h10M433 396h10M465 406h10M513 336h10M477 424h10M440 369h10M499 411h10M501 323h10M515 318h10M401 355h10M464 355h10M530 404h10M512 387h10M441 367h10M548 291h10M428 418h10M449 389h10M405 373h10M369 435h10M454 293h10M469 431h10M459 323h10M507 462h10M503 507h10M471 439h10M442 369h10M447 470h10M478 363h10M481 388h10M432 356h10M438 385h10M500 336h10M442 426h10M451 514h10M474 359h10M478 426h10M477 437h10M504 332h10M540 488h10M409 363h10M460 504h10M441 388h10M451 380h10M361 275h10M395 273h10M430 449h10M482 415h10M476 453h10M533 404h10M497 394h10M414 400h10M547 361h10M413 250h10M376 359h10M425 316h10M432 438h10M409 533h10M449 478h10M466 390h10M432 413h10M390 289h10M326 439h10M528 407h10M471 287h10M436 360h10M339 381h10M481 259h10M526 314h10M414 352h10M416 469h10M524 458h10M488 496h10M416 450h10M545 503h10M525 348h10M473 345h10M518 463h10M355 338h10M466 403h10M467 462h10M327 218h10M359 442h10M566 349h10M414 411h10M419 470h10M445 382h10M427 259h10M452 405h10M474 363h10M390 415h10M465 425h10M404 333h10M448 533h10M459 409h10M351 349h10M468 448h10M414 372h10M540 308h10M408 416h10M450 354h10M375 327h10M382 398h10M482 351h10M439 402h10M518 368h10M366 347h10M374 382h10M515 451h10M442 355h10M463 431h10M481 261h10M371 368h10M447 175h10M429 417h10M412 463h10M490 440h10M403 382h10M397 363h10M547 470h10M416 476h10M401 415h10M454 395h10M525 474h10M451 451h10M467 421h10M455 351h10M418 453h10M547 425h10M439 443h10M541 524h10M508 456h10M391 417h10M423 379h10M450 402h10M476 446h10M392 351h10M399 421h10M366 312h10M533 331h10M417 346h10M482 400h10M490 430h10M464 398h10M526 317h10M433 467h10M456 405h10M441 411h10M371 408h10M345 246h10M469 460h10M376 493h10M480 381h10M390 352h10M423 376h10M389 420h10M410 288h10M415 362h10M471 527h10M354 381h10M454 453h10M340 237h10M400 438h10M558 528h10M443 379h10M427 414h10M521 512h10M484 287h10M440 350h10M514 411h10M401 346h10M407 349h10M381 509h10M402 370h10M362 426h10M491 469h10M533 380h10M384 378h10M393 246h10M425 476h10M485 397h10M388 331h10M438 413h10M515 420h10M369 454h10M443 454h10M389 325h10M421 315h10M455 319h10M502 516h10M536 426h10M441 529h10M481 410h10M462 456h10M467 327h10M327 331h10M397 341h10M464 411h10M532 426h10M437 493h10M451 417h10M453 305h10M363 390h10M482 422h10M518 416h10M405 357h10M509 333h10M438 400h10M480 356h10M415 385h10M438 431h10M418 319h10M513 392h10M503 392h10M415 301h10M508 493h10M497 389h10M458 303h10M512 449h10M496 440h10M397 298h10M509 469h10M423 371h10M423 428h10M451 413h10M497 381h10M378 288h10M495 504h10M472 430h10M424 310h10M451 411h10M418 426h10M401 271h10M494 301h10M464 319h10M376 321h10M553 475h10M330 339h10M467 507h10M477 420h10M486 464h10M428 448h10M356 323h10M490 388h10M363 326h10M459 415h10M457 460h10M417 455h10M500 240h10M403 352h10M574 480h10M472 497h10M435 350h10M467 403h10M481 493h10M398 356h10M393 380h10M505 353h10M524 468h10M379 380h10M488 436h10M417 381h10M469 357h10M417 353h10M380 265h10M442 436h10M400 285h10M509 362h10M519 373h10M416 398h10M454 381h10M428 413h10M436 340h10M454 424h10M421 386h10M433 337h10M525 439h10M402 395h10M445 323h10M450 377h10M402 398h10M337 384h10M472 453h10M470 364h10M386 410h10M434 413h10M455 489h10M489 384h10M423 455h10M402 384h10M449 432h10M458 416h10M391 463h10M546 422h10M530 438h10M469 349h10M449 425h10M404 503h10M400 377h10M522 427h10M443 398h10M458 334h10M429 462h10M417 464h10M489 484h10M426 328h10M508 457h10M410 447h10M516 340h10M498 401h10M501 384h10M430 350h10M542 445h10M526 395h10M480 427h10M429 378h10M439 327h10M458 388h10M443 370h10M494 441h10M443 310h10M462 287h10M415 382h10M351 388h10M435 407h10M503 496h10M479 303h10M467 377h10M437 445h10M339 303h10M481 357h10M502 432h10M330 323h10M378 437h10M483 469h10M497 478h10M436 394h10M510 319h10M431 316h10M348 366h10M411 537h10M457 345h10M494 520h10M401 303h10M436 446h10M488 351h10M470 482h10M471 461h10M432 252h10M321 351h10M489 427h10M494 414h10M502 433h10M485 409h10M380 303h10M578 464h10M488 505h10M413 348h10M453 452h10M546 381h10M544 440h10M394 225h10M492 462h10M495 362h10M410 343h10M449 446h10M391 383h10M439 520h10M415 398h10M461 377h10M475 305h10M425 334h10M518 522h10M331 464h10M504 343h10M487 435h10M453 421h10M452 336h10M413 301h10M453 476h10M463 368h10M419 341h10M459 300h10M486 430h10M477 341h10M467 458h10M416 298h10M363 374h10M472 459h10M476 409h10M342 352h10M426 465h10M461 435h10M467 411h10M383 424h10M434 299h10M399 255h10M410 469h10M352 305h10M459 308h10M427 444h10M442 382h10M512 392h10M479 458h10M460 470h10M489 461h10M433 333h10M456 468h10M562 293h10M400 416h10M468 282h10M470 480h10M532 481h10M421 283h10M493 491h10M515 426h10M520 509h10M173 393h10M228 279h10M88 364h10M130 405h10M190 353h10M223 372h10M205 387h10M174 279h10M190 291h10M151 323h10M174 363h10M152 250h10M161 284h10M216 432h10M133 300h10M161 408h10M177 395h10M144 433h10M156 311h10M163 317h10M136 398h10M160 423h10M150 333h10M198 301h10M139 511h10M182 360h10M143 425h10M112 321h10M201 269h10M99 329h10M197 314h10M128 304h10M155 406h10M148 360h10M126 310h10M141 356h10M179 411h10M188 358h10M118 372h10M196 315h10M173 378h10M175 365h10M179 382h10M196 282h10M171 385h10M192 408h10M181 383h10M179 379h10M179 207h10M139 423h10M187 373h10M159 380h10M168 327h10M109 356h10M191 330h10M175 380h10M156 328h10M190 260h10M176 436h10M193 262h10M191 326h10M161 329h10M206 385h10M190 254h10M226 413h10M219 294h10M176 368h10M154 336h10M221 342h10M86 304h10M147 375h10M214 289h10M212 310h10M213 322h10M180 293h10M171 329h10M190 312h10M145 291h10M191 242h10M123 346h10M140 454h10M136 315h10M232 363h10M178 278h10M155 376h10M155 337h10M86 339h10M191 419h10M179 357h10M197 326h10M246 321h10M129 286h10M152 292h10M155 346h10M183 306h10M118 312h10M148 264h10M150 341h10M153 300h10M215 407h10M122 289h10M285 249h10M172 309h10M207 337h10M209 254h10M193 339h10M136 312h10M105 309h10M135 288h10M88 445h10M147 440h10M213 351h10M181 300h10M207 325h10M179 319h10M145 365h10M234 259h10M192 411h10M183 266h10M154 335h10M168 411h10M143 367h10M102 380h10M190 359h10M156 317h10M62 437h10M130 363h10M191 302h10M179 357h10M131 331h10M101 376h10M211 245h10M161 320h10M102 277h10M183 249h10M216 302h10M196 391h10M175 286h10M118 449h10M210 246h10M211 307h10M142 345h10M223 335h10M140 408h10M191 351h10M164 368h10M186 274h10M270 315h10M189 354h10M121 335h10M222 411h10M182 384h10M124 279h10M128 286h10M253 276h10M173 283h10M153 325h10M68 299h10M165 375h10M230 394h10M196 411h10M188 301h10M129 347h10M156 240h10M72 303h10M182 337h10M236 331h10M152 350h10M151 383h10M85 395h10M78 360h10M119 316h10M162 431h10M221 330h10M221 319h10M123 411h10M206 374h10M166 361h10M160 307h10M182 337h10M95 363h10M204 409h10M104 318h10M169 310h10M218 355h10M182 456h10M110 390h10M129 321h10M147 263h10M144 286h10M176 374h10M213 237h10M216 296h10M185 232h10M75 365h10M140 309h10M164 441h10M147 329h10M132 349h10M182 355h10M199 318h10M200 322h10M152 244h10M108 322h10M196 378h10M182 367h10M148 315h10M165 442h10M139 397h10M121 347h10M146 330h10M121 293h10M97 292h10M185 223h10M193 351h10M206 191h10M245 406h10M151 366h10M152 348h10M224 379h10M135 361h10M132 403h10M223 314h10M172 376h10M171 325h10M137 374h10M163 306h10M100 320h10M167 341h10M124 304h10M167 310h10M136 309h10M180 322h10M160 509h10M218 350h10M154 374h10M195 399h10M91 249h10M142 352h10M209 389h10M179 379h10M179 308h10M149 222h10M125 330h10M167 351h10M129 374h10M120 350h10M189 430h10M176 440h10M147 345h10M164 300h10M99 391h10M95 407h10M205 245h10M127 367h10M230 370h10M194 305h10M173 298h10M248 265h10M122 396h10M293 474h10M134 420h10M275 382h10M372 415h10M277 345h10M156 438h10M314 495h10M205 465h10M260 395h10M182 506h10M188 378h10M263 456h10M276 434h10M358 443h10M240 522h10M337 376h10M214 422h10M200 467h10M164 447h10M331 459h10M254 446h10M284 432h10M151 456h10M239 382h10M157 430h10M110 421h10M240 457h10M295 449h10M119 428h10M232 391h10M248 468h10M122 484h10M324 479h10M277 464h10M234 460h10M274 416h10M162 482h10M161 456h10M242 404h10M214 439h10M93 496h10M181 444h10M187 451h10M274 396h10M246 426h10M124 462h10M269 382h10M305 386h10M257 502h10M169 421h10M308 488h10M144 389h10M130 454h10M205 425h10M247 466h10M192 432h10M260 464h10M219 507h10M185 411h10M298 491h10M88 484h10M152 458h10M216 400h10M239 408h10M311 367h10M208 427h10M221 404h10M206 462h10M201 392h10M335 378h10M159 438h10M163 393h10M155 480h10M354 423h10M225 484h10M168 399h10M99 459h10M145 383h10M263 475h10M255 366h10M101 389h10M209 443h10M116 507h10M248 504h10M310 442h10M289 468h10M208 386h10M202 458h10M306 393h10M195 414h10M192 413h10M324 435h10M322 431h10M206 418h10M338 413h10M170 451h10M103 422h10M338 443h10M211 482h10M93 483h10M127 402h10M336 403h10M215 379h10M238 440h10M210 465h10M200 450h10M193 473h10M54 418h10M225 423h10M214 454h10M414 460h10M128 398h10M216 451h10M187 440h10M152 388h10M205 480h10M140 401h10M293 449h10M225 502h10M213 444h10M257 473h10M505 407h10M345 454h10M104 430h10M217 430h10M143 457h10M209 412h10M215 463h10M218 470h10M306 453h10M310 522h10M108 476h10M189 439h10M238 379h10M282 392h10M172 468h10M279 475h10M252 429h10M266 439h10M275 469h10M255 421h10M121 446h10M154 404h10M261 446h10M192 490h10M93 384h10M251 466h10M312 483h10M208 507h10M170 464h10M175 457h10M218 413h10M376 358h10M309 407h10M206 459h10M307 519h10M229 415h10M141 420h10M141 432h10M322 413h10M245 471h10M252 397h10M252 480h10M267 449h10M227 454h10M207 412h10M360 395h10M235 408h10M140 483h10M176 512h10M255 402h10M199 431h10M204 456h10M208 472h10M196 428h10M247 403h10M135 447h10M322 410h10M230 497h10M229 433h10M179 466h10M254 397h10M289 449h10M284 435h10M284 470h10M214 436h10M258 410h10M159 365h10M245 399h10M219 393h10M324 530h10M379 445h10M304 466h10M325 373h10M399 405h10M98 373h10M297 428h10M197 434h10M346 462h10M377 435h10M318 447h10M347 405h10M333 542h10M221 442h10M146 434h10M209 424h10M293 433h10M257 485h10M186 490h10M148 372h10M192 406h10M220 497h10M138 370h10M278 510h10M114 430h10M243 351h10M280 451h10M207 442h10M64 422h10M251 396h10M171 455h10M382 492h10M326 450h10M203 389h10M214 383h10M177 424h10M229 432h10M263 453h10M146 374h10M238 365h10M154 383h10M232 426h10M242 466h10M199 453h10M286 473h10M21 395h10M308 481h10M92 420h10M206 416h10M277 461h10M301 500h10M337 465h10M291 473h10M212 400h10M197 456h10M213 422h10M189 410h10M161 406h10M127 425h10M356 430h10M358 441h10M189 437h10M360 488h10M185 451h10M337 454h10M188 387h10M160 369h10M99 429h10M189 490h10M242 492h10M271 471h10M349 438h10M171 414h10M236 397h10M265 468h10M199 459h10M121 430h10M348 421h10M135 370h10M108 480h10M207 527h10M321 505h10M325 441h10M231 396h10M122 448h10M235 432h10M242 428h10M200 364h10M345 494h10M246 504h10M237 426h10M203 426h10M264 468h10M249 426h10M247 421h10M105 417h10M259 438h10M322 417h10M312 437h10M245 485h10M147 403h10M330 475h10M286 410h10M21 396h10M100 458h10M165 360h10M287 405h10M251 450h10M290 496h10M177 379h10M241 396h10M156 406h10M335 467h10M169 482h10M359 463h10M242 459h10M211 409h10M419 273h10M485 271h10M397 335h10M373 368h10M451 254h10M508 249h10M581 151h10M483 211h10M354 361h10M489 286h10M384 191h10M367 300h10M407 276h10M379 284h10M385 136h10M440 286h10M372 291h10M445 139h10M448 268h10M439 189h10M567 215h10M502 170h10M434 200h10M483 278h10M451 336h10M445 212h10M400 272h10M523 270h10M391 284h10M559 364h10M441 384h10M467 276h10M320 266h10M369 355h10M418 201h10M428 360h10M478 352h10M386 341h10M374 179h10M364 407h10M435 386h10M396 201h10M420 350h10M507 234h10M409 245h10M492 352h10M407 292h10M599 244h10M312 197h10M409 282h10M408 344h10M434 319h10M459 244h10M570 230h10M461 348h10M411 330h10M470 291h10M475 357h10M556 317h10M378 307h10M450 302h10M323 345h10M364 376h10M485 371h10M405 222h10M453 252h10M415 206h10M446 335h10M490 271h10M369 212h10M457 259h10M442 230h10M475 300h10M415 331h10M460 373h10M519 260h10M368 252h10M336 303h10M445 238h10M493 312h10M462 306h10M467 231h10M422 251h10M531 241h10M305 369h10M371 252h10M522 272h10M504 281h10M542 223h10M447 418h10M344 80h10M497 197h10M370 270h10M408 322h10M310 168h10M487 331h10M366 212h10M579 249h10M405 301h10M478 234h10M365 345h10M441 245h10M447 275h10M552 265h10M504 243h10M568 247h10M432 254h10M388 353h10M430 340h10M381 272h10M402 311h10M428 286h10M428 293h10M363 356h10M510 278h10M506 328h10M531 212h10M442 244h10M491 231h10M335 336h10M488 123h10M489 244h10M441 294h10M356 264h10M474 236h10M522 317h10M424 262h10M287 299h10M420 357h10M449 273h10M471 205h10M262 213h10M589 324h10M479 323h10M578 276h10M407 386h10M371 273h10M334 282h10M439 232h10M391 153h10M499 332h10M423 210h10M430 262h10M375 264h10M441 356h10M451 219h10M476 328h10M376 421h10M371 237h10M516 187h10M433 286h10M412 348h10M429 181h10M350 221h10M460 399h10M549 320h10M485 284h10M318 250h10M526 327h10M426 249h10M365 164h10M405 381h10M424 226h10M361 207h10M449 172h10M407 238h10M564 324h10M356 239h10M505 197h10M468 209h10M437 378h10M465 266h10M400 395h10M409 279h10M366 260h10M482 381h10M494 305h10M521 316h10M429 244h10M453 264h10M435 224h10M418 377h10M518 337h10M381 146h10M370 298h10" stroke="#000" stroke-width="10" stroke-opacity="0.42" fill="none" filter="url(#sf)"/>
<rect x="50.4" y="478.9" width="62.79999999999999" height="55.60000000000002" fill="none" stroke="#000" stroke-width="1.1"/>
<path d="M82.4 478.9V534.5M50.4 515.4H113.19999999999999" stroke="#000" stroke-width="1.1" fill="none"/>
<path d="M51.199999999999996 478.9V534.5" stroke="#000" stroke-width="1.9" stroke-dasharray="2.3 0.5 1.2 0.4" stroke-opacity="0.88" fill="none"/>
<path d="M50.4 535.1H113.19999999999999" stroke="#000" stroke-width="1.0" stroke-dasharray="1.3 1.5" stroke-opacity="0.7" fill="none"/>
<text x="109.69999999999999" y="488.4" font-size="7.4" text-anchor="end" font-family="Liberation Serif, Times New Roman, serif" stroke="#000" stroke-width="0.15">19</text>
<g filter="url(#st)"><rect x="135.0" y="478.9" width="62.80000000000001" height="55.60000000000002" fill="#000" fill-opacity="0.001"/>
<ellipse cx="182.1" cy="518.9" rx="13.2" ry="18.3" fill="url(#g1)" opacity="0.95" transform="rotate(-5 182.1 518.9)"/>
<ellipse cx="152.0" cy="513.4" rx="6.3" ry="8.3" fill="url(#g1)" opacity="0.55" transform="rotate(0 152.0 513.4)"/>
<ellipse cx="155.7" cy="522.3" rx="16.3" ry="7.2" fill="url(#g1)" opacity="0.42" transform="rotate(0 155.7 522.3)"/>
<ellipse cx="180.2" cy="505.6" rx="10.0" ry="11.1" fill="url(#g1)" opacity="0.3" transform="rotate(0 180.2 505.6)"/>
</g>
<ellipse cx="182.1" cy="520.6" rx="10.4" ry="13.9" fill="url(#g1)" opacity="1.0" transform="rotate(-5 182.1 520.6)"/>
<path transform="translate(135.0 478.9) scale(0.1)" d="M560 480h10M452 465h10M488 354h10M381 278h10M485 458h10M457 288h10M455 462h10M367 278h10M446 400h10M397 297h10M482 364h10M378 302h10M405 498h10M337 248h10M404 364h10M444 392h10M483 299h10M499 313h10M433 323h10M462 490h10M533 430h10M376 301h10M378 406h10M474 385h10M421 391h10M438 412h10M415 400h10M565 489h10M469 452h10M493 439h10M522 362h10M492 446h10M435 437h10M453 436h10M420 290h10M393 384h10M514 484h10M541 352h10M499 399h10M551 343h10M501 300h10M392 386h10M422 453h10M482 349h10M589 447h10M469 377h10M402 199h10M404 290h10M481 378h10M506 418h10M323 351h10M480 508h10M430 452h10M422 359h10M481 364h10M438 377h10M450 400h10M524 356h10M574 386h10M418 423h10M436 317h10M417 323h10M510 320h10M456 416h10M401 375h10M439 344h10M517 484h10M458 366h10M399 454h10M417 409h10M481 327h10M509 425h10M449 325h10M432 458h10M447 408h10M460 509h10M461 326h10M474 328h10M508 454h10M448 448h10M490 471h10M422 461h10M313 413h10M512 211h10M391 440h10M391 349h10M500 537h10M485 321h10M537 422h10M489 405h10M471 377h10M384 340h10M495 389h10M505 390h10M400 300h10M486 509h10M451 427h10M584 404h10M461 329h10M469 353h10M539 390h10M419 470h10M506 421h10M457 409h10M427 272h10M531 413h10M394 386h10M475 386h10M371 417h10M435 384h10M418 291h10M406 320h10M526 439h10M496 435h10M378 285h10M555 381h10M394 420h10M424 339h10M531 473h10M437 408h10M411 327h10M403 357h10M461 385h10M543 328h10M417 368h10M423 279h10M530 425h10M560 499h10M465 309h10M526 479h10M437 370h10M379 395h10M562 380h10M501 432h10M386 365h10M478 374h10M452 336h10M549 389h10M558 393h10M411 453h10M497 409h10M467 354h10M492 364h10M416 357h10M496 485h10M436 334h10M467 394h10M409 443h10M435 500h10M534 445h10M446 376h10M531 440h10M385 445h10M509 353h10M369 308h10M440 443h10M436 376h10M473 355h10M443 511h10M429 413h10M469 455h10M543 401h10M427 377h10M440 419h10M393 280h10M504 371h10M373 385h10M520 287h10M537 398h10M354 400h10M414 362h10M479 499h10M578 319h10M492 248h10M440 438h10M437 344h10M469 395h10M481 415h10M496 374h10M370 432h10M542 336h10M592 427h10M399 380h10M450 439h10M399 399h10M510 382h10M476 397h10M529 385h10M459 482h10M439 318h10M487 394h10M518 301h10M438 535h10M430 401h10M555 348h10M474 415h10M382 501h10M614 494h10M363 452h10M549 363h10M370 392h10M361 425h10M443 397h10M518 350h10M544 408h10M438 421h10M437 381h10M455 260h10M509 421h10M488 363h10M435 337h10M432 388h10M546 392h10M469 519h10M366 517h10M437 423h10M497 373h10M515 476h10M414 363h10M470 456h10M442 369h10M481 283h10M450 350h10M608 493h10M438 242h10M387 314h10M496 386h10M440 443h10M592 366h10M379 460h10M400 450h10M537 358h10M406 429h10M470 533h10M533 373h10M549 476h10M399 371h10M498 364h10M552 462h10M411 464h10M517 371h10M363 295h10M455 392h10M523 379h10M504 433h10M532 399h10M599 487h10M495 417h10M406 321h10M553 311h10M400 512h10M462 496h10M478 346h10M343 299h10M517 500h10M499 378h10M416 444h10M467 433h10M422 416h10M552 310h10M482 398h10M524 533h10M397 467h10M574 428h10M417 441h10M444 255h10M404 266h10M403 362h10M417 495h10M496 411h10M410 355h10M459 468h10M521 365h10M590 437h10M459 437h10M497 473h10M493 473h10M472 378h10M540 428h10M392 338h10M476 351h10M417 329h10M443 426h10M453 223h10M576 417h10M370 227h10M503 403h10M470 214h10M491 412h10M405 443h10M491 445h10M473 308h10M508 394h10M397 415h10M426 368h10M512 381h10M473 337h10M522 297h10M445 383h10M547 319h10M492 256h10M384 454h10M405 414h10M427 385h10M527 452h10M432 478h10M382 412h10M412 428h10M329 396h10M416 368h10M459 322h10M442 353h10M425 417h10M427 398h10M413 333h10M469 390h10M549 478h10M535 349h10M445 463h10M507 328h10M516 361h10M536 412h10M387 395h10M545 478h10M437 494h10M442 337h10M474 355h10M497 483h10M539 386h10M308 405h10M531 355h10M520 465h10M444 350h10M427 366h10M422 438h10M465 496h10M559 443h10M388 276h10M341 393h10M480 427h10M461 478h10M418 449h10M376 448h10M455 422h10M492 412h10M493 419h10M409 345h10M387 244h10M463 511h10M466 297h10M485 486h10M533 394h10M523 259h10M460 357h10M463 240h10M515 443h10M537 391h10M512 394h10M469 371h10M453 522h10M402 419h10M453 408h10M460 400h10M468 450h10M478 462h10M502 334h10M470 423h10M400 264h10M484 405h10M332 249h10M475 513h10M484 457h10M381 362h10M504 383h10M375 428h10M432 344h10M521 399h10M518 467h10M483 480h10M385 239h10M507 514h10M491 282h10M414 455h10M427 369h10M416 391h10M447 282h10M473 483h10M392 473h10M401 275h10M468 422h10M530 510h10M482 351h10M499 417h10M493 510h10M550 419h10M514 416h10M506 428h10M369 336h10M404 244h10M431 363h10M497 392h10M464 370h10M388 315h10M517 490h10M480 324h10M422 328h10M409 331h10M465 426h10M454 365h10M514 417h10M508 366h10M455 372h10M442 387h10M424 396h10M456 436h10M495 331h10M528 437h10M463 472h10M488 398h10M491 455h10M417 381h10M548 483h10M362 486h10M461 450h10M342 386h10M503 298h10M535 437h10M504 358h10M538 467h10M419 350h10M484 401h10M473 275h10M436 351h10M513 449h10M516 536h10M362 416h10M472 303h10M526 446h10M392 422h10M375 251h10M483 361h10M556 477h10M367 320h10M448 299h10M462 431h10M516 404h10M530 393h10M482 473h10M426 458h10M439 435h10M545 500h10M440 176h10M510 441h10M484 246h10M438 451h10M515 468h10M427 484h10M446 304h10M449 330h10M341 319h10M374 429h10M462 446h10M463 414h10M571 470h10M488 375h10M544 502h10M480 353h10M416 401h10M434 395h10M543 335h10M437 386h10M449 489h10M469 418h10M469 341h10M323 368h10M342 408h10M446 330h10M514 431h10M471 323h10M423 475h10M435 500h10M441 442h10M335 273h10M487 460h10M457 467h10M354 404h10M396 401h10M475 393h10M549 350h10M426 415h10M478 446h10M403 355h10M382 421h10M463 351h10M531 497h10M357 486h10M489 478h10M459 360h10M483 251h10M372 399h10M374 297h10M329 452h10M392 473h10M480 419h10M525 414h10M333 461h10M432 444h10M481 326h10M571 542h10M434 320h10M399 434h10M529 494h10M475 468h10M461 324h10M361 476h10M435 418h10M443 271h10M492 401h10M493 405h10M436 285h10M506 487h10M449 376h10M491 364h10M428 439h10M493 413h10M383 329h10M408 360h10M448 369h10M558 401h10M478 448h10M509 366h10M460 415h10M463 288h10M505 440h10M397 428h10M446 415h10M406 406h10M534 367h10M447 349h10M486 409h10M420 323h10M350 421h10M558 452h10M498 406h10M542 459h10M413 510h10M368 326h10M488 398h10M470 426h10M413 417h10M449 394h10M466 464h10M352 221h10M349 442h10M480 235h10M463 385h10M414 377h10M508 417h10M373 388h10M506 413h10M515 294h10M566 418h10M393 381h10M535 405h10M415 375h10M444 387h10M379 365h10M422 505h10M333 310h10M412 451h10M442 415h10M468 353h10M519 416h10M514 452h10M438 469h10M530 481h10M465 289h10M455 354h10M466 396h10M512 541h10M531 438h10M399 347h10M450 301h10M346 454h10M460 371h10M397 427h10M478 339h10M471 425h10M486 349h10M446 471h10M451 409h10M561 407h10M507 420h10M580 499h10M470 411h10M410 344h10M529 348h10M429 446h10M540 477h10M600 415h10M489 472h10M413 385h10M386 416h10M419 544h10M477 459h10M322 437h10M474 402h10M477 411h10M501 360h10M534 470h10M436 384h10M452 315h10M473 474h10M440 379h10M416 483h10M459 319h10M395 326h10M563 425h10M429 434h10M493 360h10M567 456h10M465 341h10M438 446h10M481 420h10M449 273h10M399 351h10M537 365h10M522 445h10M518 447h10M467 322h10M554 476h10M385 302h10M456 424h10M430 489h10M437 330h10M473 488h10M403 337h10M372 478h10M372 377h10M515 377h10M443 463h10M501 356h10M368 282h10M428 383h10M470 467h10M426 420h10M424 454h10M459 314h10M517 394h10M464 400h10M385 292h10M594 531h10M532 299h10M405 357h10M522 335h10M600 380h10M465 405h10M323 461h10M531 403h10M465 319h10M469 525h10M509 467h10M475 351h10M469 242h10M458 410h10M517 291h10M483 414h10M476 405h10M564 507h10M356 415h10M460 437h10M490 391h10M507 359h10M457 481h10M383 465h10M386 377h10M479 361h10M543 376h10M469 462h10M447 292h10M346 445h10M404 369h10M497 323h10M469 450h10M454 395h10M357 408h10M372 431h10M407 413h10M399 285h10M417 413h10M523 447h10M453 449h10M487 387h10M537 464h10M345 393h10M475 343h10M580 438h10M500 339h10M548 481h10M421 297h10M537 487h10M510 436h10M498 392h10M480 489h10M530 418h10M400 360h10M414 348h10M467 311h10M503 442h10M469 430h10M496 336h10M471 412h10M389 472h10M433 226h10M586 355h10M507 419h10M520 440h10M501 387h10M485 351h10M549 456h10M427 289h10M440 402h10M482 365h10M446 294h10M499 500h10M345 373h10M395 475h10M521 341h10M381 217h10M408 470h10M544 417h10M333 398h10M417 430h10M418 392h10M464 312h10M556 505h10M497 468h10M475 318h10M430 304h10M526 405h10M434 396h10M421 422h10M416 443h10M428 283h10M504 441h10M484 349h10M483 406h10M511 330h10M421 413h10M350 281h10M468 494h10M455 300h10M476 364h10M440 287h10M451 407h10M471 487h10M378 394h10M399 408h10M510 440h10M491 339h10M523 343h10M425 354h10M520 357h10M549 418h10M474 434h10M382 330h10M448 333h10M525 333h10M528 421h10M448 352h10M492 536h10M330 415h10M424 450h10M486 371h10M434 496h10M499 419h10M447 369h10M527 320h10M421 389h10M466 308h10M509 294h10M478 449h10M433 357h10M361 278h10M338 383h10M404 249h10M433 441h10M514 421h10M458 460h10M461 361h10M419 319h10M466 370h10M574 409h10M390 335h10M418 412h10M531 355h10M368 411h10M503 457h10M428 403h10M510 391h10M391 319h10M422 437h10M423 405h10M507 435h10M491 333h10M404 426h10M487 444h10M404 354h10M498 509h10M319 377h10M486 377h10M489 485h10M486 518h10M526 451h10M520 370h10M501 532h10M389 342h10M413 393h10M479 343h10M480 383h10M430 386h10M446 447h10M411 315h10M380 346h10M487 354h10M538 476h10M445 464h10M502 410h10M462 425h10M346 324h10M451 311h10M477 307h10M523 364h10M454 434h10M482 381h10M406 269h10M483 469h10M482 354h10M501 292h10M556 316h10M452 389h10M502 468h10M383 392h10M514 363h10M444 374h10M553 408h10M395 313h10M466 409h10M469 380h10M493 360h10M434 321h10M444 445h10M403 442h10M512 470h10M552 512h10M415 317h10M428 447h10M525 464h10M375 493h10M414 272h10M383 172h10M495 524h10M373 437h10M437 498h10M448 415h10M454 331h10M422 477h10M408 416h10M570 330h10M436 417h10M521 353h10M555 433h10M519 402h10M437 503h10M451 373h10M470 251h10M381 344h10M455 365h10M499 508h10M546 509h10M495 445h10M468 345h10M434 476h10M409 538h10M499 403h10M455 430h10M428 286h10M479 403h10M462 283h10M451 330h10M491 419h10M524 515h10M432 460h10M432 363h10M469 306h10M541 400h10M402 448h10M387 433h10M535 468h10M382 411h10M544 528h10M381 319h10M473 264h10M465 445h10M440 267h10M369 343h10M442 363h10M454 404h10M561 514h10M604 400h10M589 381h10M385 376h10M403 397h10M437 393h10M467 455h10M555 435h10M496 275h10M431 411h10M526 520h10M455 315h10M519 247h10M425 542h10M427 416h10M560 393h10M373 306h10M335 359h10M437 490h10M518 326h10M479 361h10M553 428h10M414 329h10M443 382h10M466 339h10M509 342h10M476 282h10M460 277h10M378 503h10M377 382h10M508 479h10M506 464h10M491 434h10M403 307h10M556 448h10M477 341h10M393 482h10M389 334h10M541 510h10M448 348h10M535 419h10M597 381h10M504 371h10M418 392h10M467 396h10M478 434h10M487 539h10M454 468h10M441 333h10M429 398h10M413 477h10M547 514h10M428 413h10M429 367h10M463 407h10M440 445h10M416 424h10M532 343h10M488 356h10M382 507h10M522 390h10M509 536h10M487 425h10M499 353h10M359 408h10M483 472h10M504 480h10M469 484h10M455 238h10M433 253h10M438 439h10M456 505h10M524 343h10M523 421h10M344 336h10M504 413h10M512 411h10M499 498h10M413 466h10M499 467h10M453 392h10M426 522h10M474 367h10M425 315h10M452 253h10M582 409h10M433 307h10M542 367h10M496 356h10M467 231h10M418 355h10M469 472h10M442 389h10M510 411h10M426 402h10M445 333h10M528 398h10M370 451h10M314 488h10M496 400h10M442 400h10M533 414h10M454 398h10M407 362h10M563 324h10M489 363h10M501 449h10M495 359h10M462 442h10M545 472h10M525 353h10M564 473h10M320 372h10M507 471h10M345 333h10M365 402h10M530 401h10M466 402h10M392 357h10M504 406h10M432 354h10M434 396h10M403 427h10M498 427h10M338 440h10M416 413h10M485 405h10M510 285h10M532 421h10M508 439h10M423 434h10M501 418h10M529 359h10M488 475h10M498 360h10M586 539h10M391 324h10M506 352h10M448 480h10M427 425h10M450 326h10M453 380h10M471 422h10M532 424h10M484 493h10M448 467h10M419 404h10M488 437h10M476 330h10M502 446h10M525 319h10M578 485h10M482 432h10M449 292h10M557 352h10M534 329h10M447 231h10M442 324h10M419 425h10M431 350h10M484 330h10M446 362h10M439 331h10M509 375h10M464 528h10M458 418h10M501 377h10M471 437h10M425 300h10M514 540h10M402 444h10M337 388h10M467 388h10M510 448h10M562 448h10M515 428h10M421 312h10M467 461h10M487 304h10M438 316h10M470 514h10M400 415h10M358 301h10M516 363h10M408 405h10M503 282h10M409 339h10M422 371h10M453 398h10M519 351h10M406 452h10M486 404h10M368 526h10M463 422h10M447 304h10M480 435h10M461 443h10M483 363h10M356 437h10M499 360h10M462 388h10M458 326h10M514 476h10M499 297h10M487 334h10M514 465h10M354 345h10M389 392h10M529 365h10M390 476h10M383 436h10M433 495h10M450 373h10M489 405h10M439 414h10M409 326h10M439 264h10M376 327h10M479 344h10M518 352h10M424 267h10M469 359h10M411 367h10M380 294h10M392 372h10M422 434h10M466 518h10M464 417h10M440 381h10M454 328h10M436 469h10M419 452h10M514 381h10M513 260h10M562 333h10M489 440h10M325 319h10M478 474h10M512 512h10M423 388h10M533 494h10M453 374h10M369 464h10M520 534h10M456 512h10M303 305h10M431 338h10M520 408h10M559 398h10M474 519h10M517 421h10M441 416h10M500 303h10M465 337h10M515 356h10M406 429h10M312 432h10M602 447h10M462 422h10M428 483h10M488 347h10M310 353h10M456 480h10M516 307h10M529 381h10M445 427h10M489 492h10M453 501h10M441 352h10M554 521h10M405 372h10M553 493h10M450 376h10M374 535h10M423 473h10M526 407h10M503 251h10M455 376h10M537 445h10M488 390h10M495 378h10M457 303h10M536 502h10M459 480h10M468 353h10M374 369h10M497 469h10M477 342h10M488 525h10M526 366h10M429 272h10M360 387h10M468 466h10M516 438h10M431 439h10M453 388h10M476 447h10M446 450h10M457 465h10M419 288h10M469 400h10M458 271h10M465 414h10M484 458h10M362 322h10M378 483h10M426 497h10M485 330h10M378 363h10M410 375h10M415 439h10M413 383h10M390 311h10M485 499h10M390 318h10M500 425h10M438 408h10M440 423h10M495 470h10M520 422h10M477 384h10M562 340h10M465 431h10M470 499h10M470 437h10M490 382h10M371 415h10M395 382h10M455 383h10M561 381h10M478 363h10M458 350h10M446 358h10M358 323h10M458 462h10M414 331h10M401 405h10M495 405h10M436 452h10M470 425h10M473 444h10M407 209h10M408 315h10M422 361h10M430 398h10M514 379h10M504 369h10M552 439h10M547 527h10M467 386h10M429 334h10M573 455h10M484 468h10M418 467h10M425 398h10M527 318h10M458 511h10M561 424h10M311 278h10M158 371h10M207 420h10M181 280h10M127 338h10M186 387h10M178 341h10M235 299h10M216 429h10M144 335h10M182 364h10M59 328h10M183 366h10M50 374h10M97 394h10M176 358h10M157 377h10M177 359h10M102 409h10M161 303h10M155 387h10M119 247h10M68 266h10M166 325h10M228 351h10M169 291h10M127 362h10M169 303h10M248 376h10M152 334h10M173 327h10M239 282h10M199 383h10M184 313h10M145 334h10M129 365h10M173 437h10M247 372h10M171 256h10M97 396h10M180 407h10M184 445h10M225 344h10M175 273h10M154 397h10M259 223h10M191 325h10M155 435h10M159 410h10M235 266h10M209 366h10M154 320h10M54 361h10M84 443h10M183 376h10M258 391h10M222 319h10M184 360h10M138 412h10M150 299h10M114 312h10M204 256h10M163 368h10M127 312h10M166 348h10M172 432h10M143 278h10M219 343h10M220 279h10M121 241h10M134 303h10M215 257h10M183 219h10M209 366h10M127 308h10M118 351h10M117 449h10M238 413h10M211 392h10M223 297h10M217 358h10M169 259h10M198 367h10M146 265h10M203 308h10M173 305h10M180 459h10M96 294h10M83 471h10M161 301h10M197 324h10M88 496h10M137 330h10M164 433h10M160 391h10M123 403h10M234 374h10M145 326h10M163 277h10M156 442h10M162 253h10M202 346h10M121 316h10M173 282h10M240 271h10M169 447h10M116 325h10M132 379h10M251 276h10M194 379h10M159 309h10M106 420h10M283 255h10M189 419h10M167 306h10M174 316h10M195 336h10M176 309h10M198 329h10M137 296h10M177 368h10M208 352h10M210 260h10M106 316h10M187 351h10M191 328h10M128 330h10M268 394h10M142 194h10M127 325h10M124 396h10M154 426h10M145 357h10M207 326h10M219 243h10M91 290h10M179 405h10M191 259h10M119 378h10M155 290h10M158 313h10M177 302h10M210 308h10M278 380h10M118 261h10M243 347h10M125 362h10M143 439h10M163 347h10M168 337h10M133 294h10M286 206h10M186 364h10M143 360h10M132 370h10M200 291h10M181 327h10M182 361h10M144 416h10M198 377h10M95 444h10M116 344h10M131 374h10M113 398h10M261 323h10M185 360h10M180 445h10M206 404h10M209 354h10M227 176h10M137 265h10M113 330h10M180 288h10M134 274h10M214 229h10M157 355h10M167 396h10M185 368h10M192 397h10M192 323h10M221 340h10M157 334h10M218 389h10M235 445h10M197 198h10M204 301h10M254 336h10M127 336h10M197 290h10M130 243h10M190 336h10M225 330h10M103 389h10M248 419h10M83 273h10M197 329h10M133 383h10M161 452h10M185 353h10M170 344h10M206 299h10M204 265h10M182 315h10M230 257h10M203 307h10M62 331h10M277 220h10M208 400h10M195 399h10M229 337h10M164 469h10M146 265h10M228 218h10M163 317h10M131 313h10M189 354h10M158 334h10M103 393h10M226 298h10M182 324h10M180 234h10M140 331h10M209 332h10M270 206h10M150 373h10M150 317h10M185 275h10M199 289h10M221 275h10M115 345h10M62 291h10M131 388h10M89 345h10M188 363h10M113 423h10M117 327h10M183 278h10M131 359h10M169 459h10M173 266h10M146 373h10M210 443h10M162 403h10M205 361h10M120 394h10M130 292h10M150 313h10M205 342h10M195 309h10M211 349h10M121 293h10M83 297h10M137 310h10M201 361h10M168 346h10M223 301h10M165 341h10M159 342h10M187 259h10M178 388h10M186 231h10M130 288h10M104 385h10M238 340h10M279 306h10M138 230h10M155 408h10M205 325h10M197 280h10M168 328h10M189 313h10M221 259h10M164 340h10M174 305h10M197 387h10M167 307h10M132 403h10M188 343h10M180 187h10M140 428h10M198 315h10M115 348h10M211 305h10M227 308h10M227 195h10M136 440h10M170 410h10M257 429h10M277 435h10M116 441h10M108 454h10M248 384h10M331 444h10M201 447h10M243 354h10M291 430h10M335 437h10M235 464h10M297 338h10M146 437h10M289 390h10M295 421h10M182 492h10M365 370h10M213 448h10M240 450h10M283 413h10M250 510h10M277 421h10M119 409h10M269 462h10M402 477h10M177 430h10M200 448h10M349 395h10M307 453h10M291 379h10M74 442h10M235 494h10M274 454h10M265 444h10M102 407h10M229 417h10M286 406h10M245 413h10M287 438h10M188 431h10M271 421h10M90 421h10M265 420h10M222 502h10M254 470h10M309 414h10M182 428h10M225 392h10M191 451h10M267 381h10M272 481h10M227 430h10M400 421h10M133 398h10M340 474h10M149 443h10M153 417h10M341 403h10M281 408h10M217 460h10M171 402h10M272 480h10M161 455h10M149 449h10M197 389h10M126 475h10M214 452h10M136 491h10M402 408h10M180 418h10M282 456h10M240 429h10M325 458h10M137 408h10M242 425h10M258 437h10M219 434h10M206 455h10M168 428h10M189 377h10M175 408h10M371 483h10M202 407h10M271 441h10M21 471h10M104 442h10M244 388h10M245 434h10M227 355h10M253 473h10M364 454h10M394 449h10M82 423h10M205 486h10M166 374h10M353 454h10M396 441h10M237 435h10M143 373h10M173 467h10M285 440h10M195 417h10M110 483h10M111 474h10M246 446h10M349 425h10M231 446h10M156 433h10M271 406h10M235 426h10M349 429h10M185 375h10M265 386h10M247 393h10M245 409h10M422 411h10M196 379h10M234 452h10M132 474h10M391 396h10M343 424h10M102 413h10M382 419h10M85 440h10M199 413h10M291 415h10M195 383h10M104 459h10M157 479h10M336 456h10M212 465h10M206 441h10M270 451h10M334 381h10M137 434h10M154 399h10M202 419h10M253 415h10M255 469h10M254 437h10M301 435h10M334 464h10M174 424h10M65 382h10M104 396h10M239 449h10M163 456h10M299 461h10M170 389h10M155 504h10M146 458h10M236 485h10M285 458h10M223 438h10M139 434h10M167 434h10M289 436h10M124 406h10M171 404h10M300 356h10M347 405h10M257 451h10M121 466h10M166 457h10M210 407h10M400 459h10M69 431h10M118 431h10M384 438h10M78 455h10M301 371h10M167 476h10M286 328h10M244 434h10M214 478h10M113 450h10M332 459h10M292 368h10M287 440h10M284 439h10M182 440h10M220 462h10M232 434h10M165 401h10M204 397h10M266 379h10M244 416h10M180 446h10M369 412h10M319 473h10M180 432h10M113 479h10M103 415h10M193 433h10M147 446h10M150 440h10M173 479h10M246 431h10M158 472h10M280 428h10M226 445h10M103 441h10M236 386h10M158 459h10M387 489h10M317 445h10M116 502h10M179 403h10M312 482h10M263 350h10M178 505h10M422 465h10M270 436h10M167 426h10M353 398h10M173 410h10M232 451h10M229 476h10M147 448h10M144 418h10M176 453h10M216 397h10M204 403h10M42 460h10M139 390h10M349 416h10M98 400h10M217 463h10M210 457h10M340 486h10M224 414h10M326 529h10M133 443h10M257 497h10M318 471h10M306 454h10M304 418h10M181 457h10M215 444h10M168 452h10M286 423h10M159 397h10M174 469h10M275 461h10M157 392h10M140 457h10M165 429h10M167 438h10M223 423h10M240 377h10M344 387h10M193 517h10M260 439h10M239 446h10M284 493h10M270 405h10M218 402h10M176 419h10M95 473h10M242 400h10M196 487h10M444 425h10M261 496h10M241 429h10M314 436h10M301 423h10M79 448h10M283 477h10M379 474h10M288 440h10M112 432h10M254 371h10M339 408h10M274 418h10M277 478h10M251 460h10M299 425h10M250 467h10M269 441h10M201 493h10M260 466h10M53 412h10M116 420h10M313 485h10M285 376h10M245 412h10M295 464h10M153 469h10M214 462h10M322 403h10M284 424h10M300 355h10M284 423h10M215 397h10M279 417h10M128 505h10M202 401h10M260 465h10M216 468h10M165 420h10M226 420h10M262 469h10M183 404h10M225 401h10M214 422h10M327 371h10M406 219h10M395 277h10M468 308h10M381 219h10M508 204h10M470 305h10M451 428h10M354 259h10M439 330h10M589 279h10M416 297h10M470 275h10M514 285h10M414 328h10M439 311h10M370 436h10M343 239h10M429 266h10M486 216h10M496 248h10M411 267h10M411 275h10M487 390h10M495 342h10M446 280h10M469 335h10M415 326h10M451 187h10M498 333h10M344 384h10M273 240h10M370 310h10M433 239h10M468 234h10M483 222h10M471 294h10M294 242h10M430 138h10M403 343h10M513 285h10M437 231h10M399 359h10M444 334h10M537 125h10M460 267h10M476 342h10M448 264h10M609 329h10M355 258h10M437 283h10M551 358h10M449 260h10M395 392h10M483 106h10M486 341h10M359 218h10M405 327h10M431 203h10M411 243h10M350 255h10M290 310h10M516 239h10M499 307h10M409 138h10M440 396h10M411 167h10M400 307h10M404 294h10M467 407h10M486 269h10M447 268h10M476 211h10M467 349h10M402 185h10M464 237h10M457 285h10M396 244h10M441 316h10M360 283h10M395 311h10M392 258h10M412 299h10M478 354h10M332 288h10M410 310h10M466 249h10M461 338h10M508 285h10M398 292h10M434 309h10M314 242h10M437 306h10M441 363h10M413 238h10M397 206h10M419 282h10M427 287h10M427 291h10M350 252h10M335 446h10M445 300h10M462 311h10M396 198h10M487 214h10M426 402h10M488 260h10M461 339h10M459 266h10M448 283h10M427 277h10M355 199h10M490 281h10M463 230h10M350 347h10M377 316h10M401 224h10M526 314h10M466 314h10M346 228h10M492 293h10M574 391h10M518 229h10M446 322h10M577 307h10M339 174h10M395 240h10M440 307h10M314 142h10M442 250h10M390 378h10M360 295h10M371 416h10M424 247h10M470 268h10M487 241h10M392 291h10M419 244h10M492 285h10M295 326h10M392 371h10M454 225h10M525 165h10M359 293h10M333 340h10M472 271h10M502 254h10M319 285h10M531 240h10M474 284h10M402 265h10M507 282h10M455 251h10M359 299h10M467 272h10M610 392h10M500 236h10M539 341h10M611 305h10M427 303h10M402 142h10M455 226h10M523 270h10M487 344h10M416 202h10M494 392h10M345 293h10M483 320h10M280 209h10M380 327h10M447 349h10M466 346h10M565 182h10M385 287h10M504 149h10M533 364h10M450 277h10M300 206h10M398 226h10M471 333h10M376 265h10M454 307h10M468 285h10M437 329h10M477 213h10M412 293h10" stroke="#000" stroke-width="10" stroke-opacity="0.42" fill="none" filter="url(#sf)"/>
<rect x="135.0" y="478.9" width="62.80000000000001" height="55.60000000000002" fill="none" stroke="#000" stroke-width="1.1"/>
<path d="M167.0 478.9V534.5M135.0 515.4H197.8" stroke="#000" stroke-width="1.1" fill="none"/>
<path d="M135.8 478.9V534.5" stroke="#000" stroke-width="1.9" stroke-dasharray="2.3 0.5 1.2 0.4" stroke-opacity="0.88" fill="none"/>
<path d="M135.0 535.1H197.8" stroke="#000" stroke-width="1.0" stroke-dasharray="1.3 1.5" stroke-opacity="0.7" fill="none"/>
<text x="194.3" y="488.4" font-size="7.4" text-anchor="end" font-family="Liberation Serif, Times New Roman, serif" stroke="#000" stroke-width="0.15">19</text>
<g filter="url(#st)"><rect x="219.5" y="478.9" width="62.80000000000001" height="55.60000000000002" fill="#000" fill-opacity="0.001"/>
<ellipse cx="269.1" cy="519.5" rx="9.4" ry="16.7" fill="url(#g1)" opacity="0.9" transform="rotate(-5 269.1 519.5)"/>
<ellipse cx="236.5" cy="516.2" rx="6.3" ry="7.2" fill="url(#g1)" opacity="0.55" transform="rotate(0 236.5 516.2)"/>
<ellipse cx="250.9" cy="521.7" rx="22.6" ry="6.7" fill="url(#g1)" opacity="0.45" transform="rotate(0 250.9 521.7)"/>
<ellipse cx="266.0" cy="506.7" rx="9.4" ry="11.1" fill="url(#g1)" opacity="0.3" transform="rotate(0 266.0 506.7)"/>
</g>
<ellipse cx="269.7" cy="521.2" rx="5.0" ry="10.6" fill="url(#g1)" opacity="0.5" transform="rotate(-5 269.7 521.2)"/>
<path transform="translate(219.5 478.9) scale(0.1)" d="M522 446h10M489 417h10M428 466h10M440 373h10M524 369h10M487 414h10M508 507h10M543 473h10M405 360h10M393 383h10M544 475h10M544 357h10M502 431h10M529 345h10M509 497h10M457 508h10M491 357h10M497 418h10M444 411h10M481 342h10M466 374h10M491 426h10M416 360h10M511 480h10M496 435h10M413 370h10M468 449h10M474 425h10M544 461h10M553 467h10M522 483h10M463 423h10M485 492h10M430 519h10M486 374h10M519 441h10M428 423h10M565 446h10M549 521h10M523 262h10M484 443h10M465 386h10M466 391h10M566 373h10M526 475h10M528 395h10M499 346h10M422 347h10M491 352h10M486 439h10M486 449h10M569 341h10M510 408h10M500 308h10M507 259h10M522 367h10M436 330h10M502 384h10M480 516h10M495 449h10M541 353h10M467 303h10M467 485h10M496 485h10M468 415h10M489 360h10M535 487h10M488 395h10M531 427h10M543 367h10M437 415h10M436 429h10M487 488h10M476 494h10M471 498h10M580 457h10M389 511h10M539 414h10M537 497h10M431 388h10M406 359h10M419 428h10M518 432h10M506 452h10M501 479h10M474 453h10M503 364h10M473 414h10M455 421h10M508 425h10M503 417h10M447 370h10M462 333h10M492 345h10M410 405h10M394 462h10M487 463h10M445 327h10M484 444h10M513 531h10M492 310h10M568 420h10M461 290h10M489 317h10M450 312h10M533 435h10M420 381h10M423 343h10M472 399h10M452 384h10M509 367h10M506 376h10M541 428h10M445 442h10M455 309h10M434 394h10M495 398h10M496 487h10M409 309h10M593 320h10M488 388h10M516 330h10M437 345h10M476 431h10M462 514h10M472 398h10M533 455h10M538 336h10M441 438h10M491 430h10M510 454h10M524 346h10M434 264h10M463 426h10M476 406h10M508 341h10M428 363h10M477 494h10M515 476h10M496 388h10M484 451h10M448 268h10M484 314h10M446 437h10M485 494h10M474 410h10M535 354h10M403 411h10M460 346h10M492 454h10M480 382h10M471 433h10M473 432h10M460 461h10M476 285h10M558 366h10M499 428h10M538 536h10M479 353h10M540 395h10M492 449h10M444 358h10M433 423h10M505 488h10M479 482h10M506 502h10M525 314h10M519 430h10M516 387h10M544 536h10M438 410h10M536 350h10M518 416h10M610 446h10M556 431h10M518 384h10M435 438h10M427 368h10M512 389h10M565 542h10M485 499h10M504 338h10M528 364h10M478 482h10M504 418h10M509 357h10M514 413h10M481 310h10M524 412h10M514 341h10M505 371h10M480 278h10M429 344h10M495 366h10M469 285h10M430 413h10M541 436h10M465 471h10M491 277h10M428 442h10M500 389h10M474 426h10M530 479h10M505 460h10M454 431h10M464 401h10M511 327h10M520 383h10M502 372h10M519 303h10M540 480h10M543 376h10M569 310h10M475 450h10M493 422h10M428 170h10M404 381h10M471 520h10M419 446h10M532 264h10M546 392h10M550 453h10M497 320h10M504 382h10M473 479h10M591 477h10M472 261h10M557 364h10M480 433h10M486 434h10M526 469h10M474 350h10M535 365h10M534 483h10M553 403h10M443 275h10M437 465h10M470 221h10M522 430h10M520 429h10M443 417h10M411 372h10M473 420h10M534 418h10M513 496h10M504 373h10M499 417h10M450 414h10M462 312h10M472 325h10M449 420h10M464 433h10M480 444h10M464 340h10M524 493h10M475 355h10M558 428h10M474 405h10M446 459h10M454 462h10M445 332h10M497 336h10M451 469h10M457 416h10M533 362h10M451 330h10M455 368h10M479 327h10M482 291h10M550 413h10M507 487h10M562 375h10M572 380h10M463 387h10M536 454h10M435 417h10M468 449h10M486 429h10M427 327h10M498 433h10M541 518h10M506 465h10M457 246h10M517 407h10M453 471h10M589 505h10M485 521h10M512 291h10M519 490h10M471 422h10M493 361h10M473 369h10M551 321h10M423 360h10M473 425h10M489 357h10M483 459h10M413 409h10M483 509h10M493 421h10M519 320h10M533 348h10M529 465h10M411 521h10M535 388h10M483 493h10M435 461h10M522 396h10M468 300h10M505 471h10M490 409h10M458 419h10M480 449h10M585 464h10M515 301h10M559 375h10M511 443h10M437 438h10M421 319h10M497 372h10M507 376h10M531 269h10M530 381h10M544 460h10M449 393h10M507 544h10M452 407h10M449 365h10M540 346h10M492 462h10M466 513h10M524 417h10M432 315h10M393 415h10M516 445h10M456 348h10M523 278h10M491 377h10M492 440h10M468 359h10M495 448h10M459 531h10M457 330h10M481 446h10M393 291h10M483 415h10M464 386h10M492 489h10M528 391h10M436 298h10M513 466h10M522 478h10M487 472h10M444 398h10M524 327h10M477 384h10M508 219h10M418 354h10M475 299h10M507 481h10M477 491h10M434 311h10M493 446h10M475 427h10M512 371h10M533 452h10M537 445h10M472 309h10M521 459h10M535 509h10M532 500h10M488 396h10M457 466h10M485 344h10M492 489h10M472 456h10M464 335h10M516 412h10M478 404h10M538 328h10M515 387h10M472 355h10M494 491h10M515 391h10M536 449h10M529 346h10M500 447h10M522 398h10M467 480h10M531 393h10M425 276h10M512 457h10M529 334h10M502 464h10M426 228h10M503 429h10M513 430h10M558 504h10M456 303h10M507 391h10M568 502h10M499 384h10M509 444h10M422 439h10M490 526h10M443 408h10M489 354h10M518 403h10M424 289h10M538 373h10M435 343h10M470 304h10M443 241h10M478 488h10M475 283h10M419 342h10M514 466h10M497 379h10M500 368h10M606 497h10M521 399h10M594 435h10M413 335h10M516 518h10M498 502h10M547 525h10M463 454h10M577 329h10M452 384h10M488 511h10M466 278h10M548 390h10M478 389h10M441 406h10M536 258h10M541 307h10M492 334h10M474 421h10M516 409h10M484 407h10M611 353h10M517 454h10M456 373h10M481 400h10M469 361h10M519 443h10M399 300h10M473 437h10M530 382h10M479 440h10M508 366h10M484 420h10M410 421h10M465 203h10M433 481h10M465 248h10M472 390h10M504 389h10M525 392h10M505 481h10M470 393h10M513 461h10M502 500h10M527 373h10M449 434h10M469 497h10M540 390h10M451 320h10M461 390h10M469 400h10M590 412h10M457 385h10M442 354h10M531 395h10M527 458h10M447 474h10M486 496h10M488 274h10M535 370h10M517 343h10M456 433h10M474 447h10M526 374h10M527 302h10M477 364h10M502 534h10M432 270h10M511 447h10M557 420h10M478 336h10M418 468h10M531 398h10M461 393h10M467 369h10M419 367h10M474 399h10M442 360h10M491 473h10M477 419h10M456 479h10M478 404h10M497 320h10M473 352h10M526 459h10M499 449h10M471 422h10M469 434h10M449 430h10M485 352h10M548 415h10M471 331h10M559 431h10M525 339h10M545 457h10M504 507h10M501 339h10M464 394h10M473 225h10M578 468h10M582 386h10M493 357h10M495 365h10M563 442h10M518 392h10M504 353h10M491 448h10M508 272h10M510 412h10M432 338h10M472 354h10M467 414h10M505 378h10M490 308h10M479 333h10M452 435h10M552 431h10M450 306h10M595 360h10M461 447h10M442 433h10M521 404h10M527 376h10M501 454h10M465 271h10M445 488h10M522 475h10M396 383h10M572 414h10M516 394h10M544 430h10M445 353h10M532 431h10M410 334h10M544 342h10M492 429h10M475 387h10M433 397h10M550 450h10M540 412h10M516 327h10M395 516h10M534 235h10M515 443h10M501 342h10M518 458h10M521 466h10M443 380h10M507 346h10M522 410h10M503 389h10M614 481h10M479 326h10M513 432h10M478 363h10M421 353h10M461 413h10M484 455h10M515 438h10M533 411h10M549 441h10M519 288h10M437 518h10M428 355h10M510 417h10M523 364h10M453 306h10M482 381h10M466 355h10M449 411h10M583 475h10M499 478h10M503 512h10M518 406h10M416 388h10M488 479h10M522 454h10M490 431h10M454 385h10M479 297h10M431 356h10M471 388h10M430 333h10M448 423h10M498 474h10M461 470h10M435 398h10M561 434h10M475 282h10M561 385h10M468 277h10M538 446h10M441 398h10M460 407h10M500 447h10M494 431h10M547 460h10M497 356h10M466 292h10M473 434h10M475 444h10M423 393h10M568 536h10M539 403h10M500 406h10M537 478h10M485 357h10M459 397h10M448 435h10M495 488h10M466 338h10M528 456h10M521 428h10M503 385h10M485 423h10M507 355h10M470 302h10M472 310h10M474 335h10M491 395h10M585 467h10M473 320h10M446 491h10M526 371h10M500 465h10M438 432h10M571 350h10M468 380h10M525 347h10M483 410h10M469 339h10M450 436h10M502 352h10M445 499h10M563 530h10M475 422h10M411 445h10M461 384h10M556 410h10M451 422h10M374 327h10M439 430h10M509 432h10M582 457h10M489 423h10M546 466h10M514 469h10M464 450h10M503 448h10M441 462h10M484 430h10M532 461h10M472 414h10M495 347h10M489 424h10M544 428h10M501 243h10M469 505h10M486 443h10M479 440h10M496 498h10M456 412h10M495 323h10M507 406h10M509 417h10M526 401h10M492 413h10M502 505h10M512 435h10M521 367h10M502 412h10M590 311h10M458 412h10M504 464h10M503 433h10M492 300h10M449 430h10M496 433h10M460 394h10M470 472h10M488 408h10M529 502h10M570 369h10M594 543h10M502 342h10M456 273h10M488 490h10M461 383h10M413 414h10M572 353h10M478 397h10M524 475h10M438 365h10M517 385h10M435 300h10M505 458h10M460 360h10M517 438h10M517 308h10M499 457h10M379 315h10M516 399h10M533 420h10M485 428h10M539 443h10M529 332h10M485 430h10M494 494h10M570 436h10M460 434h10M460 467h10M512 508h10M467 481h10M546 376h10M459 528h10M460 377h10M456 289h10M494 437h10M545 453h10M542 480h10M446 438h10M491 327h10M510 327h10M480 391h10M510 236h10M460 458h10M517 410h10M429 249h10M460 494h10M570 345h10M525 327h10M414 398h10M479 354h10M504 408h10M472 305h10M463 511h10M544 317h10M429 437h10M445 341h10M521 433h10M546 457h10M510 450h10M456 468h10M508 525h10M518 407h10M448 306h10M469 416h10M471 352h10M578 453h10M551 452h10M573 460h10M383 495h10M501 468h10M515 447h10M535 365h10M499 467h10M441 365h10M568 431h10M479 334h10M522 429h10M544 488h10M450 343h10M514 518h10M495 333h10M557 443h10M523 457h10M457 399h10M512 327h10M444 413h10M497 385h10M435 431h10M84 431h10M95 404h10M221 366h10M171 406h10M157 358h10M225 406h10M78 309h10M208 425h10M160 335h10M175 440h10M122 308h10M163 320h10M188 259h10M183 269h10M80 458h10M101 357h10M132 413h10M122 466h10M168 413h10M237 249h10M107 412h10M212 429h10M170 296h10M211 450h10M212 411h10M124 389h10M262 304h10M156 317h10M156 310h10M164 404h10M132 395h10M118 338h10M162 263h10M96 275h10M175 350h10M144 281h10M153 378h10M178 304h10M176 323h10M178 282h10M111 386h10M124 505h10M166 262h10M188 345h10M220 295h10M229 351h10M131 353h10M191 295h10M172 408h10M154 396h10M167 357h10M165 384h10M175 326h10M190 356h10M247 355h10M188 450h10M128 405h10M137 329h10M206 335h10M135 354h10M176 403h10M190 360h10M103 373h10M181 328h10M157 358h10M124 469h10M248 334h10M102 353h10M138 383h10M234 364h10M159 335h10M227 360h10M158 364h10M171 422h10M182 384h10M263 336h10M115 443h10M192 406h10M159 271h10M127 479h10M111 331h10M168 346h10M205 397h10M148 349h10M204 335h10M200 314h10M114 433h10M188 307h10M204 301h10M232 347h10M101 384h10M181 369h10M154 346h10M214 329h10M125 320h10M138 314h10M236 281h10M127 329h10M142 300h10M225 312h10M102 439h10M178 423h10M135 419h10M143 383h10M153 382h10M179 334h10M205 398h10M179 478h10M167 347h10M148 278h10M198 358h10M153 354h10M134 288h10M58 420h10M152 315h10M251 260h10M193 326h10M196 376h10M176 369h10M180 352h10M78 397h10M163 352h10M158 305h10M125 389h10M258 322h10M230 284h10M153 391h10M182 296h10M252 366h10M183 324h10M183 397h10M243 338h10M134 361h10M202 437h10M238 429h10M181 393h10M197 340h10M100 427h10M171 396h10M192 357h10M201 353h10M146 403h10M111 433h10M126 373h10M207 356h10M262 331h10M147 298h10M185 296h10M250 350h10M69 396h10M172 391h10M175 397h10M173 410h10M220 380h10M115 403h10M178 377h10M123 372h10M134 324h10M207 347h10M124 351h10M192 431h10M146 328h10M229 398h10M194 317h10M172 376h10M267 342h10M249 325h10M163 365h10M131 303h10M274 366h10M159 423h10M188 329h10M154 351h10M147 455h10M182 398h10M163 321h10M64 365h10M158 418h10M120 420h10M143 330h10M154 349h10M126 441h10M214 422h10M198 350h10M190 352h10M170 360h10M212 308h10M158 264h10M181 315h10M180 415h10M169 349h10M209 300h10M182 361h10M150 424h10M253 245h10M214 382h10M186 290h10M187 377h10M48 386h10M144 427h10M175 449h10M220 348h10M191 312h10M196 348h10M181 326h10M179 327h10M159 428h10M164 455h10M222 301h10M142 371h10M112 352h10M204 326h10M190 355h10M138 433h10M148 353h10M67 369h10M188 275h10M139 398h10M156 322h10M231 381h10M182 357h10M209 311h10M219 278h10M191 342h10M85 368h10M134 424h10M222 300h10M234 301h10M165 359h10M209 419h10M289 298h10M144 279h10M151 270h10M161 337h10M144 324h10M199 388h10M174 391h10M201 366h10M85 416h10M156 341h10M112 350h10M139 351h10M176 414h10M158 273h10M112 500h10M157 330h10M185 443h10M219 368h10M198 307h10M241 306h10M68 354h10M201 381h10M153 407h10M248 421h10M190 393h10M238 382h10M67 342h10M217 379h10M136 372h10M152 356h10M109 347h10M204 384h10M87 351h10M174 277h10M129 387h10M221 339h10M156 321h10M145 357h10M163 445h10M58 330h10M231 460h10M167 339h10M198 399h10M191 359h10M164 356h10M183 322h10M194 301h10M249 314h10M142 373h10M146 391h10M215 344h10M161 358h10M174 371h10M185 338h10M221 299h10M167 445h10M63 406h10M95 443h10M180 409h10M188 277h10M111 380h10M172 407h10M233 390h10M217 421h10M297 306h10M67 416h10M115 490h10M354 421h10M477 401h10M190 454h10M342 414h10M216 446h10M163 429h10M368 470h10M407 421h10M393 387h10M398 451h10M351 399h10M325 416h10M362 446h10M295 466h10M373 415h10M252 415h10M374 425h10M189 450h10M368 409h10M340 461h10M297 375h10M408 459h10M114 391h10M355 425h10M441 403h10M295 423h10M171 374h10M209 377h10M404 406h10M171 447h10M318 478h10M329 390h10M282 433h10M315 507h10M280 507h10M227 428h10M195 416h10M260 489h10M237 448h10M74 442h10M85 387h10M418 398h10M399 413h10M368 394h10M202 448h10M257 346h10M308 422h10M403 456h10M329 393h10M215 426h10M411 405h10M275 419h10M344 515h10M595 407h10M237 383h10M237 482h10M362 387h10M192 447h10M220 394h10M265 395h10M246 412h10M258 426h10M268 406h10M188 439h10M214 470h10M449 423h10M302 442h10M335 469h10M222 474h10M183 384h10M103 448h10M336 454h10M468 503h10M284 407h10M351 473h10M237 453h10M162 458h10M79 394h10M264 449h10M110 441h10M267 483h10M494 436h10M278 391h10M150 418h10M158 415h10M207 470h10M282 410h10M283 443h10M228 418h10M245 468h10M269 501h10M471 417h10M277 412h10M312 462h10M339 429h10M395 394h10M356 488h10M277 393h10M118 413h10M223 452h10M270 458h10M291 459h10M262 390h10M255 439h10M318 456h10M180 503h10M287 431h10M255 391h10M480 422h10M137 413h10M336 378h10M267 413h10M143 433h10M168 386h10M427 414h10M430 423h10M287 515h10M513 467h10M219 391h10M227 386h10M162 441h10M132 420h10M302 394h10M410 498h10M309 439h10M419 410h10M374 434h10M276 439h10M163 477h10M324 416h10M219 464h10M284 400h10M387 513h10M275 479h10M349 536h10M261 451h10M334 376h10M315 450h10M447 487h10M316 408h10M132 411h10M304 407h10M158 460h10M249 353h10M274 444h10M353 375h10M167 403h10M279 424h10M316 454h10M273 433h10M280 383h10M270 376h10M228 473h10M390 447h10M382 334h10M263 395h10M299 409h10M254 415h10M376 464h10M538 409h10M361 429h10M403 431h10M405 481h10M250 386h10M169 419h10M241 495h10M289 454h10M350 429h10M349 431h10M237 446h10M130 385h10M255 433h10M447 452h10M182 477h10M421 422h10M238 471h10M301 445h10M440 429h10M269 442h10M296 401h10M354 414h10M268 497h10M252 438h10M272 384h10M287 422h10M299 400h10M254 459h10M128 477h10M428 500h10M140 387h10M229 408h10M336 452h10M480 445h10M358 354h10M256 420h10M204 415h10M130 431h10M345 441h10M303 428h10M253 390h10M480 488h10M262 501h10M266 415h10M345 392h10M338 436h10M43 343h10M430 407h10M177 403h10M393 359h10M273 384h10M193 443h10M375 331h10M278 435h10M236 428h10M301 423h10M215 462h10M151 419h10M331 402h10M317 457h10M225 444h10M505 424h10M181 436h10M124 412h10M368 465h10M107 518h10M115 432h10M310 421h10M327 447h10M461 472h10M408 445h10M179 493h10M250 384h10M392 454h10M404 424h10M366 450h10M285 461h10M298 449h10M220 480h10M371 325h10M356 430h10M329 421h10M256 470h10M280 475h10M206 430h10M285 347h10M310 424h10M230 457h10M256 430h10M234 501h10M236 335h10M157 439h10M302 401h10M378 344h10M247 503h10M258 444h10M249 466h10M157 439h10M238 458h10M310 424h10M120 465h10M378 485h10M352 368h10M250 405h10M378 392h10M204 483h10M276 464h10M231 404h10M269 399h10M283 403h10M321 408h10M320 414h10M303 441h10M224 486h10M395 450h10M236 346h10M41 421h10M441 466h10M263 461h10M301 390h10M473 379h10M461 405h10M171 430h10M196 417h10M183 443h10M349 419h10M360 391h10M321 465h10M345 403h10M387 412h10M310 426h10M380 481h10M263 410h10M159 435h10M211 419h10M411 445h10M219 406h10M316 443h10M113 396h10M262 395h10M171 343h10M152 462h10M410 388h10M377 381h10M347 412h10M302 467h10M311 471h10M217 479h10M375 350h10M266 419h10M288 431h10M299 396h10M198 450h10M110 366h10M224 462h10M225 354h10M162 454h10M94 374h10M238 329h10M318 395h10M442 441h10M282 391h10M250 385h10M336 380h10M290 373h10M391 385h10M373 394h10M106 446h10M189 483h10M289 482h10M388 394h10M152 455h10M156 428h10M102 422h10M319 378h10M259 405h10M338 400h10M277 373h10M261 505h10M239 451h10M360 469h10M289 477h10M214 443h10M132 425h10M324 416h10M262 460h10M207 442h10M292 437h10M226 530h10M282 422h10M343 365h10M389 462h10M271 502h10M235 334h10M240 415h10M247 421h10M207 407h10M235 457h10M401 462h10M369 370h10M165 414h10M310 418h10M329 489h10M313 479h10M326 475h10M216 383h10M342 457h10M436 387h10M309 376h10M415 417h10M374 416h10M153 397h10M221 421h10M409 466h10M371 458h10M312 471h10M470 444h10M395 414h10M353 384h10M276 386h10M257 454h10M343 485h10M236 364h10M284 472h10M365 369h10M518 221h10M360 375h10M514 280h10M426 368h10M488 196h10M508 255h10M462 371h10M453 273h10M461 371h10M387 318h10M518 276h10M533 227h10M424 349h10M392 214h10M449 334h10M490 407h10M465 351h10M393 348h10M287 358h10M510 359h10M400 423h10M333 359h10M506 317h10M460 196h10M507 385h10M345 297h10M528 325h10M431 292h10M395 426h10M471 264h10M464 169h10M449 304h10M426 357h10M373 243h10M439 171h10M510 305h10M425 414h10M474 327h10M467 403h10M567 349h10M471 256h10M463 364h10M423 286h10M402 360h10M524 250h10M320 205h10M529 387h10M529 289h10M434 238h10M428 306h10M557 374h10M426 221h10M395 298h10M465 136h10M425 283h10M494 355h10M465 394h10M489 209h10M447 294h10M424 302h10M469 227h10M464 427h10M567 368h10M446 235h10M526 337h10M416 227h10M411 388h10M419 327h10M462 459h10M495 288h10M426 180h10M496 304h10M367 258h10M526 381h10M431 237h10M435 382h10M459 272h10M460 349h10M380 224h10M457 351h10M428 290h10M357 317h10M421 505h10M383 402h10M511 300h10M467 274h10M448 316h10M462 330h10M477 302h10M521 318h10M415 324h10M605 277h10M424 382h10M419 242h10M417 342h10M462 351h10M419 360h10M467 371h10M442 184h10M401 331h10M537 348h10M536 366h10M491 363h10M437 336h10M462 346h10M455 201h10M530 275h10M464 287h10M518 215h10M436 469h10M485 353h10M527 221h10M450 386h10M604 194h10M437 391h10M284 393h10M421 183h10M410 387h10M464 375h10M473 290h10M442 293h10M536 398h10M513 333h10M397 377h10M245 302h10M525 366h10M504 276h10M350 233h10M575 332h10M468 426h10M538 346h10M445 162h10M392 281h10M485 347h10M582 249h10M290 294h10M430 300h10M467 478h10M492 352h10M425 259h10M425 338h10M499 369h10M497 298h10M470 240h10M486 273h10M423 383h10M590 212h10M454 272h10M352 312h10M451 480h10M491 350h10M447 264h10M441 277h10M472 351h10M474 252h10M462 328h10M390 189h10M448 339h10M411 485h10M561 349h10M454 175h10M429 331h10M345 344h10M455 133h10M512 229h10M516 239h10M411 281h10M463 228h10M470 272h10M485 401h10M530 342h10M343 227h10M455 435h10M449 394h10M344 277h10M408 441h10M498 325h10M464 265h10M421 357h10M397 315h10M395 276h10M567 350h10M435 343h10M436 341h10M590 195h10" stroke="#000" stroke-width="10" stroke-opacity="0.42" fill="none" filter="url(#sf)"/>
<rect x="219.5" y="478.9" width="62.80000000000001" height="55.60000000000002" fill="none" stroke="#000" stroke-width="1.1"/>
<path d="M251.5 478.9V534.5M219.5 515.4H282.3" stroke="#000" stroke-width="1.1" fill="none"/>
<path d="M220.3 478.9V534.5" stroke="#000" stroke-width="1.9" stroke-dasharray="2.3 0.5 1.2 0.4" stroke-opacity="0.88" fill="none"/>
<path d="M219.5 535.1H282.3" stroke="#000" stroke-width="1.0" stroke-dasharray="1.3 1.5" stroke-opacity="0.7" fill="none"/>
<text x="278.8" y="488.4" font-size="7.4" text-anchor="end" font-family="Liberation Serif, Times New Roman, serif" stroke="#000" stroke-width="0.15">16</text>
<g filter="url(#st)"><rect x="304.5" y="478.9" width="62.80000000000001" height="55.60000000000002" fill="#000" fill-opacity="0.001"/>
<ellipse cx="320.2" cy="518.9" rx="8.2" ry="8.9" fill="url(#g1)" opacity="0.85" transform="rotate(-35 320.2 518.9)"/>
<ellipse cx="323.3" cy="509.5" rx="4.4" ry="5.6" fill="url(#g1)" opacity="0.5" transform="rotate(-20 323.3 509.5)"/>
<ellipse cx="334.0" cy="522.3" rx="12.6" ry="6.1" fill="url(#g1)" opacity="0.5" transform="rotate(0 334.0 522.3)"/>
<ellipse cx="347.2" cy="522.3" rx="8.2" ry="5.6" fill="url(#g1)" opacity="0.3" transform="rotate(0 347.2 522.3)"/>
<ellipse cx="345.3" cy="509.5" rx="10.0" ry="10.0" fill="url(#g1)" opacity="0.1" transform="rotate(0 345.3 509.5)"/>
</g>
<ellipse cx="318.9" cy="520.0" rx="3.8" ry="4.4" fill="url(#g1)" opacity="0.4" transform="rotate(-35 318.9 520.0)"/>
<path transform="translate(304.5 478.9) scale(0.1)" d="M126 421h10M184 382h10M158 411h10M157 409h10M178 374h10M127 434h10M202 348h10M163 457h10M182 436h10M180 343h10M131 377h10M183 328h10M107 431h10M160 363h10M160 409h10M153 390h10M221 342h10M186 414h10M159 370h10M84 426h10M121 354h10M198 342h10M129 418h10M79 474h10M106 425h10M99 350h10M139 437h10M121 419h10M96 429h10M182 348h10M176 347h10M122 379h10M194 358h10M152 408h10M174 384h10M166 393h10M72 430h10M107 461h10M124 384h10M68 430h10M86 401h10M183 396h10M128 439h10M119 424h10M132 351h10M139 417h10M187 442h10M125 415h10M159 412h10M185 387h10M128 407h10M247 328h10M133 415h10M131 432h10M231 306h10M238 344h10M207 329h10M167 358h10M100 429h10M176 401h10M150 343h10M172 395h10M153 326h10M135 362h10M129 445h10M94 463h10M163 409h10M98 419h10M172 366h10M278 412h10M169 418h10M93 467h10M182 379h10M192 365h10M179 349h10M175 397h10M172 369h10M154 423h10M173 391h10M155 400h10M153 415h10M139 440h10M187 388h10M175 370h10M173 386h10M156 471h10M86 429h10M154 411h10M252 363h10M197 432h10M159 413h10M185 400h10M127 435h10M125 356h10M257 417h10M146 360h10M186 498h10M184 385h10M153 437h10M110 439h10M216 345h10M208 369h10M135 353h10M147 439h10M86 419h10M192 364h10M173 425h10M189 316h10M123 464h10M225 349h10M80 475h10M149 378h10M145 428h10M175 374h10M195 438h10M147 437h10M147 455h10M171 414h10M105 408h10M197 375h10M183 463h10M226 444h10M128 372h10M124 477h10M115 426h10M127 455h10M139 392h10M160 472h10M187 341h10M168 391h10M235 313h10M44 436h10M142 360h10M164 350h10M165 404h10M155 379h10M223 320h10M125 398h10M124 442h10M152 430h10M93 389h10M216 367h10M138 356h10M209 317h10M158 343h10M215 318h10M72 416h10M217 333h10M72 440h10M147 362h10M98 403h10M162 380h10M214 431h10M193 361h10M205 363h10M261 351h10M171 335h10M187 434h10M152 404h10M90 369h10M174 335h10M218 414h10M134 436h10M167 434h10M197 392h10M162 440h10M102 503h10M179 358h10M142 360h10M157 404h10M174 401h10M196 410h10M171 382h10M213 332h10M136 485h10M229 375h10M186 458h10M156 425h10M186 380h10M199 436h10M203 395h10M194 386h10M162 340h10M157 346h10M110 494h10M186 419h10M251 353h10M216 290h10M143 367h10M182 351h10M172 400h10M197 395h10M151 387h10M153 444h10M85 402h10M140 344h10M207 437h10M166 334h10M135 428h10M223 363h10M178 418h10M111 515h10M144 400h10M154 366h10M222 404h10M153 415h10M192 338h10M122 380h10M216 460h10M178 390h10M107 392h10M87 437h10M198 292h10M126 425h10M151 393h10M220 387h10M185 367h10M171 378h10M158 412h10M155 357h10M104 388h10M158 427h10M164 370h10M143 429h10M100 483h10M173 374h10M172 384h10M128 405h10M275 367h10M139 369h10M156 438h10M117 458h10M201 359h10M202 313h10M153 361h10M163 348h10M122 462h10M141 408h10M137 399h10M218 397h10M202 377h10M134 489h10M175 337h10M290 321h10M186 359h10M150 488h10M172 406h10M133 454h10M155 421h10M123 435h10M116 424h10M141 396h10M189 392h10M124 373h10M93 375h10M134 328h10M127 444h10M197 385h10M237 338h10M202 447h10M220 349h10M136 444h10M181 350h10M175 392h10M207 371h10M172 380h10M192 342h10M208 317h10M112 378h10M215 303h10M160 387h10M58 431h10M59 444h10M109 432h10M273 360h10M195 375h10M166 392h10M163 392h10M148 410h10M175 289h10M183 408h10M185 411h10M94 390h10M200 389h10M182 405h10M173 401h10M116 383h10M209 349h10M180 439h10M166 413h10M92 469h10M101 427h10M125 322h10M112 354h10M104 416h10M213 357h10M162 416h10M208 414h10M118 464h10M213 374h10M124 481h10M148 366h10M123 421h10M148 374h10M218 332h10M172 409h10M233 335h10M162 336h10M230 382h10M127 386h10M144 442h10M152 332h10M153 448h10M177 350h10M135 378h10M134 420h10M170 377h10M168 444h10M125 364h10M95 380h10M244 326h10M145 430h10M129 417h10M187 389h10M172 371h10M143 335h10M151 353h10M142 414h10M127 424h10M149 457h10M127 391h10M144 379h10M175 389h10M203 385h10M110 458h10M149 412h10M175 369h10M154 380h10M136 421h10M150 453h10M100 489h10M160 387h10M122 439h10M168 400h10M134 401h10M134 418h10M180 385h10M84 455h10M187 376h10M142 460h10M135 475h10M133 370h10M172 477h10M210 398h10M169 437h10M203 367h10M117 314h10M149 428h10M213 355h10M146 519h10M88 398h10M175 376h10M212 338h10M119 402h10M154 393h10M186 355h10M176 441h10M82 391h10M141 405h10M172 437h10M59 432h10M222 405h10M168 385h10M170 384h10M156 382h10M184 403h10M110 341h10M208 388h10M243 374h10M170 377h10M129 479h10M157 451h10M99 440h10M106 375h10M238 426h10M61 456h10M175 400h10M110 447h10M165 374h10M188 332h10M86 423h10M148 377h10M176 372h10M132 389h10M124 380h10M185 400h10M148 416h10M158 303h10M168 396h10M121 453h10M185 351h10M141 436h10M259 338h10M237 406h10M203 429h10M265 282h10M162 446h10M166 340h10M129 450h10M188 417h10M96 362h10M147 397h10M194 316h10M173 368h10M208 405h10M233 414h10M109 486h10M179 399h10M175 357h10M104 457h10M122 383h10M120 489h10M159 428h10M177 329h10M158 362h10M172 423h10M190 377h10M178 464h10M110 392h10M165 435h10M218 367h10M101 379h10M48 506h10M140 375h10M149 373h10M160 360h10M155 404h10M156 441h10M151 443h10M98 442h10M179 418h10M158 434h10M137 442h10M151 414h10M141 449h10M178 405h10M206 345h10M274 360h10M136 346h10M174 382h10M87 462h10M230 338h10M88 470h10M183 406h10M225 289h10M132 385h10M215 279h10M125 460h10M125 418h10M103 462h10M123 440h10M198 296h10M184 427h10M118 459h10M103 451h10M81 416h10M121 447h10M107 521h10M244 417h10M176 429h10M181 354h10M92 441h10M133 344h10M139 381h10M22 437h10M177 386h10M158 366h10M203 459h10M58 449h10M213 382h10M181 380h10M174 374h10M146 310h10M84 343h10M171 455h10M184 404h10M121 404h10M158 320h10M156 420h10M158 327h10M194 325h10M106 489h10M203 422h10M196 467h10M149 390h10M94 443h10M128 419h10M133 403h10M116 419h10M166 379h10M218 336h10M188 385h10M98 423h10M115 441h10M183 411h10M67 477h10M191 344h10M138 411h10M59 519h10M210 460h10M197 355h10M187 420h10M140 331h10M239 337h10M161 447h10M230 464h10M159 466h10M196 344h10M202 417h10M250 372h10M213 340h10M146 406h10M146 485h10M164 360h10M147 396h10M235 372h10M232 319h10M168 471h10M151 443h10M215 403h10M163 424h10M126 447h10M174 369h10M127 485h10M83 475h10M194 402h10M182 426h10M130 414h10M143 394h10M185 326h10M115 435h10M141 423h10M138 411h10M184 371h10M149 408h10M133 427h10M166 382h10M168 445h10M194 389h10M119 479h10M224 409h10M138 387h10M197 440h10M140 469h10M176 345h10M116 431h10M194 353h10M226 357h10M388 401h10M180 451h10M305 423h10M247 433h10M282 414h10M371 419h10M230 442h10M241 352h10M293 441h10M116 455h10M351 401h10M245 486h10M164 428h10M331 445h10M262 418h10M355 401h10M215 420h10M298 461h10M323 452h10M228 397h10M372 475h10M199 397h10M305 419h10M324 471h10M334 411h10M181 457h10M248 440h10M349 432h10M334 371h10M273 410h10M397 356h10M233 443h10M188 424h10M186 500h10M279 417h10M254 408h10M138 382h10M376 499h10M328 443h10M341 376h10M322 479h10M234 458h10M283 486h10M430 383h10M259 412h10M235 400h10M325 374h10M299 436h10M295 408h10M346 508h10M257 447h10M366 429h10M322 421h10M352 495h10M306 422h10M278 401h10M351 401h10M311 417h10M334 401h10M316 426h10M335 462h10M243 427h10M251 438h10M326 433h10M299 371h10M321 398h10M287 412h10M299 465h10M361 404h10M375 432h10M285 427h10M235 505h10M318 445h10M237 418h10M324 392h10M306 419h10M249 448h10M266 512h10M270 443h10M258 459h10M285 437h10M326 524h10M358 431h10M251 378h10M286 296h10M419 473h10M317 390h10M267 425h10M329 442h10M311 476h10M187 435h10M300 440h10M345 407h10M253 419h10M353 382h10M214 390h10M296 416h10M386 470h10M291 413h10M264 437h10M348 512h10M311 311h10M242 447h10M270 407h10M386 457h10M266 447h10M288 461h10M222 385h10M219 462h10M257 427h10M283 420h10M337 444h10M238 403h10M233 468h10M368 459h10M318 382h10M259 402h10M300 431h10M260 426h10M332 482h10M239 361h10M378 405h10M393 478h10M229 443h10M218 437h10M366 385h10M256 419h10M310 405h10M275 445h10M183 462h10M301 365h10M436 419h10M309 413h10M314 456h10M224 426h10M344 436h10M451 403h10M309 437h10M197 446h10M300 456h10M204 399h10M229 426h10M303 442h10M401 412h10M267 459h10M142 507h10M308 532h10M179 456h10M325 445h10M200 460h10M316 383h10M280 390h10M248 413h10M278 426h10M396 395h10M144 445h10M353 428h10M317 371h10M311 462h10M322 412h10M338 385h10M209 377h10M249 381h10M342 449h10M288 533h10M326 364h10M369 446h10M274 448h10M183 496h10M240 475h10M200 405h10M334 403h10M311 392h10M314 490h10M253 367h10M366 407h10M266 455h10M241 423h10M341 410h10M284 437h10M272 448h10M260 405h10M303 542h10M285 532h10M255 499h10M280 473h10M338 461h10M335 369h10M243 463h10M250 486h10M277 344h10M284 395h10M280 452h10M273 458h10M184 380h10M314 464h10M332 411h10M372 379h10M246 471h10M273 363h10M415 436h10M398 432h10M255 441h10M269 471h10M377 432h10M240 374h10M243 463h10M305 368h10M246 377h10M286 394h10M293 427h10M249 422h10M383 424h10M340 390h10M179 394h10M305 410h10M328 465h10M288 415h10M296 425h10M247 408h10M267 447h10M247 435h10M239 408h10M389 423h10M305 455h10M258 409h10M169 383h10M249 356h10M302 422h10M323 455h10M383 450h10M341 371h10M244 383h10M217 495h10M248 481h10M330 458h10M312 377h10M248 357h10M324 435h10M278 434h10M204 397h10M329 413h10M334 471h10M256 433h10M298 415h10M222 437h10M280 480h10M194 415h10M286 443h10M325 428h10M367 417h10M337 436h10M300 401h10M347 394h10M300 456h10M324 494h10M167 424h10M234 373h10M337 432h10M359 446h10M194 445h10M282 432h10M274 434h10M375 472h10M95 421h10M293 476h10M180 387h10M295 466h10M375 347h10M363 381h10M247 424h10M287 436h10M290 454h10M297 396h10M240 526h10M368 453h10M267 362h10M268 430h10M214 411h10M342 421h10M232 413h10M244 378h10M342 402h10M208 413h10M350 445h10M229 447h10M373 385h10M212 506h10M329 389h10M258 423h10M226 412h10M228 472h10M309 457h10M202 461h10M409 384h10M281 443h10M171 414h10M379 393h10M258 405h10M276 383h10M235 409h10M184 427h10M391 464h10M290 405h10M313 375h10M319 488h10M342 399h10M288 437h10M313 452h10M235 445h10M462 442h10M342 496h10M506 519h10M468 380h10M396 510h10M401 454h10M340 456h10M414 422h10M377 430h10M433 497h10M445 401h10M357 463h10M438 473h10M478 394h10M505 396h10M425 385h10M469 400h10M454 417h10M359 470h10M430 410h10M433 474h10M368 450h10M518 399h10M454 364h10M337 436h10M437 437h10M536 403h10M366 437h10M392 432h10M361 491h10M374 465h10M406 385h10M440 385h10M464 490h10M357 422h10M372 474h10M410 432h10M370 471h10M513 460h10M366 436h10M428 411h10M412 502h10M377 389h10M412 405h10M445 412h10M452 424h10M442 417h10M394 476h10M420 419h10M306 459h10M458 437h10M271 391h10M302 396h10M359 413h10M521 384h10M482 457h10M416 437h10M465 395h10M447 441h10M304 379h10M411 460h10M529 440h10M323 381h10M416 449h10M337 424h10M410 482h10M423 483h10M373 500h10M379 348h10M381 482h10M495 458h10M371 436h10M515 490h10M282 389h10M331 423h10M398 433h10M521 429h10M381 474h10M331 522h10M433 351h10M426 414h10M475 464h10M443 411h10M518 408h10M528 405h10M353 409h10M425 448h10M503 448h10M425 462h10M427 450h10M487 425h10M420 449h10M381 340h10M347 427h10M357 477h10M450 440h10M359 483h10M374 450h10M512 403h10M381 473h10M479 470h10M398 375h10M539 397h10M497 493h10M388 416h10M404 442h10M318 392h10M368 395h10M438 408h10M513 478h10M512 444h10M343 485h10M328 423h10M489 410h10M397 407h10M466 414h10M356 439h10M392 388h10M494 437h10M409 453h10M503 431h10M494 435h10M414 427h10M472 469h10M439 425h10M363 400h10M360 453h10M373 501h10M340 390h10M330 456h10M385 420h10M382 486h10M327 486h10M389 509h10M401 369h10M466 439h10M341 376h10M462 441h10M419 420h10M375 468h10M297 456h10M457 436h10M438 502h10M429 429h10M437 539h10M300 433h10M292 427h10M448 427h10M364 489h10M393 412h10M401 418h10M452 473h10M401 437h10M426 459h10M380 411h10M440 376h10M345 447h10M338 449h10M362 422h10M507 467h10M371 436h10M430 505h10M401 485h10M403 337h10M429 419h10M398 436h10M429 431h10M364 399h10M431 399h10M421 377h10M348 460h10M391 409h10M329 428h10M362 469h10M336 416h10M413 449h10M396 480h10M359 486h10M345 360h10M350 422h10M441 508h10M491 433h10M390 407h10M481 466h10M378 424h10M335 497h10M272 315h10M218 263h10M193 261h10M239 307h10M127 254h10M180 317h10M151 245h10M190 229h10M120 159h10M140 240h10M280 233h10M178 312h10M157 301h10M132 359h10M221 188h10M173 247h10M130 235h10M143 234h10M248 246h10M187 260h10M178 279h10M233 303h10M202 312h10M233 245h10M255 199h10M220 251h10M166 264h10M141 292h10M186 213h10M187 342h10M103 313h10M190 359h10M114 238h10M187 366h10M196 293h10M131 289h10M137 261h10M124 233h10M153 178h10M318 233h10M201 235h10M190 259h10M121 337h10M300 348h10M180 241h10M132 361h10M146 268h10M183 329h10M217 198h10M230 252h10M206 278h10M269 285h10M143 202h10M198 270h10M201 227h10M151 247h10M215 260h10M250 314h10M178 324h10M181 247h10M173 293h10M253 175h10M135 290h10M210 302h10M204 199h10M223 296h10M187 256h10M201 300h10M138 228h10M161 235h10M179 280h10M183 359h10M232 345h10M265 232h10M254 331h10M135 285h10M179 258h10M184 280h10M153 307h10M179 416h10M221 314h10M161 288h10M175 368h10M158 302h10M224 303h10M235 248h10M121 279h10M134 243h10M212 219h10M168 303h10M187 222h10M196 315h10M222 222h10M420 378h10M411 159h10M358 308h10M454 207h10M372 352h10M335 365h10M290 246h10M385 277h10M417 383h10M306 327h10M411 273h10M386 370h10M463 338h10M382 264h10M362 197h10M405 289h10M426 420h10M450 349h10M276 307h10M435 343h10M382 309h10M442 261h10M345 312h10M444 198h10M361 249h10M323 338h10M411 203h10M482 241h10M338 253h10M429 358h10M472 334h10M425 336h10M441 249h10M554 274h10M505 426h10M396 273h10M438 205h10M400 299h10M261 266h10M416 315h10M361 349h10M544 359h10M370 408h10" stroke="#000" stroke-width="10" stroke-opacity="0.42" fill="none" filter="url(#sf)"/>
<rect x="304.5" y="478.9" width="62.80000000000001" height="55.60000000000002" fill="none" stroke="#000" stroke-width="1.1"/>
<path d="M336.5 478.9V534.5M304.5 515.4H367.3" stroke="#000" stroke-width="1.1" fill="none"/>
<path d="M305.3 478.9V534.5" stroke="#000" stroke-width="1.9" stroke-dasharray="2.3 0.5 1.2 0.4" stroke-opacity="0.88" fill="none"/>
<path d="M304.5 535.1H367.3" stroke="#000" stroke-width="1.0" stroke-dasharray="1.3 1.5" stroke-opacity="0.7" fill="none"/>
<text x="363.8" y="488.4" font-size="7.4" text-anchor="end" font-family="Liberation Serif, Times New Roman, serif" stroke="#000" stroke-width="0.15">4</text>
<g filter="url(#st)"><rect x="389.4" y="478.9" width="62.80000000000001" height="55.60000000000002" fill="#000" fill-opacity="0.001"/>
<ellipse cx="403.8" cy="520.6" rx="9.4" ry="9.5" fill="url(#g1)" opacity="0.95" transform="rotate(-35 403.8 520.6)"/>
<ellipse cx="410.1" cy="510.6" rx="5.7" ry="6.1" fill="url(#g1)" opacity="0.6" transform="rotate(-35 410.1 510.6)"/>
<ellipse cx="407.0" cy="506.7" rx="9.4" ry="12.2" fill="url(#g1)" opacity="0.3" transform="rotate(0 407.0 506.7)"/>
<ellipse cx="417.7" cy="522.3" rx="10.0" ry="6.7" fill="url(#g1)" opacity="0.4" transform="rotate(0 417.7 522.3)"/>
<ellipse cx="428.3" cy="522.8" rx="5.0" ry="4.4" fill="url(#g1)" opacity="0.12" transform="rotate(0 428.3 522.8)"/>
</g>
<ellipse cx="403.2" cy="521.7" rx="5.0" ry="5.6" fill="url(#g1)" opacity="0.6" transform="rotate(-35 403.2 521.7)"/>
<path transform="translate(389.4 478.9) scale(0.1)" d="M191 377h10M93 431h10M160 512h10M136 465h10M122 415h10M185 369h10M141 390h10M105 501h10M137 407h10M135 425h10M151 412h10M110 452h10M96 476h10M120 427h10M111 476h10M127 404h10M107 425h10M115 447h10M66 450h10M70 447h10M200 433h10M137 433h10M177 367h10M171 391h10M73 473h10M188 363h10M238 395h10M142 414h10M181 477h10M103 440h10M139 403h10M146 343h10M93 491h10M146 426h10M194 341h10M135 438h10M155 402h10M149 489h10M160 475h10M175 371h10M118 392h10M96 425h10M146 397h10M229 420h10M164 432h10M118 408h10M122 420h10M183 463h10M122 331h10M153 395h10M173 378h10M116 426h10M174 407h10M138 483h10M155 405h10M81 492h10M96 437h10M55 440h10M196 417h10M120 459h10M204 402h10M211 355h10M94 494h10M94 443h10M156 430h10M181 410h10M91 519h10M186 466h10M133 449h10M161 422h10M124 504h10M139 427h10M107 441h10M127 426h10M194 379h10M179 449h10M211 376h10M155 385h10M142 426h10M105 453h10M165 387h10M117 517h10M104 368h10M143 358h10M189 427h10M132 395h10M150 408h10M196 352h10M116 498h10M99 460h10M70 454h10M122 393h10M123 433h10M93 395h10M138 441h10M104 444h10M108 499h10M178 388h10M209 410h10M111 355h10M110 462h10M112 410h10M264 374h10M66 468h10M98 368h10M269 465h10M144 432h10M134 461h10M184 336h10M117 351h10M174 335h10M96 445h10M186 374h10M73 438h10M173 397h10M139 422h10M146 403h10M117 415h10M126 392h10M120 396h10M207 372h10M220 391h10M198 471h10M151 389h10M179 392h10M54 420h10M107 446h10M155 420h10M161 401h10M172 385h10M116 487h10M155 385h10M129 416h10M203 352h10M75 505h10M109 444h10M98 414h10M84 425h10M148 433h10M127 475h10M183 378h10M147 404h10M147 401h10M112 472h10M214 351h10M136 412h10M99 515h10M225 393h10M219 354h10M195 394h10M217 362h10M124 471h10M85 452h10M108 382h10M173 418h10M83 442h10M140 479h10M161 421h10M159 379h10M86 450h10M55 447h10M114 416h10M212 411h10M99 403h10M124 398h10M95 470h10M131 435h10M126 419h10M231 415h10M147 457h10M140 431h10M163 405h10M112 424h10M176 434h10M156 387h10M132 410h10M93 420h10M131 409h10M144 443h10M66 520h10M101 386h10M124 403h10M156 423h10M132 450h10M144 415h10M91 471h10M204 398h10M103 415h10M164 389h10M260 388h10M61 473h10M166 369h10M228 371h10M160 370h10M136 451h10M163 375h10M130 438h10M130 435h10M196 377h10M186 447h10M193 421h10M117 481h10M140 463h10M123 466h10M104 463h10M201 432h10M191 397h10M108 472h10M163 379h10M202 375h10M47 440h10M138 383h10M98 434h10M119 477h10M102 506h10M118 408h10M101 426h10M143 402h10M92 442h10M107 403h10M124 396h10M51 431h10M141 431h10M100 460h10M52 521h10M128 461h10M171 456h10M124 384h10M118 482h10M222 436h10M114 432h10M147 457h10M228 411h10M167 431h10M179 420h10M154 359h10M140 396h10M115 410h10M200 376h10M111 433h10M69 464h10M112 407h10M136 400h10M66 441h10M199 346h10M122 451h10M122 431h10M128 486h10M192 432h10M122 451h10M91 443h10M205 379h10M51 511h10M127 442h10M161 371h10M217 387h10M79 418h10M26 522h10M168 442h10M78 371h10M115 487h10M65 460h10M106 425h10M133 432h10M132 403h10M154 426h10M111 415h10M99 464h10M137 355h10M140 441h10M151 369h10M99 439h10M152 424h10M223 383h10M125 409h10M183 370h10M84 462h10M157 405h10M171 435h10M154 425h10M119 419h10M138 384h10M114 409h10M161 398h10M153 427h10M101 486h10M97 418h10M109 397h10M153 459h10M207 382h10M196 379h10M130 477h10M170 480h10M178 412h10M96 446h10M140 411h10M91 460h10M77 391h10M125 444h10M107 429h10M130 433h10M115 468h10M88 356h10M73 418h10M120 422h10M95 351h10M198 332h10M128 474h10M129 392h10M145 379h10M170 423h10M172 393h10M134 395h10M157 359h10M105 384h10M170 442h10M204 415h10M104 412h10M192 384h10M102 392h10M88 482h10M206 377h10M91 464h10M189 360h10M61 433h10M146 368h10M106 483h10M60 416h10M41 502h10M116 411h10M75 399h10M157 386h10M138 449h10M214 347h10M90 479h10M120 390h10M90 395h10M103 428h10M84 478h10M151 385h10M166 401h10M144 400h10M83 454h10M279 402h10M137 372h10M124 415h10M173 368h10M145 433h10M150 407h10M130 472h10M215 376h10M139 373h10M124 438h10M60 419h10M177 407h10M146 427h10M94 456h10M242 327h10M179 412h10M183 395h10M134 450h10M30 400h10M161 376h10M155 392h10M116 433h10M103 491h10M114 454h10M198 376h10M154 419h10M176 435h10M143 435h10M131 492h10M113 389h10M150 395h10M139 453h10M97 396h10M178 341h10M159 377h10M120 484h10M139 402h10M102 433h10M151 434h10M181 393h10M123 414h10M208 395h10M134 412h10M117 463h10M137 419h10M225 395h10M73 415h10M118 408h10M122 450h10M191 432h10M130 380h10M101 361h10M195 384h10M261 404h10M192 414h10M207 410h10M239 366h10M109 477h10M158 458h10M154 478h10M160 472h10M147 393h10M118 421h10M118 426h10M189 363h10M112 422h10M182 408h10M222 439h10M120 498h10M149 472h10M187 376h10M116 435h10M107 458h10M173 373h10M54 484h10M133 468h10M194 428h10M174 436h10M172 428h10M111 435h10M166 463h10M102 441h10M159 387h10M107 450h10M108 411h10M53 451h10M116 492h10M230 407h10M110 418h10M176 426h10M149 471h10M145 396h10M101 417h10M130 489h10M136 391h10M203 439h10M15 523h10M151 452h10M117 400h10M146 395h10M124 370h10M164 415h10M144 517h10M47 426h10M147 495h10M118 385h10M111 393h10M186 427h10M136 425h10M179 426h10M137 441h10M149 416h10M188 426h10M144 424h10M55 469h10M188 385h10M168 432h10M158 369h10M143 421h10M98 388h10M47 491h10M230 349h10M194 420h10M164 399h10M144 447h10M154 399h10M75 406h10M94 442h10M89 455h10M116 463h10M100 436h10M117 426h10M120 470h10M102 441h10M212 380h10M174 391h10M93 428h10M152 422h10M202 381h10M208 376h10M59 468h10M127 483h10M261 382h10M59 376h10M197 382h10M190 349h10M101 448h10M75 444h10M194 371h10M112 449h10M128 454h10M108 435h10M173 383h10M218 420h10M143 393h10M226 371h10M100 498h10M169 383h10M124 429h10M153 406h10M173 459h10M182 406h10M169 373h10M100 419h10M128 440h10M93 399h10M121 522h10M96 424h10M167 400h10M130 452h10M157 450h10M110 448h10M99 499h10M107 456h10M145 428h10M119 488h10M136 381h10M159 465h10M86 401h10M111 433h10M174 383h10M142 438h10M102 413h10M175 359h10M133 497h10M87 462h10M80 470h10M104 462h10M216 408h10M110 446h10M97 405h10M57 468h10M68 351h10M180 406h10M152 447h10M91 424h10M193 405h10M222 383h10M120 414h10M72 450h10M200 386h10M180 421h10M107 444h10M143 434h10M114 459h10M136 481h10M104 444h10M168 362h10M125 366h10M127 462h10M133 451h10M109 474h10M141 459h10M120 341h10M196 373h10M171 416h10M93 486h10M159 412h10M145 431h10M101 413h10M107 437h10M97 437h10M140 498h10M101 420h10M146 481h10M113 430h10M129 446h10M143 459h10M132 420h10M87 441h10M148 380h10M122 350h10M132 415h10M156 459h10M176 385h10M173 463h10M61 400h10M111 459h10M140 419h10M98 422h10M170 420h10M72 440h10M145 457h10M169 403h10M68 441h10M139 376h10M97 433h10M161 463h10M142 395h10M78 525h10M184 420h10M189 362h10M173 436h10M130 377h10M184 405h10M220 392h10M169 445h10M159 381h10M162 412h10M175 361h10M106 412h10M120 513h10M170 419h10M130 437h10M120 362h10M116 375h10M87 480h10M163 439h10M160 417h10M157 368h10M158 376h10M178 436h10M145 449h10M140 401h10M157 435h10M167 445h10M152 424h10M195 412h10M189 420h10M155 490h10M104 445h10M102 406h10M96 522h10M186 377h10M178 423h10M68 464h10M192 428h10M126 403h10M113 484h10M75 434h10M186 382h10M147 401h10M129 413h10M25 467h10M139 473h10M126 466h10M144 427h10M85 358h10M132 462h10M198 422h10M181 435h10M194 429h10M191 466h10M144 506h10M104 463h10M74 529h10M200 337h10M45 522h10M70 408h10M178 352h10M214 360h10M107 400h10M171 403h10M182 353h10M118 415h10M91 427h10M105 464h10M109 488h10M79 411h10M229 395h10M136 382h10M160 426h10M160 468h10M201 370h10M156 399h10M107 432h10M95 410h10M64 437h10M126 429h10M165 423h10M162 404h10M122 495h10M105 409h10M110 405h10M186 428h10M153 339h10M120 411h10M143 379h10M63 394h10M152 421h10M170 428h10M112 424h10M159 361h10M232 347h10M75 396h10M170 436h10M78 446h10M126 457h10M166 425h10M177 400h10M179 393h10M82 451h10M154 419h10M42 441h10M70 454h10M139 437h10M140 391h10M112 389h10M133 415h10M126 437h10M138 398h10M188 461h10M175 347h10M105 488h10M255 422h10M135 424h10M126 434h10M216 422h10M63 389h10M187 423h10M125 408h10M117 395h10M204 436h10M77 428h10M167 421h10M69 379h10M114 382h10M100 456h10M116 389h10M205 371h10M89 475h10M98 460h10M34 446h10M160 482h10M157 446h10M111 433h10M228 419h10M60 468h10M150 395h10M167 347h10M198 378h10M88 472h10M173 282h10M109 393h10M158 396h10M184 424h10M84 438h10M201 392h10M91 458h10M180 409h10M255 270h10M232 293h10M233 311h10M173 338h10M249 297h10M188 348h10M183 362h10M239 330h10M222 298h10M176 311h10M231 280h10M237 332h10M152 378h10M217 323h10M242 315h10M234 348h10M133 417h10M250 257h10M201 365h10M167 276h10M235 300h10M194 335h10M152 365h10M194 380h10M149 400h10M132 332h10M170 363h10M189 372h10M215 347h10M239 310h10M225 269h10M182 346h10M210 296h10M232 325h10M149 316h10M143 373h10M179 323h10M276 298h10M155 399h10M205 352h10M259 276h10M153 379h10M141 329h10M218 318h10M226 289h10M181 336h10M198 318h10M184 355h10M219 383h10M206 367h10M245 299h10M144 353h10M195 368h10M209 309h10M171 379h10M177 297h10M237 313h10M179 364h10M172 301h10M223 302h10M183 256h10M246 272h10M206 322h10M130 369h10M180 341h10M233 322h10M159 316h10M248 263h10M194 297h10M210 334h10M168 363h10M203 317h10M227 262h10M204 340h10M178 345h10M207 344h10M201 343h10M181 329h10M181 330h10M236 262h10M167 349h10M114 371h10M261 317h10M177 392h10M186 344h10M248 270h10M219 323h10M214 280h10M221 287h10M235 273h10M204 341h10M212 307h10M230 292h10M141 341h10M187 346h10M262 287h10M233 271h10M173 365h10M204 308h10M213 323h10M227 321h10M141 335h10M198 285h10M187 312h10M223 310h10M198 275h10M222 280h10M201 364h10M216 378h10M195 336h10M196 365h10M251 309h10M184 282h10M256 281h10M207 329h10M217 365h10M190 341h10M231 333h10M211 285h10M161 352h10M103 378h10M261 259h10M166 377h10M256 282h10M217 331h10M248 282h10M217 272h10M250 323h10M219 368h10M153 385h10M140 368h10M212 288h10M202 381h10M167 286h10M183 300h10M278 261h10M190 324h10M199 324h10M191 359h10M138 325h10M200 350h10M222 346h10M169 315h10M197 307h10M232 294h10M203 334h10M183 302h10M196 358h10M228 250h10M218 323h10M177 324h10M243 295h10M150 385h10M206 285h10M218 350h10M149 342h10M262 349h10M204 308h10M199 329h10M173 327h10M225 257h10M199 321h10M186 390h10M150 383h10M201 352h10M198 317h10M147 321h10M236 298h10M200 373h10M161 362h10M170 331h10M131 322h10M180 353h10M256 331h10M197 351h10M236 299h10M219 371h10M236 250h10M235 308h10M189 277h10M133 368h10M260 276h10M164 342h10M211 360h10M236 336h10M179 286h10M229 316h10M172 336h10M211 289h10M126 368h10M246 313h10M177 338h10M184 326h10M192 331h10M222 354h10M246 277h10M148 411h10M289 310h10M140 355h10M204 329h10M179 368h10M195 278h10M232 319h10M157 323h10M219 331h10M146 341h10M184 346h10M218 331h10M189 302h10M219 288h10M226 294h10M227 324h10M173 331h10M159 328h10M166 346h10M234 283h10M188 322h10M232 299h10M220 325h10M172 378h10M250 360h10M150 298h10M199 302h10M242 333h10M259 239h10M151 390h10M248 275h10M195 334h10M169 324h10M161 267h10M187 354h10M193 334h10M223 309h10M222 320h10M240 331h10M222 272h10M157 328h10M181 317h10M179 338h10M219 314h10M164 289h10M141 315h10M196 325h10M218 344h10M211 278h10M174 330h10M148 354h10M196 366h10M165 333h10M212 355h10M212 363h10M225 291h10M130 386h10M243 277h10M228 298h10M149 348h10M166 273h10M233 289h10M182 313h10M240 376h10M301 485h10M280 390h10M315 457h10M161 401h10M265 449h10M119 456h10M269 477h10M238 454h10M239 422h10M238 395h10M198 434h10M211 437h10M257 370h10M198 447h10M129 475h10M192 373h10M334 329h10M236 424h10M232 402h10M261 358h10M223 370h10M202 373h10M292 449h10M233 431h10M305 462h10M209 433h10M339 428h10M272 368h10M275 357h10M314 492h10M290 420h10M145 491h10M143 369h10M291 356h10M389 483h10M315 419h10M174 368h10M229 387h10M345 409h10M221 423h10M207 442h10M233 451h10M304 519h10M170 446h10M257 503h10M257 491h10M306 488h10M282 486h10M137 400h10M199 476h10M250 392h10M374 460h10M278 357h10M314 450h10M330 473h10M268 431h10M134 460h10M48 364h10M326 455h10M290 456h10M166 359h10M198 441h10M278 378h10M279 433h10M203 441h10M282 512h10M209 474h10M250 428h10M265 399h10M176 468h10M183 393h10M293 465h10M296 422h10M374 387h10M181 424h10M150 419h10M177 438h10M160 421h10M194 379h10M331 428h10M298 348h10M245 421h10M330 415h10M260 357h10M293 396h10M193 380h10M153 361h10M174 419h10M243 410h10M284 391h10M409 421h10M334 386h10M198 372h10M233 395h10M279 432h10M132 348h10M259 524h10M277 415h10M314 440h10M233 469h10M238 409h10M271 380h10M218 358h10M318 386h10M227 371h10M299 463h10M249 373h10M265 536h10M388 498h10M337 443h10M363 423h10M128 480h10M425 404h10M434 418h10M325 378h10M382 387h10M194 352h10M369 464h10M185 418h10M321 441h10M236 348h10M44 337h10M159 397h10M191 379h10M231 400h10M250 361h10M261 394h10M231 424h10M240 432h10M338 440h10M282 431h10M300 374h10M170 448h10M122 374h10M353 508h10M270 505h10M302 425h10M235 459h10M184 396h10M208 416h10M317 454h10M238 442h10M196 449h10M337 407h10M184 299h10M241 369h10M229 460h10M191 415h10M227 428h10M235 470h10M278 366h10M359 426h10M280 406h10M373 501h10M196 443h10M207 467h10M298 471h10M280 416h10M282 476h10M229 398h10M50 466h10M340 496h10M352 419h10M310 375h10M381 430h10M329 413h10M203 435h10M241 452h10M255 371h10M170 496h10M241 476h10M208 397h10M244 412h10M234 526h10M213 441h10M183 444h10M372 418h10M378 448h10M332 400h10M256 490h10M254 363h10M312 313h10M279 414h10M355 417h10M325 421h10M331 446h10M356 400h10M168 393h10M304 430h10M178 412h10M233 371h10M155 400h10M212 469h10M156 459h10M190 365h10M234 394h10M243 448h10M207 392h10M201 382h10M310 462h10M266 449h10M333 460h10M229 442h10M288 421h10M222 459h10M281 415h10M271 412h10M160 446h10M296 425h10M327 445h10M250 321h10M172 435h10M372 382h10M180 434h10M202 399h10M366 330h10M268 383h10M245 409h10M202 402h10M241 469h10M178 352h10M244 472h10M327 332h10M235 437h10M243 377h10M249 429h10M214 430h10M180 409h10M256 447h10M294 387h10M294 439h10M262 410h10M232 468h10M359 365h10M353 373h10M229 390h10M196 431h10M283 406h10M241 472h10M187 477h10M319 437h10M193 459h10M245 429h10M161 371h10M173 399h10M206 373h10M323 344h10M245 362h10M166 284h10M249 286h10M275 279h10M185 221h10M191 352h10M187 199h10M227 176h10M182 261h10M187 144h10M190 200h10M82 314h10M221 222h10M156 247h10M173 224h10M201 197h10M168 337h10M274 212h10M69 169h10M235 254h10M144 226h10M210 264h10M134 385h10M178 215h10M92 361h10M247 280h10M149 327h10M199 253h10M207 291h10M119 161h10M62 382h10M192 246h10M148 229h10M202 322h10M185 200h10M217 336h10M182 319h10M164 247h10M148 172h10M216 234h10M79 287h10M73 291h10M146 236h10M214 235h10M169 174h10M151 310h10M179 331h10M120 203h10M267 266h10M127 296h10M261 290h10M196 223h10M226 247h10M125 145h10M188 205h10M177 307h10M118 306h10M132 236h10M198 224h10M223 267h10M206 225h10M184 142h10M237 297h10M147 241h10M283 261h10M250 260h10M130 250h10M221 189h10M193 241h10M98 229h10M152 175h10M206 278h10M113 241h10M188 280h10M141 236h10M183 237h10M173 250h10M194 207h10M184 303h10M193 334h10M178 121h10M183 229h10M222 308h10M234 244h10M193 239h10M145 247h10M180 280h10M204 229h10M181 184h10M198 288h10M219 251h10M199 180h10M204 260h10M178 221h10M389 413h10M409 425h10M360 441h10M365 426h10M379 452h10M333 443h10M383 424h10M371 457h10M392 477h10M388 445h10M370 379h10M412 435h10M380 472h10M420 387h10M422 430h10M343 431h10M372 431h10M360 442h10M392 431h10M368 448h10M384 411h10M319 502h10M294 454h10M365 427h10M358 455h10M387 424h10M393 446h10M360 433h10M346 370h10M406 454h10M375 413h10" stroke="#000" stroke-width="10" stroke-opacity="0.42" fill="none" filter="url(#sf)"/>
<rect x="389.4" y="478.9" width="62.80000000000001" height="55.60000000000002" fill="none" stroke="#000" stroke-width="1.1"/>
<path d="M421.4 478.9V534.5M389.4 515.4H452.2" stroke="#000" stroke-width="1.1" fill="none"/>
<path d="M390.2 478.9V534.5" stroke="#000" stroke-width="1.9" stroke-dasharray="2.3 0.5 1.2 0.4" stroke-opacity="0.88" fill="none"/>
<path d="M389.4 535.1H452.2" stroke="#000" stroke-width="1.0" stroke-dasharray="1.3 1.5" stroke-opacity="0.7" fill="none"/>
<text x="448.7" y="488.4" font-size="7.4" text-anchor="end" font-family="Liberation Serif, Times New Roman, serif" stroke="#000" stroke-width="0.15">&lt;1</text>
<path d="M22 478V497.5M22 536V555.6H223.8M267.5 555.6H462" stroke="#000" stroke-width="1.4" fill="none"/>
<path d="M22 469.6L17.6 479.6L22 477.6L26.4 479.6Z" fill="#000"/>
<path d="M470.8 555.6L459.9 551.1L462.5 555.6L459.9 560.1Z" fill="#000"/>
<text transform="translate(25.2 528.3) rotate(-90)" font-size="12.2" font-family="Liberation Sans, Arial, sans-serif">CD1</text>
<text x="233" y="560.9" font-size="13.4" text-anchor="start" font-family="Liberation Sans, Arial, sans-serif">CD7</text>
<text x="476.6" y="509.5" font-size="14.1" text-anchor="start" font-family="Liberation Sans, Arial, sans-serif">Day 16</text>
<text x="132.6" y="225.3" font-size="13.8" text-anchor="middle" font-family="Liberation Sans, Arial, sans-serif">Day 10</text>
<text x="105.7" y="253.9" font-size="10.0" text-anchor="start" font-family="Liberation Sans, Arial, sans-serif" textLength="71" lengthAdjust="spacingAndGlyphs">Number of cells</text>
<path d="M60.4 279.3H215.3" stroke="#505050" stroke-width="1.15" fill="none"/>
<path d="M60.4 278.1V280.1M112.0 278.1V280.1M163.7 278.1V280.1M215.3 278.1V280.1" stroke="#505050" stroke-width="0.9" fill="none"/>
<text x="57.1" y="274.2" font-size="6.9" stroke="#000" stroke-width="0.12" font-family="Liberation Sans, Arial, sans-serif">10</text>
<text x="64.5" y="271.9" font-size="7.0" stroke="#000" stroke-width="0.12" font-family="Liberation Sans, Arial, sans-serif">2</text>
<text x="108.7" y="274.2" font-size="6.9" stroke="#000" stroke-width="0.12" font-family="Liberation Sans, Arial, sans-serif">10</text>
<text x="116.1" y="271.9" font-size="7.0" stroke="#000" stroke-width="0.12" font-family="Liberation Sans, Arial, sans-serif">3</text>
<text x="160.4" y="274.2" font-size="6.9" stroke="#000" stroke-width="0.12" font-family="Liberation Sans, Arial, sans-serif">10</text>
<text x="167.8" y="271.9" font-size="7.0" stroke="#000" stroke-width="0.12" font-family="Liberation Sans, Arial, sans-serif">4</text>
<text x="212.0" y="274.2" font-size="6.9" stroke="#000" stroke-width="0.12" font-family="Liberation Sans, Arial, sans-serif">10</text>
<text x="219.4" y="271.9" font-size="7.0" stroke="#000" stroke-width="0.12" font-family="Liberation Sans, Arial, sans-serif">5</text>
<path d="M160.8 285.61H173.8M173.8 283.71V287.61" stroke="#000" stroke-width="1.3" fill="none"/>
<rect x="60.4" y="282.90" width="100.4" height="5.42" fill="#000" stroke="#000" stroke-width="1.05"/>
<path d="M160.4 291.03H172.3M172.3 289.13V293.03" stroke="#000" stroke-width="1.3" fill="none"/>
<rect x="60.4" y="288.32" width="100.0" height="5.42" fill="#404040" stroke="#000" stroke-width="1.05"/>
<path d="M160.2 296.45H172.3M172.3 294.55V298.45" stroke="#000" stroke-width="1.3" fill="none"/>
<rect x="60.4" y="293.74" width="99.8" height="5.42" fill="#a6a6a6" stroke="#000" stroke-width="1.05"/>
<path d="M159.2 301.87H172.3M172.3 299.97V303.87" stroke="#000" stroke-width="1.3" fill="none"/>
<rect x="60.4" y="299.16" width="98.8" height="5.42" fill="#e4e4e4" stroke="#000" stroke-width="1.05"/>
<path d="M166.2 307.29H178.0M178.0 305.39V309.29" stroke="#000" stroke-width="1.3" fill="none"/>
<rect x="60.4" y="304.58" width="105.8" height="5.42" fill="#fff" stroke="#000" stroke-width="1.05"/>
<path d="M158.8 319.91H169.0M169.0 318.01V321.91" stroke="#000" stroke-width="1.3" fill="none"/>
<rect x="60.4" y="317.20" width="98.4" height="5.42" fill="#000" stroke="#000" stroke-width="1.05"/>
<path d="M159.0 325.33H169.4M169.4 323.43V327.33" stroke="#000" stroke-width="1.3" fill="none"/>
<rect x="60.4" y="322.62" width="98.6" height="5.42" fill="#404040" stroke="#000" stroke-width="1.05"/>
<path d="M150.2 330.75H160.4M160.4 328.85V332.75" stroke="#000" stroke-width="1.3" fill="none"/>
<rect x="60.4" y="328.04" width="89.8" height="5.42" fill="#a6a6a6" stroke="#000" stroke-width="1.05"/>
<path d="M125.2 336.17H138.0M138.0 334.27V338.17" stroke="#000" stroke-width="1.3" fill="none"/>
<rect x="60.4" y="333.46" width="64.8" height="5.42" fill="#e4e4e4" stroke="#000" stroke-width="1.05"/>
<path d="M91.2 341.59H108.7M108.7 339.69V343.59" stroke="#000" stroke-width="1.3" fill="none"/>
<rect x="60.4" y="338.88" width="30.8" height="5.42" fill="#fff" stroke="#000" stroke-width="1.05"/>
<path d="M152.7 354.21H162.7M162.7 352.31V356.21" stroke="#000" stroke-width="1.3" fill="none"/>
<rect x="60.4" y="351.50" width="92.3" height="5.42" fill="#000" stroke="#000" stroke-width="1.05"/>
<path d="M159.8 359.63H171.0M171.0 357.73V361.63" stroke="#000" stroke-width="1.3" fill="none"/>
<rect x="60.4" y="356.92" width="99.4" height="5.42" fill="#404040" stroke="#000" stroke-width="1.05"/>
<path d="M144.4 365.05H156.0M156.0 363.15V367.05" stroke="#000" stroke-width="1.3" fill="none"/>
<rect x="60.4" y="362.34" width="84.0" height="5.42" fill="#a6a6a6" stroke="#000" stroke-width="1.05"/>
<path d="M130.1 370.47H143.8M143.8 368.57V372.47" stroke="#000" stroke-width="1.3" fill="none"/>
<rect x="60.4" y="367.76" width="69.7" height="5.42" fill="#e4e4e4" stroke="#000" stroke-width="1.05"/>
<path d="M123.2 375.89H137.3M137.3 373.99V377.89" stroke="#000" stroke-width="1.3" fill="none"/>
<rect x="60.4" y="373.18" width="62.8" height="5.42" fill="#fff" stroke="#000" stroke-width="1.05"/>
<path d="M151.7 388.51H164.6M164.6 386.61V390.51" stroke="#000" stroke-width="1.3" fill="none"/>
<rect x="60.4" y="385.80" width="91.3" height="5.42" fill="#000" stroke="#000" stroke-width="1.05"/>
<path d="M154.6 393.93H166.5M166.5 392.03V395.93" stroke="#000" stroke-width="1.3" fill="none"/>
<rect x="60.4" y="391.22" width="94.2" height="5.42" fill="#404040" stroke="#000" stroke-width="1.05"/>
<path d="M156.0 399.35H168.0M168.0 397.45V401.35" stroke="#000" stroke-width="1.3" fill="none"/>
<rect x="60.4" y="396.64" width="95.6" height="5.42" fill="#a6a6a6" stroke="#000" stroke-width="1.05"/>
<path d="M158.3 404.77H170.4M170.4 402.87V406.77" stroke="#000" stroke-width="1.3" fill="none"/>
<rect x="60.4" y="402.06" width="97.9" height="5.42" fill="#e4e4e4" stroke="#000" stroke-width="1.05"/>
<path d="M169.8 410.19H182.3M182.3 408.29V412.19" stroke="#000" stroke-width="1.3" fill="none"/>
<rect x="60.4" y="407.48" width="109.4" height="5.42" fill="#fff" stroke="#000" stroke-width="1.05"/>
<path d="M60.4 278.8V417.0" stroke="#555" stroke-width="1" fill="none"/>
<path d="M58.4 279.3H60.4M58.4 313.6H60.4M58.4 347.9H60.4M58.4 382.2H60.4M58.4 416.5H60.4" stroke="#666" stroke-width="0.8" fill="none"/>
<text x="2.6" y="299.1" font-size="10.3" font-family="Liberation Sans, Arial, sans-serif" textLength="48.8" lengthAdjust="spacingAndGlyphs"><tspan>CD34</tspan><tspan dy="-3.6" font-size="9.4">+</tspan><tspan dy="3.6">CD7</tspan><tspan dy="-3.6" font-size="9.4">-</tspan></text>
<text x="297.4" y="298.8" font-size="10.3" font-family="Liberation Sans, Arial, sans-serif" textLength="48.4" lengthAdjust="spacingAndGlyphs"><tspan>CD34</tspan><tspan dy="-3.6" font-size="9.4">+</tspan><tspan dy="3.6">CD7</tspan><tspan dy="-3.6" font-size="9.4">-</tspan></text>
<text x="2.6" y="333.40000000000003" font-size="10.3" font-family="Liberation Sans, Arial, sans-serif" textLength="50.4" lengthAdjust="spacingAndGlyphs"><tspan>CD34</tspan><tspan dy="-3.6" font-size="9.4">+</tspan><tspan dy="3.6">CD7</tspan><tspan dy="-3.6" font-size="9.4">+</tspan></text>
<text x="297.4" y="333.1" font-size="10.3" font-family="Liberation Sans, Arial, sans-serif" textLength="50.0" lengthAdjust="spacingAndGlyphs"><tspan>CD34</tspan><tspan dy="-3.6" font-size="9.4">+</tspan><tspan dy="3.6">CD7</tspan><tspan dy="-3.6" font-size="9.4">+</tspan></text>
<text x="2.6" y="367.70000000000005" font-size="10.3" font-family="Liberation Sans, Arial, sans-serif" textLength="49.0" lengthAdjust="spacingAndGlyphs"><tspan>CD34</tspan><tspan dy="-3.6" font-size="9.4">-</tspan><tspan dy="3.6">CD7</tspan><tspan dy="-3.6" font-size="9.4">+</tspan></text>
<text x="297.4" y="367.4" font-size="10.3" font-family="Liberation Sans, Arial, sans-serif" textLength="48.6" lengthAdjust="spacingAndGlyphs"><tspan>CD34</tspan><tspan dy="-3.6" font-size="9.4">-</tspan><tspan dy="3.6">CD7</tspan><tspan dy="-3.6" font-size="9.4">+</tspan></text>
<text x="2.6" y="402.0" font-size="10.3" font-family="Liberation Sans, Arial, sans-serif" textLength="47.3" lengthAdjust="spacingAndGlyphs"><tspan>CD34</tspan><tspan dy="-3.6" font-size="9.4">-</tspan><tspan dy="3.6">CD7</tspan><tspan dy="-3.6" font-size="9.4">-</tspan></text>
<text x="297.4" y="401.7" font-size="10.3" font-family="Liberation Sans, Arial, sans-serif" textLength="46.9" lengthAdjust="spacingAndGlyphs"><tspan>CD34</tspan><tspan dy="-3.6" font-size="9.4">-</tspan><tspan dy="3.6">CD7</tspan><tspan dy="-3.6" font-size="9.4">-</tspan></text>
<path d="M173.5 320.2H181.0V336.6H173.5" stroke="#000" stroke-width="1.9" fill="none" stroke-linejoin="miter"/>
<text x="186.4" y="334.6" font-size="12.5" text-anchor="middle" font-family="Liberation Sans, Arial, sans-serif" style="fill:#2a2a2a" stroke="#2a2a2a" stroke-width="0.15">*</text>
<path d="M192.2 320.2H200.3V340.8H192.2" stroke="#000" stroke-width="1.9" fill="none" stroke-linejoin="miter"/>
<text x="205.4" y="334.6" font-size="12.5" text-anchor="middle" font-family="Liberation Sans, Arial, sans-serif" style="fill:#2a2a2a" stroke="#2a2a2a" stroke-width="0.15">*</text>
<path d="M173.9 354.8H181.0V371.3H173.9" stroke="#000" stroke-width="1.9" fill="none" stroke-linejoin="miter"/>
<text x="186.5" y="369.40000000000003" font-size="12.5" text-anchor="middle" font-family="Liberation Sans, Arial, sans-serif" style="fill:#2a2a2a" stroke="#2a2a2a" stroke-width="0.15">*</text>
<path d="M192.2 354.8H200.5V376.0H192.2" stroke="#000" stroke-width="1.9" fill="none" stroke-linejoin="miter"/>
<text x="205.5" y="369.40000000000003" font-size="12.5" text-anchor="middle" font-family="Liberation Sans, Arial, sans-serif" style="fill:#2a2a2a" stroke="#2a2a2a" stroke-width="0.15">*</text>
<rect x="225.9" y="315.2" width="5.0" height="5.0" fill="#000" stroke="#000" stroke-width="1.35"/>
<text x="233.2" y="320.8" font-size="8.7" text-anchor="start" font-family="Liberation Sans, Arial, sans-serif" stroke="#000" stroke-width="0.12">0 µM GSI</text>
<rect x="225.9" y="329.4" width="5.0" height="5.0" fill="#404040" stroke="#000" stroke-width="1.35"/>
<text x="233.2" y="335.0" font-size="8.7" text-anchor="start" font-family="Liberation Sans, Arial, sans-serif" stroke="#000" stroke-width="0.12">0.1 µM GSI</text>
<rect x="225.9" y="343.4" width="5.0" height="5.0" fill="#a6a6a6" stroke="#000" stroke-width="1.35"/>
<text x="233.2" y="349.0" font-size="8.7" text-anchor="start" font-family="Liberation Sans, Arial, sans-serif" stroke="#000" stroke-width="0.12">0.3 µM GSI</text>
<rect x="225.9" y="357.5" width="5.0" height="5.0" fill="#e4e4e4" stroke="#000" stroke-width="1.35"/>
<text x="233.2" y="363.1" font-size="8.7" text-anchor="start" font-family="Liberation Sans, Arial, sans-serif" stroke="#000" stroke-width="0.12">1 µM GSI</text>
<rect x="225.9" y="371.5" width="5.0" height="5.0" fill="#fff" stroke="#000" stroke-width="1.35"/>
<text x="233.2" y="377.1" font-size="8.7" text-anchor="start" font-family="Liberation Sans, Arial, sans-serif" stroke="#000" stroke-width="0.12">5 µM GSI</text>
<text x="427.1" y="225.8" font-size="13.6" text-anchor="middle" font-family="Liberation Sans, Arial, sans-serif">Day 16</text>
<text x="398.8" y="253.6" font-size="10.0" text-anchor="start" font-family="Liberation Sans, Arial, sans-serif" textLength="71" lengthAdjust="spacingAndGlyphs">Number of cells</text>
<path d="M356.3 279.0H507.9" stroke="#505050" stroke-width="1.15" fill="none"/>
<path d="M356.3 277.8V279.8M386.6 277.8V279.8M416.9 277.8V279.8M447.3 277.8V279.8M477.6 277.8V279.8M507.9 277.8V279.8" stroke="#505050" stroke-width="0.9" fill="none"/>
<text x="352.1" y="271.9" font-size="6.9" textLength="5.7" lengthAdjust="spacingAndGlyphs" stroke="#000" stroke-width="0.12" font-family="Liberation Sans, Arial, sans-serif">10</text>
<text x="358.1" y="269.6" font-size="7.0" stroke="#000" stroke-width="0.12" font-family="Liberation Sans, Arial, sans-serif">2</text>
<text x="382.4" y="271.9" font-size="6.9" textLength="5.7" lengthAdjust="spacingAndGlyphs" stroke="#000" stroke-width="0.12" font-family="Liberation Sans, Arial, sans-serif">10</text>
<text x="388.4" y="269.6" font-size="7.0" stroke="#000" stroke-width="0.12" font-family="Liberation Sans, Arial, sans-serif">3</text>
<text x="412.7" y="271.9" font-size="6.9" textLength="5.7" lengthAdjust="spacingAndGlyphs" stroke="#000" stroke-width="0.12" font-family="Liberation Sans, Arial, sans-serif">10</text>
<text x="418.7" y="269.6" font-size="7.0" stroke="#000" stroke-width="0.12" font-family="Liberation Sans, Arial, sans-serif">4</text>
<text x="443.1" y="271.9" font-size="6.9" textLength="5.7" lengthAdjust="spacingAndGlyphs" stroke="#000" stroke-width="0.12" font-family="Liberation Sans, Arial, sans-serif">10</text>
<text x="449.1" y="269.6" font-size="7.0" stroke="#000" stroke-width="0.12" font-family="Liberation Sans, Arial, sans-serif">5</text>
<text x="473.4" y="271.9" font-size="6.9" textLength="5.7" lengthAdjust="spacingAndGlyphs" stroke="#000" stroke-width="0.12" font-family="Liberation Sans, Arial, sans-serif">10</text>
<text x="479.4" y="269.6" font-size="7.0" stroke="#000" stroke-width="0.12" font-family="Liberation Sans, Arial, sans-serif">6</text>
<text x="503.7" y="271.9" font-size="6.9" textLength="5.7" lengthAdjust="spacingAndGlyphs" stroke="#000" stroke-width="0.12" font-family="Liberation Sans, Arial, sans-serif">10</text>
<text x="509.7" y="269.6" font-size="7.0" stroke="#000" stroke-width="0.12" font-family="Liberation Sans, Arial, sans-serif">7</text>
<path d="M427.5 285.31H434.0M434.0 283.41V287.31" stroke="#000" stroke-width="1.3" fill="none"/>
<rect x="356.3" y="282.60" width="71.2" height="5.42" fill="#000" stroke="#000" stroke-width="1.05"/>
<path d="M425.6 290.73H432.8M432.8 288.83V292.73" stroke="#000" stroke-width="1.3" fill="none"/>
<rect x="356.3" y="288.02" width="69.3" height="5.42" fill="#404040" stroke="#000" stroke-width="1.05"/>
<path d="M427.0 296.15H436.2M436.2 294.25V298.15" stroke="#000" stroke-width="1.3" fill="none"/>
<rect x="356.3" y="293.44" width="70.7" height="5.42" fill="#a6a6a6" stroke="#000" stroke-width="1.05"/>
<path d="M429.8 301.57H438.2M438.2 299.67V303.57" stroke="#000" stroke-width="1.3" fill="none"/>
<rect x="356.3" y="298.86" width="73.5" height="5.42" fill="#e4e4e4" stroke="#000" stroke-width="1.05"/>
<path d="M446.3 306.99H455.6M455.6 305.09V308.99" stroke="#000" stroke-width="1.3" fill="none"/>
<rect x="356.3" y="304.28" width="90.0" height="5.42" fill="#fff" stroke="#000" stroke-width="1.05"/>
<path d="M447.0 319.61H455.6M455.6 317.71V321.61" stroke="#000" stroke-width="1.3" fill="none"/>
<rect x="356.3" y="316.90" width="90.7" height="5.42" fill="#000" stroke="#000" stroke-width="1.05"/>
<path d="M443.6 325.03H451.2M451.2 323.13V327.03" stroke="#000" stroke-width="1.3" fill="none"/>
<rect x="356.3" y="322.32" width="87.3" height="5.42" fill="#404040" stroke="#000" stroke-width="1.05"/>
<path d="M435.1 330.45H443.6M443.6 328.55V332.45" stroke="#000" stroke-width="1.3" fill="none"/>
<rect x="356.3" y="327.74" width="78.8" height="5.42" fill="#a6a6a6" stroke="#000" stroke-width="1.05"/>
<path d="M416.3 335.87H426.0M426.0 333.97V337.87" stroke="#000" stroke-width="1.3" fill="none"/>
<rect x="356.3" y="333.16" width="60.0" height="5.42" fill="#e4e4e4" stroke="#000" stroke-width="1.05"/>
<path d="M411.3 341.29H423.0M423.0 339.39V343.29" stroke="#000" stroke-width="1.3" fill="none"/>
<rect x="356.3" y="338.58" width="55.0" height="5.42" fill="#fff" stroke="#000" stroke-width="1.05"/>
<path d="M471.9 353.91H480.6M480.6 352.01V355.91" stroke="#000" stroke-width="1.3" fill="none"/>
<rect x="356.3" y="351.20" width="115.6" height="5.42" fill="#000" stroke="#000" stroke-width="1.05"/>
<path d="M465.2 359.33H472.3M472.3 357.43V361.33" stroke="#000" stroke-width="1.3" fill="none"/>
<rect x="356.3" y="356.62" width="108.9" height="5.42" fill="#404040" stroke="#000" stroke-width="1.05"/>
<path d="M455.6 364.75H463.8M463.8 362.85V366.75" stroke="#000" stroke-width="1.3" fill="none"/>
<rect x="356.3" y="362.04" width="99.3" height="5.42" fill="#a6a6a6" stroke="#000" stroke-width="1.05"/>
<path d="M424.0 370.17H432.2M432.2 368.27V372.17" stroke="#000" stroke-width="1.3" fill="none"/>
<rect x="356.3" y="367.46" width="67.7" height="5.42" fill="#e4e4e4" stroke="#000" stroke-width="1.05"/>
<path d="M411.5 375.59H420.2M420.2 373.69V377.59" stroke="#000" stroke-width="1.3" fill="none"/>
<rect x="356.3" y="372.88" width="55.2" height="5.42" fill="#fff" stroke="#000" stroke-width="1.05"/>
<path d="M453.7 388.21H463.3M463.3 386.31V390.21" stroke="#000" stroke-width="1.3" fill="none"/>
<rect x="356.3" y="385.50" width="97.4" height="5.42" fill="#000" stroke="#000" stroke-width="1.05"/>
<path d="M450.4 393.63H460.4M460.4 391.73V395.63" stroke="#000" stroke-width="1.3" fill="none"/>
<rect x="356.3" y="390.92" width="94.1" height="5.42" fill="#404040" stroke="#000" stroke-width="1.05"/>
<path d="M450.2 399.05H459.8M459.8 397.15V401.05" stroke="#000" stroke-width="1.3" fill="none"/>
<rect x="356.3" y="396.34" width="93.9" height="5.42" fill="#a6a6a6" stroke="#000" stroke-width="1.05"/>
<path d="M441.3 404.47H449.8M449.8 402.57V406.47" stroke="#000" stroke-width="1.3" fill="none"/>
<rect x="356.3" y="401.76" width="85.0" height="5.42" fill="#e4e4e4" stroke="#000" stroke-width="1.05"/>
<path d="M453.7 409.89H463.3M463.3 407.99V411.89" stroke="#000" stroke-width="1.3" fill="none"/>
<rect x="356.3" y="407.18" width="97.4" height="5.42" fill="#fff" stroke="#000" stroke-width="1.05"/>
<path d="M356.3 278.5V416.7" stroke="#555" stroke-width="1" fill="none"/>
<path d="M354.3 279.0H356.3M354.3 313.3H356.3M354.3 347.6H356.3M354.3 381.9H356.3M354.3 416.2H356.3" stroke="#666" stroke-width="0.8" fill="none"/>
<path d="M460.6 319.2H467.3V335.3H460.6" stroke="#000" stroke-width="1.9" fill="none" stroke-linejoin="miter"/>
<text x="473.8" y="333.8" font-size="12.5" text-anchor="middle" font-family="Liberation Sans, Arial, sans-serif" style="fill:#2a2a2a" stroke="#2a2a2a" stroke-width="0.15">*</text>
<path d="M479.4 319.2H487.2V340.1H479.4" stroke="#000" stroke-width="1.9" fill="none" stroke-linejoin="miter"/>
<text x="492.6" y="333.8" font-size="12.5" text-anchor="middle" font-family="Liberation Sans, Arial, sans-serif" style="fill:#2a2a2a" stroke="#2a2a2a" stroke-width="0.15">*</text>
<path d="M486.0 354.2H493.6V370.0H486.0" stroke="#000" stroke-width="1.9" fill="none" stroke-linejoin="miter"/>
<text x="498.9" y="368.6" font-size="12.5" text-anchor="middle" font-family="Liberation Sans, Arial, sans-serif" style="fill:#2a2a2a" stroke="#2a2a2a" stroke-width="0.15">*</text>
<path d="M504.8 354.2H512.8V375.2H504.8" stroke="#000" stroke-width="1.9" fill="none" stroke-linejoin="miter"/>
<text x="517.2" y="368.6" font-size="12.5" text-anchor="middle" font-family="Liberation Sans, Arial, sans-serif" style="fill:#2a2a2a" stroke="#2a2a2a" stroke-width="0.15">*</text>
<path d="M58.0 594.0H230.8" stroke="#808080" stroke-width="0.95" fill="none"/>
<path d="M58.0 592.8V594.8M101.2 592.8V594.8M144.4 592.8V594.8M187.6 592.8V594.8M230.8 592.8V594.8" stroke="#808080" stroke-width="0.9" fill="none"/>
<text x="54.5" y="587.7" font-size="6.9" textLength="5.5" lengthAdjust="spacingAndGlyphs" stroke="#000" stroke-width="0.12" font-family="Liberation Sans, Arial, sans-serif">10</text>
<text x="60.3" y="585.4" font-size="7.0" stroke="#000" stroke-width="0.12" font-family="Liberation Sans, Arial, sans-serif">2</text>
<text x="97.7" y="587.7" font-size="6.9" textLength="5.5" lengthAdjust="spacingAndGlyphs" stroke="#000" stroke-width="0.12" font-family="Liberation Sans, Arial, sans-serif">10</text>
<text x="103.5" y="585.4" font-size="7.0" stroke="#000" stroke-width="0.12" font-family="Liberation Sans, Arial, sans-serif">3</text>
<text x="140.9" y="587.7" font-size="6.9" textLength="5.5" lengthAdjust="spacingAndGlyphs" stroke="#000" stroke-width="0.12" font-family="Liberation Sans, Arial, sans-serif">10</text>
<text x="146.7" y="585.4" font-size="7.0" stroke="#000" stroke-width="0.12" font-family="Liberation Sans, Arial, sans-serif">4</text>
<text x="184.1" y="587.7" font-size="6.9" textLength="5.5" lengthAdjust="spacingAndGlyphs" stroke="#000" stroke-width="0.12" font-family="Liberation Sans, Arial, sans-serif">10</text>
<text x="189.9" y="585.4" font-size="7.0" stroke="#000" stroke-width="0.12" font-family="Liberation Sans, Arial, sans-serif">5</text>
<text x="227.3" y="587.7" font-size="6.9" textLength="5.5" lengthAdjust="spacingAndGlyphs" stroke="#000" stroke-width="0.12" font-family="Liberation Sans, Arial, sans-serif">10</text>
<text x="233.1" y="585.4" font-size="7.0" stroke="#000" stroke-width="0.12" font-family="Liberation Sans, Arial, sans-serif">6</text>
<path d="M215.6 603.83H230.0" stroke="#555" stroke-width="0.7" fill="none"/><circle cx="230.0" cy="603.83" r="0.9" fill="#222"/>
<rect x="58.0" y="600.00" width="157.6" height="7.66" fill="#000" stroke="#000" stroke-width="1.05"/>
<path d="M206.0 611.49H220.0" stroke="#555" stroke-width="0.7" fill="none"/><circle cx="220.0" cy="611.49" r="0.9" fill="#222"/>
<rect x="58.0" y="607.66" width="148.0" height="7.66" fill="#404040" stroke="#000" stroke-width="1.05"/>
<path d="M190.0 619.15H204.0" stroke="#555" stroke-width="0.7" fill="none"/><circle cx="204.0" cy="619.15" r="0.9" fill="#222"/>
<rect x="58.0" y="615.32" width="132.0" height="7.66" fill="#a6a6a6" stroke="#000" stroke-width="1.05"/>
<path d="M136.5 626.81H150.4" stroke="#555" stroke-width="0.7" fill="none"/><circle cx="150.4" cy="626.81" r="0.9" fill="#222"/>
<rect x="58.0" y="622.98" width="78.5" height="7.66" fill="#e4e4e4" stroke="#000" stroke-width="1.05"/>
<path d="M107.5 634.47H121.5" stroke="#555" stroke-width="0.7" fill="none"/><circle cx="121.5" cy="634.47" r="0.9" fill="#222"/>
<rect x="58.0" y="630.64" width="49.5" height="7.66" fill="#fff" stroke="#000" stroke-width="1.05"/>
<path d="M58.0 593.5V644.3" stroke="#555" stroke-width="1" fill="none"/>
<path d="M56.0 594.0H58.0M56.0 644.3H58.0" stroke="#666" stroke-width="0.8" fill="none"/>
<text x="3.0" y="622.6" font-size="9.8" font-family="Liberation Sans, Arial, sans-serif" textLength="45.8" lengthAdjust="spacingAndGlyphs"><tspan>CD7</tspan><tspan dy="-3.6" font-size="9.4">+</tspan><tspan dy="3.6">CD1</tspan><tspan dy="-3.6" font-size="9.4">+</tspan></text>
<path d="M237.9 604.3H244.9V626.6H237.9" stroke="#000" stroke-width="1.9" fill="none" stroke-linejoin="miter"/>
<text x="251.2" y="622.6" font-size="12.5" text-anchor="middle" font-family="Liberation Sans, Arial, sans-serif" style="fill:#2a2a2a" stroke="#2a2a2a" stroke-width="0.15">*</text>
<path d="M256.5 604.3H264.7V634.8H256.5" stroke="#000" stroke-width="1.9" fill="none" stroke-linejoin="miter"/>
<text x="269.5" y="626.2" font-size="12.5" text-anchor="middle" font-family="Liberation Sans, Arial, sans-serif" style="fill:#2a2a2a" stroke="#2a2a2a" stroke-width="0.15">*</text>
<rect x="284.5" y="595.2" width="5.0" height="5.0" fill="#000" stroke="#000" stroke-width="1.35"/>
<text x="291.7" y="600.8000000000001" font-size="8.7" text-anchor="start" font-family="Liberation Sans, Arial, sans-serif" stroke="#000" stroke-width="0.12">0 µM GSI</text>
<rect x="284.5" y="609.2" width="5.0" height="5.0" fill="#404040" stroke="#000" stroke-width="1.35"/>
<text x="291.7" y="614.8000000000001" font-size="8.7" text-anchor="start" font-family="Liberation Sans, Arial, sans-serif" stroke="#000" stroke-width="0.12">0.1 µM GSI</text>
<rect x="284.5" y="623.3" width="5.0" height="5.0" fill="#a6a6a6" stroke="#000" stroke-width="1.35"/>
<text x="291.7" y="628.9" font-size="8.7" text-anchor="start" font-family="Liberation Sans, Arial, sans-serif" stroke="#000" stroke-width="0.12">0.3 µM GSI</text>
<rect x="284.5" y="637.5" width="5.0" height="5.0" fill="#e4e4e4" stroke="#000" stroke-width="1.35"/>
<text x="291.7" y="643.1" font-size="8.7" text-anchor="start" font-family="Liberation Sans, Arial, sans-serif" stroke="#000" stroke-width="0.12">1 µM GSI</text>
<rect x="284.5" y="651.5" width="5.0" height="5.0" fill="#fff" stroke="#000" stroke-width="1.35"/>
<text x="291.7" y="657.1" font-size="8.7" text-anchor="start" font-family="Liberation Sans, Arial, sans-serif" stroke="#000" stroke-width="0.12">5 µM GSI</text>
</svg></body></html>
